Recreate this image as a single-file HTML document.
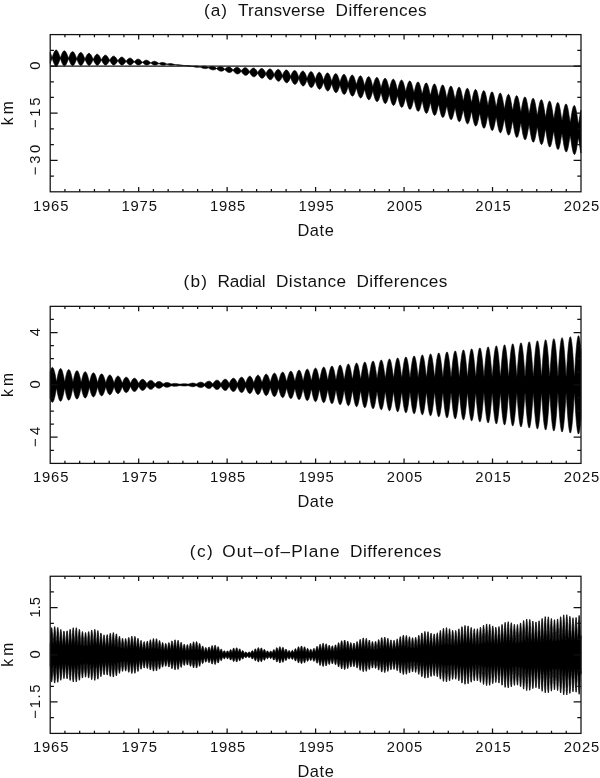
<!DOCTYPE html>
<html><head><meta charset="utf-8"><title>Differences</title>
<style>html,body{margin:0;padding:0;background:#fff}svg{display:block}text{font-family:"Liberation Sans",sans-serif;fill:#111}</style></head><body>
<svg width="600" height="778" viewBox="0 0 600 778">
<rect width="600" height="778" fill="#fff"/>
<g><path d="M50.2 52.32 L50.45 52.96 L50.7 53.65 L50.95 54.37 L51.2 55.12 L51.45 55.88 L51.7 56.66 L51.95 57.43 L52.2 57.5 L52.45 56.77 L52.7 56.02 L52.95 55.28 L53.2 54.57 L53.45 53.89 L53.7 53.25 L53.95 52.65 L54.2 52.11 L54.45 51.62 L54.7 51.19 L54.95 50.82 L55.2 50.52 L55.45 50.29 L55.7 50.13 L55.95 50.05 L56.2 50.03 L56.45 50.09 L56.7 50.23 L56.95 50.43 L57.2 50.7 L57.45 51.04 L57.7 51.44 L57.95 51.9 L58.2 52.41 L58.45 52.98 L58.7 53.59 L58.95 54.24 L59.2 54.92 L59.45 55.62 L59.7 56.35 L59.95 57.08 L60.2 57.79 L60.45 57.73 L60.7 57.04 L60.95 56.33 L61.2 55.64 L61.45 54.98 L61.7 54.35 L61.95 53.75 L62.2 53.2 L62.45 52.7 L62.7 52.25 L62.95 51.85 L63.2 51.52 L63.45 51.25 L63.7 51.04 L63.95 50.9 L64.2 50.83 L64.45 50.83 L64.7 50.89 L64.95 51.02 L65.2 51.22 L65.45 51.49 L65.7 51.81 L65.95 52.2 L66.2 52.63 L66.45 53.12 L66.7 53.66 L66.95 54.23 L67.2 54.84 L67.45 55.48 L67.7 56.15 L67.95 56.83 L68.2 57.51 L68.45 58.16 L68.7 57.99 L68.95 57.34 L69.2 56.68 L69.45 56.04 L69.7 55.43 L69.95 54.84 L70.2 54.29 L70.45 53.79 L70.7 53.32 L70.95 52.91 L71.2 52.55 L71.45 52.25 L71.7 52 L71.95 51.82 L72.2 51.7 L72.45 51.64 L72.7 51.65 L72.95 51.72 L73.2 51.85 L73.45 52.04 L73.7 52.3 L73.95 52.61 L74.2 52.97 L74.45 53.39 L74.7 53.85 L74.95 54.35 L75.2 54.9 L75.45 55.47 L75.7 56.07 L75.95 56.69 L76.2 57.32 L76.45 57.96 L76.7 58.55 L76.95 58.28 L77.2 57.68 L77.45 57.07 L77.7 56.48 L77.95 55.92 L78.2 55.38 L78.45 54.87 L78.7 54.41 L78.95 53.98 L79.2 53.61 L79.45 53.28 L79.7 53.01 L79.95 52.79 L80.2 52.63 L80.45 52.53 L80.7 52.48 L80.95 52.5 L81.2 52.57 L81.45 52.7 L81.7 52.89 L81.95 53.13 L82.2 53.43 L82.45 53.78 L82.7 54.17 L82.95 54.6 L83.2 55.07 L83.45 55.58 L83.7 56.11 L83.95 56.67 L84.2 57.25 L84.45 57.84 L84.7 58.43 L84.95 58.95 L85.2 58.61 L85.45 58.05 L85.7 57.5 L85.95 56.96 L86.2 56.44 L86.45 55.95 L86.7 55.49 L86.95 55.07 L87.2 54.68 L87.45 54.34 L87.7 54.05 L87.95 53.8 L88.2 53.61 L88.45 53.47 L88.7 53.38 L88.95 53.35 L89.2 53.37 L89.45 53.45 L89.7 53.58 L89.95 53.76 L90.2 53.99 L90.45 54.27 L90.7 54.6 L90.95 54.97 L91.2 55.37 L91.45 55.81 L91.7 56.28 L91.95 56.78 L92.2 57.3 L92.45 57.83 L92.7 58.38 L92.95 58.92 L93.2 59.35 L93.45 58.98 L93.7 58.47 L93.95 57.96 L94.2 57.47 L94.45 57 L94.7 56.56 L94.95 56.14 L95.2 55.76 L95.45 55.41 L95.7 55.11 L95.95 54.85 L96.2 54.63 L96.45 54.46 L96.7 54.34 L96.95 54.27 L97.2 54.25 L97.45 54.28 L97.7 54.36 L97.95 54.49 L98.2 54.66 L98.45 54.88 L98.7 55.14 L98.95 55.45 L99.2 55.79 L99.45 56.16 L99.7 56.57 L99.95 57.01 L100.2 57.46 L100.45 57.94 L100.7 58.43 L100.95 58.93 L101.2 59.43 L101.45 59.77 L101.7 59.39 L101.95 58.92 L102.2 58.47 L102.45 58.02 L102.7 57.6 L102.95 57.2 L103.2 56.83 L103.45 56.49 L103.7 56.18 L103.95 55.91 L104.2 55.68 L104.45 55.49 L104.7 55.35 L104.95 55.25 L105.2 55.19 L105.45 55.18 L105.7 55.21 L105.95 55.29 L106.2 55.42 L106.45 55.58 L106.7 55.79 L106.95 56.03 L107.2 56.32 L107.45 56.63 L107.7 56.98 L107.95 57.35 L108.2 57.75 L108.45 58.17 L108.7 58.6 L108.95 59.05 L109.2 59.5 L109.45 59.95 L109.7 60.2 L109.95 59.83 L110.2 59.41 L110.45 59.01 L110.7 58.61 L110.95 58.23 L111.2 57.88 L111.45 57.55 L111.7 57.25 L111.95 56.98 L112.2 56.75 L112.45 56.55 L112.7 56.39 L112.95 56.27 L113.2 56.18 L113.45 56.14 L113.7 56.14 L113.95 56.18 L114.2 56.26 L114.45 56.37 L114.7 56.53 L114.95 56.72 L115.2 56.95 L115.45 57.21 L115.7 57.5 L115.95 57.81 L116.2 58.15 L116.45 58.51 L116.7 58.89 L116.95 59.28 L117.2 59.68 L117.45 60.09 L117.7 60.49 L117.95 60.65 L118.2 60.31 L118.45 59.94 L118.7 59.58 L118.95 59.24 L119.2 58.91 L119.45 58.6 L119.7 58.31 L119.95 58.05 L120.2 57.82 L120.45 57.62 L120.7 57.45 L120.95 57.31 L121.2 57.21 L121.45 57.15 L121.7 57.12 L121.95 57.12 L122.2 57.17 L122.45 57.24 L122.7 57.36 L122.95 57.5 L123.2 57.68 L123.45 57.89 L123.7 58.12 L123.95 58.38 L124.2 58.67 L124.45 58.97 L124.7 59.29 L124.95 59.63 L125.2 59.98 L125.45 60.34 L125.7 60.7 L125.95 61.05 L126.2 61.13 L126.45 60.83 L126.7 60.51 L126.95 60.2 L127.2 59.9 L127.45 59.62 L127.7 59.35 L127.95 59.11 L128.2 58.89 L128.45 58.69 L128.7 58.52 L128.95 58.38 L129.2 58.27 L129.45 58.19 L129.7 58.14 L129.95 58.13 L130.2 58.14 L130.45 58.18 L130.7 58.26 L130.95 58.36 L131.2 58.5 L131.45 58.66 L131.7 58.85 L131.95 59.06 L132.2 59.29 L132.45 59.54 L132.7 59.81 L132.95 60.1 L133.2 60.39 L133.45 60.7 L133.7 61.01 L133.95 61.32 L134.2 61.62 L134.45 61.65 L134.7 61.39 L134.95 61.12 L135.2 60.85 L135.45 60.6 L135.7 60.37 L135.95 60.14 L136.2 59.94 L136.45 59.76 L136.7 59.6 L136.95 59.46 L137.2 59.35 L137.45 59.26 L137.7 59.2 L137.95 59.17 L138.2 59.16 L138.45 59.18 L138.7 59.23 L138.95 59.3 L139.2 59.4 L139.45 59.52 L139.7 59.66 L139.95 59.83 L140.2 60.02 L140.45 60.22 L140.7 60.44 L140.95 60.67 L141.2 60.92 L141.45 61.17 L141.7 61.43 L141.95 61.7 L142.2 61.97 L142.45 62.22 L142.7 62.2 L142.95 61.98 L143.2 61.76 L143.45 61.55 L143.7 61.34 L143.95 61.15 L144.2 60.97 L144.45 60.81 L144.7 60.67 L144.95 60.54 L145.2 60.44 L145.45 60.35 L145.7 60.29 L145.95 60.25 L146.2 60.23 L146.45 60.23 L146.7 60.26 L146.95 60.3 L147.2 60.37 L147.45 60.46 L147.7 60.57 L147.95 60.69 L148.2 60.84 L148.45 61 L148.7 61.17 L148.95 61.36 L149.2 61.55 L149.45 61.76 L149.7 61.97 L149.95 62.19 L150.2 62.41 L150.45 62.63 L150.7 62.83 L150.95 62.79 L151.2 62.61 L151.45 62.44 L151.7 62.27 L151.95 62.12 L152.2 61.97 L152.45 61.84 L152.7 61.71 L152.95 61.61 L153.2 61.52 L153.45 61.44 L153.7 61.38 L153.95 61.34 L154.2 61.32 L154.45 61.31 L154.7 61.33 L154.95 61.35 L155.2 61.4 L155.45 61.46 L155.7 61.54 L155.95 61.64 L156.2 61.74 L156.45 61.87 L156.7 62 L156.95 62.14 L157.2 62.29 L157.45 62.45 L157.7 62.62 L157.95 62.79 L158.2 62.96 L158.45 63.14 L158.7 63.31 L158.95 63.46 L159.2 63.41 L159.45 63.28 L159.7 63.16 L159.95 63.04 L160.2 62.93 L160.45 62.83 L160.7 62.74 L160.95 62.66 L161.2 62.58 L161.45 62.53 L161.7 62.48 L161.95 62.45 L162.2 62.43 L162.45 62.42 L162.7 62.43 L162.95 62.45 L163.2 62.48 L163.45 62.53 L163.7 62.58 L163.95 62.65 L164.2 62.73 L164.45 62.82 L164.7 62.92 L164.95 63.02 L165.2 63.13 L165.45 63.25 L165.7 63.37 L165.95 63.5 L166.2 63.63 L166.45 63.75 L166.7 63.88 L166.95 64.01 L167.2 64.12 L167.45 64.07 L167.7 63.99 L167.95 63.92 L168.2 63.85 L168.45 63.78 L168.7 63.72 L168.95 63.67 L169.2 63.63 L169.45 63.6 L169.7 63.57 L169.95 63.55 L170.2 63.55 L170.45 63.55 L170.7 63.56 L170.95 63.58 L171.2 63.6 L171.45 63.64 L171.7 63.68 L171.95 63.73 L172.2 63.79 L172.45 63.85 L172.7 63.92 L172.95 63.99 L173.2 64.07 L173.45 64.15 L173.7 64.23 L173.95 64.31 L174.2 64.4 L174.45 64.48 L174.7 64.56 L174.95 64.65 L175.2 64.73 L175.45 64.79 L175.7 64.77 L175.95 64.74 L176.2 64.71 L176.45 64.69 L176.7 64.67 L176.95 64.66 L177.2 64.65 L177.45 64.64 L177.7 64.64 L177.95 64.65 L178.2 64.66 L178.45 64.68 L178.7 64.7 L178.95 64.72 L179.2 64.75 L179.45 64.79 L179.7 64.82 L179.95 64.86 L180.2 64.9 L180.45 64.95 L180.7 64.99 L180.95 65.04 L181.2 65.09 L181.45 65.13 L181.7 65.18 L181.95 65.23 L182.2 65.27 L182.45 65.31 L182.7 65.35 L182.95 65.39 L183.2 65.43 L183.45 65.46 L183.7 65.49 L183.95 65.51 L184.2 65.52 L184.45 65.54 L184.7 65.57 L184.95 65.59 L185.2 65.62 L185.45 65.63 L185.7 65.64 L185.95 65.64 L186.2 65.65 L186.45 65.65 L186.7 65.66 L186.95 65.66 L187.2 65.66 L187.45 65.67 L187.7 65.67 L187.95 65.68 L188.2 65.69 L188.45 65.7 L188.7 65.71 L188.95 65.73 L189.2 65.74 L189.45 65.77 L189.7 65.79 L189.95 65.82 L190.2 65.86 L190.45 65.9 L190.7 65.94 L190.95 65.99 L191.2 66.04 L191.45 66.09 L191.7 66.15 L191.95 66.19 L192.2 66.17 L192.45 66.15 L192.7 66.13 L192.95 66.1 L193.2 66.07 L193.45 66.04 L193.7 66.02 L193.95 65.99 L194.2 65.96 L194.45 65.94 L194.7 65.92 L194.95 65.9 L195.2 65.89 L195.45 65.88 L195.7 65.88 L195.95 65.88 L196.2 65.89 L196.45 65.9 L196.7 65.92 L196.95 65.95 L197.2 65.99 L197.45 66.03 L197.7 66.09 L197.95 66.15 L198.2 66.21 L198.45 66.29 L198.7 66.37 L198.95 66.45 L199.2 66.55 L199.45 66.65 L199.7 66.75 L199.95 66.85 L200.2 66.9 L200.45 66.84 L200.7 66.71 L200.95 66.64 L201.2 66.57 L201.45 66.5 L201.7 66.43 L201.95 66.37 L202.2 66.32 L202.45 66.27 L202.7 66.23 L202.95 66.19 L203.2 66.16 L203.45 66.13 L203.7 66.12 L203.95 66.11 L204.2 66.11 L204.45 66.13 L204.7 66.15 L204.95 66.18 L205.2 66.22 L205.45 66.27 L205.7 66.33 L205.95 66.4 L206.2 66.48 L206.45 66.58 L206.7 66.68 L206.95 66.79 L207.2 66.92 L207.45 67.06 L207.7 67.21 L207.95 67.37 L208.2 67.55 L208.45 67.6 L208.7 67.46 L208.95 67.32 L209.2 67.2 L209.45 67.08 L209.7 66.97 L209.95 66.87 L210.2 66.78 L210.45 66.69 L210.7 66.62 L210.95 66.55 L211.2 66.49 L211.45 66.45 L211.7 66.41 L211.95 66.39 L212.2 66.38 L212.45 66.38 L212.7 66.39 L212.95 66.42 L213.2 66.46 L213.45 66.52 L213.7 66.59 L213.95 66.67 L214.2 66.77 L214.45 66.88 L214.7 67.01 L214.95 67.15 L215.2 67.31 L215.45 67.48 L215.7 67.66 L215.95 67.86 L216.2 68.08 L216.45 68.32 L216.7 68.33 L216.95 68.13 L217.2 67.95 L217.45 67.78 L217.7 67.62 L217.95 67.47 L218.2 67.33 L218.45 67.21 L218.7 67.09 L218.95 66.99 L219.2 66.9 L219.45 66.82 L219.7 66.76 L219.95 66.71 L220.2 66.68 L220.45 66.67 L220.7 66.67 L220.95 66.69 L221.2 66.72 L221.45 66.78 L221.7 66.85 L221.95 66.94 L222.2 67.05 L222.45 67.17 L222.7 67.32 L222.95 67.48 L223.2 67.66 L223.45 67.86 L223.7 68.07 L223.95 68.3 L224.2 68.55 L224.45 68.83 L224.7 69.14 L224.95 69.08 L225.2 68.83 L225.45 68.59 L225.7 68.38 L225.95 68.17 L226.2 67.99 L226.45 67.81 L226.7 67.65 L226.95 67.51 L227.2 67.38 L227.45 67.27 L227.7 67.17 L227.95 67.1 L228.2 67.04 L228.45 67 L228.7 66.98 L228.95 66.99 L229.2 67.01 L229.45 67.06 L229.7 67.13 L229.95 67.22 L230.2 67.33 L230.45 67.46 L230.7 67.61 L230.95 67.79 L231.2 67.99 L231.45 68.2 L231.7 68.44 L231.95 68.7 L232.2 68.98 L232.45 69.28 L232.7 69.62 L232.95 69.99 L233.2 69.85 L233.45 69.54 L233.7 69.25 L233.95 68.99 L234.2 68.75 L234.45 68.52 L234.7 68.31 L234.95 68.12 L235.2 67.95 L235.45 67.79 L235.7 67.66 L235.95 67.55 L236.2 67.46 L236.45 67.39 L236.7 67.35 L236.95 67.33 L237.2 67.33 L237.45 67.37 L237.7 67.42 L237.95 67.5 L238.2 67.61 L238.45 67.74 L238.7 67.9 L238.95 68.09 L239.2 68.29 L239.45 68.53 L239.7 68.78 L239.95 69.06 L240.2 69.37 L240.45 69.7 L240.7 70.06 L240.95 70.45 L241.2 70.88 L241.45 70.62 L241.7 70.26 L241.95 69.93 L242.2 69.63 L242.45 69.34 L242.7 69.08 L242.95 68.83 L243.2 68.61 L243.45 68.41 L243.7 68.23 L243.95 68.08 L244.2 67.95 L244.45 67.85 L244.7 67.77 L244.95 67.72 L245.2 67.7 L245.45 67.71 L245.7 67.75 L245.95 67.82 L246.2 67.91 L246.45 68.04 L246.7 68.19 L246.95 68.38 L247.2 68.59 L247.45 68.83 L247.7 69.1 L247.95 69.4 L248.2 69.72 L248.45 70.07 L248.7 70.45 L248.95 70.87 L249.2 71.32 L249.45 71.79 L249.7 71.42 L249.95 71.01 L250.2 70.63 L250.45 70.28 L250.7 69.96 L250.95 69.65 L251.2 69.38 L251.45 69.12 L251.7 68.89 L251.95 68.69 L252.2 68.52 L252.45 68.38 L252.7 68.26 L252.95 68.18 L253.2 68.12 L253.45 68.1 L253.7 68.12 L253.95 68.16 L254.2 68.24 L254.45 68.35 L254.7 68.5 L254.95 68.68 L255.2 68.89 L255.45 69.13 L255.7 69.41 L255.95 69.71 L256.2 70.05 L256.45 70.42 L256.7 70.82 L256.95 71.25 L257.2 71.71 L257.45 72.23 L257.7 72.71 L257.95 72.23 L258.2 71.77 L258.45 71.35 L258.7 70.95 L258.95 70.59 L259.2 70.25 L259.45 69.94 L259.7 69.66 L259.95 69.4 L260.2 69.18 L260.45 68.99 L260.7 68.83 L260.95 68.7 L261.2 68.61 L261.45 68.55 L261.7 68.53 L261.95 68.55 L262.2 68.6 L262.45 68.7 L262.7 68.82 L262.95 68.99 L263.2 69.19 L263.45 69.43 L263.7 69.71 L263.95 70.02 L264.2 70.36 L264.45 70.74 L264.7 71.15 L264.95 71.6 L265.2 72.08 L265.45 72.6 L265.7 73.17 L265.95 73.59 L266.2 73.05 L266.45 72.54 L266.7 72.08 L266.95 71.64 L267.2 71.24 L267.45 70.87 L267.7 70.52 L267.95 70.21 L268.2 69.93 L268.45 69.68 L268.7 69.47 L268.95 69.3 L269.2 69.16 L269.45 69.07 L269.7 69.01 L269.95 68.99 L270.2 69.01 L270.45 69.08 L270.7 69.18 L270.95 69.33 L271.2 69.51 L271.45 69.74 L271.7 70.01 L271.95 70.31 L272.2 70.66 L272.45 71.04 L272.7 71.46 L272.95 71.92 L273.2 72.41 L273.45 72.94 L273.7 73.52 L273.95 74.14 L274.2 74.46 L274.45 73.88 L274.7 73.33 L274.95 72.82 L275.2 72.35 L275.45 71.91 L275.7 71.5 L275.95 71.13 L276.2 70.79 L276.45 70.48 L276.7 70.22 L276.95 69.99 L277.2 69.8 L277.45 69.65 L277.7 69.55 L277.95 69.49 L278.2 69.48 L278.45 69.5 L278.7 69.58 L278.95 69.7 L279.2 69.86 L279.45 70.07 L279.7 70.32 L279.95 70.62 L280.2 70.96 L280.45 71.34 L280.7 71.76 L280.95 72.22 L281.2 72.72 L281.45 73.26 L281.7 73.84 L281.95 74.47 L282.2 75.14 L282.45 75.34 L282.7 74.73 L282.95 74.14 L283.2 73.59 L283.45 73.07 L283.7 72.6 L283.95 72.15 L284.2 71.75 L284.45 71.38 L284.7 71.05 L284.95 70.77 L285.2 70.52 L285.45 70.32 L285.7 70.17 L285.95 70.06 L286.2 70 L286.45 69.99 L286.7 70.03 L286.95 70.11 L287.2 70.24 L287.45 70.43 L287.7 70.66 L287.95 70.94 L288.2 71.26 L288.45 71.63 L288.7 72.05 L288.95 72.51 L289.2 73.01 L289.45 73.55 L289.7 74.14 L289.95 74.77 L290.2 75.45 L290.45 76.15 L290.7 76.23 L290.95 75.58 L291.2 74.95 L291.45 74.36 L291.7 73.81 L291.95 73.3 L292.2 72.83 L292.45 72.39 L292.7 72 L292.95 71.65 L293.2 71.34 L293.45 71.09 L293.7 70.87 L293.95 70.71 L294.2 70.6 L294.45 70.54 L294.7 70.53 L294.95 70.58 L295.2 70.67 L295.45 70.82 L295.7 71.02 L295.95 71.28 L296.2 71.58 L296.45 71.94 L296.7 72.34 L296.95 72.79 L297.2 73.29 L297.45 73.84 L297.7 74.43 L297.95 75.06 L298.2 75.74 L298.45 76.46 L298.7 77.19 L298.95 77.13 L299.2 76.45 L299.45 75.79 L299.7 75.16 L299.95 74.57 L300.2 74.03 L300.45 73.52 L300.7 73.06 L300.95 72.64 L301.2 72.27 L301.45 71.94 L301.7 71.67 L301.95 71.45 L302.2 71.28 L302.45 71.17 L302.7 71.11 L302.95 71.1 L303.2 71.15 L303.45 71.26 L303.7 71.43 L303.95 71.65 L304.2 71.93 L304.45 72.26 L304.7 72.65 L304.95 73.08 L305.2 73.57 L305.45 74.11 L305.7 74.7 L305.95 75.33 L306.2 76.01 L306.45 76.74 L306.7 77.5 L306.95 78.23 L307.2 78.04 L307.45 77.33 L307.7 76.63 L307.95 75.97 L308.2 75.35 L308.45 74.77 L308.7 74.23 L308.95 73.74 L309.2 73.3 L309.45 72.91 L309.7 72.57 L309.95 72.28 L310.2 72.05 L310.45 71.87 L310.7 71.76 L310.95 71.7 L311.2 71.7 L311.45 71.76 L311.7 71.89 L311.95 72.07 L312.2 72.31 L312.45 72.61 L312.7 72.97 L312.95 73.39 L313.2 73.86 L313.45 74.38 L313.7 74.96 L313.95 75.59 L314.2 76.27 L314.45 76.99 L314.7 77.76 L314.95 78.55 L315.2 79.25 L315.45 78.95 L315.7 78.22 L315.95 77.49 L316.2 76.79 L316.45 76.14 L316.7 75.53 L316.95 74.96 L317.2 74.45 L317.45 73.98 L317.7 73.57 L317.95 73.21 L318.2 72.92 L318.45 72.67 L318.7 72.49 L318.95 72.38 L319.2 72.32 L319.45 72.33 L319.7 72.4 L319.95 72.54 L320.2 72.74 L320.45 73 L320.7 73.33 L320.95 73.72 L321.2 74.16 L321.45 74.67 L321.7 75.23 L321.95 75.84 L322.2 76.51 L322.45 77.23 L322.7 77.99 L322.95 78.8 L323.2 79.62 L323.45 80.26 L323.7 79.86 L323.95 79.11 L324.2 78.35 L324.45 77.62 L324.7 76.94 L324.95 76.3 L325.2 75.71 L325.45 75.17 L325.7 74.68 L325.95 74.25 L326.2 73.88 L326.45 73.57 L326.7 73.33 L326.95 73.14 L327.2 73.02 L327.45 72.97 L327.7 72.99 L327.95 73.07 L328.2 73.22 L328.45 73.44 L328.7 73.72 L328.95 74.08 L329.2 74.49 L329.45 74.97 L329.7 75.51 L329.95 76.1 L330.2 76.76 L330.45 77.46 L330.7 78.22 L330.95 79.03 L331.2 79.86 L331.45 80.69 L331.7 81.26 L331.95 80.78 L332.2 80.01 L332.45 79.23 L332.7 78.47 L332.95 77.76 L333.2 77.09 L333.45 76.48 L333.7 75.91 L333.95 75.41 L334.2 74.96 L334.45 74.58 L334.7 74.26 L334.95 74 L335.2 73.82 L335.45 73.7 L335.7 73.65 L335.95 73.67 L336.2 73.77 L336.45 73.94 L336.7 74.17 L336.95 74.48 L337.2 74.85 L337.45 75.3 L337.7 75.81 L337.95 76.38 L338.2 77.01 L338.45 77.7 L338.7 78.45 L338.95 79.24 L339.2 80.08 L339.45 80.95 L339.7 81.78 L339.95 82.25 L340.2 81.71 L340.45 80.92 L340.7 80.12 L340.95 79.33 L341.2 78.59 L341.45 77.9 L341.7 77.26 L341.95 76.68 L342.2 76.15 L342.45 75.69 L342.7 75.29 L342.95 74.96 L343.2 74.7 L343.45 74.52 L343.7 74.4 L343.95 74.36 L344.2 74.39 L344.45 74.5 L344.7 74.68 L344.95 74.94 L345.2 75.26 L345.45 75.67 L345.7 76.14 L345.95 76.68 L346.2 77.28 L346.45 77.95 L346.7 78.68 L346.95 79.47 L347.2 80.3 L347.45 81.18 L347.7 82.08 L347.95 82.91 L348.2 83.28 L348.45 82.69 L348.7 81.87 L348.95 81.04 L349.2 80.23 L349.45 79.46 L349.7 78.74 L349.95 78.07 L350.2 77.47 L350.45 76.93 L350.7 76.45 L350.95 76.04 L351.2 75.7 L351.45 75.43 L351.7 75.24 L351.95 75.13 L352.2 75.09 L352.45 75.14 L352.7 75.26 L352.95 75.45 L353.2 75.73 L353.45 76.08 L353.7 76.51 L353.95 77.01 L354.2 77.58 L354.45 78.23 L354.7 78.93 L354.95 79.7 L355.2 80.53 L355.45 81.4 L355.7 82.32 L355.95 83.24 L356.2 84.08 L356.45 84.34 L356.7 83.69 L356.95 82.85 L357.2 81.98 L357.45 81.14 L357.7 80.34 L357.95 79.6 L358.2 78.91 L358.45 78.28 L358.7 77.72 L358.95 77.23 L359.2 76.81 L359.45 76.46 L359.7 76.19 L359.95 76 L360.2 75.89 L360.45 75.86 L360.7 75.91 L360.95 76.04 L361.2 76.26 L361.45 76.56 L361.7 76.93 L361.95 77.39 L362.2 77.92 L362.45 78.53 L362.7 79.2 L362.95 79.94 L363.2 80.75 L363.45 81.62 L363.7 82.53 L363.95 83.48 L364.2 84.43 L364.45 85.26 L364.7 85.4 L364.95 84.71 L365.2 83.83 L365.45 82.94 L365.7 82.07 L365.95 81.25 L366.2 80.47 L366.45 79.76 L366.7 79.12 L366.95 78.54 L367.2 78.03 L367.45 77.6 L367.7 77.24 L367.95 76.97 L368.2 76.78 L368.45 76.67 L368.7 76.65 L368.95 76.71 L369.2 76.86 L369.45 77.1 L369.7 77.41 L369.95 77.82 L370.2 78.3 L370.45 78.86 L370.7 79.5 L370.95 80.21 L371.2 80.99 L371.45 81.84 L371.7 82.74 L371.95 83.69 L372.2 84.68 L372.45 85.65 L372.7 86.45 L372.95 86.48 L373.2 85.74 L373.45 84.84 L373.7 83.92 L373.95 83.02 L374.2 82.17 L374.45 81.37 L374.7 80.64 L374.95 79.97 L375.2 79.38 L375.45 78.86 L375.7 78.42 L375.95 78.06 L376.2 77.78 L376.45 77.59 L376.7 77.49 L376.95 77.47 L377.2 77.55 L377.45 77.71 L377.7 77.96 L377.95 78.3 L378.2 78.73 L378.45 79.24 L378.7 79.83 L378.95 80.5 L379.2 81.25 L379.45 82.07 L379.7 82.95 L379.95 83.9 L380.2 84.88 L380.45 85.9 L380.7 86.88 L380.95 87.66 L381.2 87.57 L381.45 86.79 L381.7 85.86 L381.95 84.91 L382.2 83.99 L382.45 83.11 L382.7 82.29 L382.95 81.54 L383.2 80.85 L383.45 80.24 L383.7 79.71 L383.95 79.26 L384.2 78.89 L384.45 78.61 L384.7 78.43 L384.95 78.33 L385.2 78.32 L385.45 78.41 L385.7 78.59 L385.95 78.86 L386.2 79.23 L386.45 79.68 L386.7 80.22 L386.95 80.84 L387.2 81.54 L387.45 82.33 L387.7 83.18 L387.95 84.1 L388.2 85.08 L388.45 86.11 L388.7 87.15 L388.95 88.14 L389.2 88.88 L389.45 88.67 L389.7 87.86 L389.95 86.9 L390.2 85.92 L390.45 84.97 L390.7 84.07 L390.95 83.23 L391.2 82.45 L391.45 81.75 L391.7 81.13 L391.95 80.58 L392.2 80.12 L392.45 79.76 L392.7 79.48 L392.95 79.29 L393.2 79.2 L393.45 79.2 L393.7 79.3 L393.95 79.5 L394.2 79.79 L394.45 80.18 L394.7 80.66 L394.95 81.22 L395.2 81.88 L395.45 82.62 L395.7 83.43 L395.95 84.32 L396.2 85.28 L396.45 86.3 L396.7 87.36 L396.95 88.42 L397.2 89.42 L397.45 90.1 L397.7 89.79 L397.95 88.94 L398.2 87.95 L398.45 86.95 L398.7 85.97 L398.95 85.05 L399.2 84.19 L399.45 83.39 L399.7 82.67 L399.95 82.04 L400.2 81.48 L400.45 81.02 L400.7 80.64 L400.95 80.37 L401.2 80.18 L401.45 80.1 L401.7 80.11 L401.95 80.23 L402.2 80.44 L402.45 80.75 L402.7 81.16 L402.95 81.67 L403.2 82.26 L403.45 82.95 L403.7 83.72 L403.95 84.57 L404.2 85.5 L404.45 86.49 L404.7 87.54 L404.95 88.63 L405.2 89.72 L405.45 90.71 L405.7 91.34 L405.95 90.92 L406.2 90.03 L406.45 89.02 L406.7 87.99 L406.95 87 L407.2 86.05 L407.45 85.17 L407.7 84.35 L407.95 83.62 L408.2 82.97 L408.45 82.41 L408.7 81.94 L408.95 81.56 L409.2 81.28 L409.45 81.1 L409.7 81.03 L409.95 81.05 L410.2 81.18 L410.45 81.41 L410.7 81.74 L410.95 82.18 L411.2 82.71 L411.45 83.33 L411.7 84.05 L411.95 84.86 L412.2 85.74 L412.45 86.71 L412.7 87.74 L412.95 88.82 L413.2 89.94 L413.45 91.04 L413.7 92.03 L413.95 92.57 L414.2 92.06 L414.45 91.14 L414.7 90.11 L414.95 89.06 L415.2 88.04 L415.45 87.07 L415.7 86.17 L415.95 85.34 L416.2 84.59 L416.45 83.93 L416.7 83.35 L416.95 82.88 L417.2 82.5 L417.45 82.22 L417.7 82.05 L417.95 81.98 L418.2 82.02 L418.45 82.16 L418.7 82.41 L418.95 82.77 L419.2 83.22 L419.45 83.78 L419.7 84.44 L419.95 85.19 L420.2 86.03 L420.45 86.95 L420.7 87.95 L420.95 89.01 L421.2 90.13 L421.45 91.27 L421.7 92.39 L421.95 93.36 L422.2 93.8 L422.45 93.22 L422.7 92.27 L422.95 91.21 L423.2 90.14 L423.45 89.1 L423.7 88.11 L423.95 87.19 L424.2 86.34 L424.45 85.58 L424.7 84.91 L424.95 84.33 L425.2 83.85 L425.45 83.47 L425.7 83.19 L425.95 83.03 L426.2 82.97 L426.45 83.02 L426.7 83.18 L426.95 83.45 L427.2 83.82 L427.45 84.3 L427.7 84.89 L427.95 85.57 L428.2 86.35 L428.45 87.23 L428.7 88.18 L428.95 89.21 L429.2 90.31 L429.45 91.46 L429.7 92.63 L429.95 93.76 L430.2 94.7 L430.45 95.04 L430.7 94.4 L430.95 93.41 L431.2 92.33 L431.45 91.24 L431.7 90.18 L431.95 89.17 L432.2 88.23 L432.45 87.37 L432.7 86.59 L432.95 85.91 L433.2 85.33 L433.45 84.84 L433.7 84.46 L433.95 84.19 L434.2 84.03 L434.45 83.98 L434.7 84.05 L434.95 84.22 L435.2 84.51 L435.45 84.91 L435.7 85.41 L435.95 86.03 L436.2 86.74 L436.45 87.55 L436.7 88.46 L436.95 89.45 L437.2 90.52 L437.45 91.65 L437.7 92.82 L437.95 94.01 L438.2 95.14 L438.45 96.06 L438.7 96.28 L438.95 95.58 L439.2 94.58 L439.45 93.47 L439.7 92.36 L439.95 91.28 L440.2 90.25 L440.45 89.3 L440.7 88.42 L440.95 87.63 L441.2 86.94 L441.45 86.35 L441.7 85.86 L441.95 85.49 L442.2 85.22 L442.45 85.06 L442.7 85.03 L442.95 85.1 L443.2 85.3 L443.45 85.6 L443.7 86.03 L443.95 86.56 L444.2 87.2 L444.45 87.95 L444.7 88.8 L444.95 89.74 L445.2 90.76 L445.45 91.87 L445.7 93.04 L445.95 94.26 L446.2 95.48 L446.45 96.63 L446.7 97.53 L446.95 97.64 L447.2 96.88 L447.45 95.82 L447.7 94.68 L447.95 93.54 L448.2 92.43 L448.45 91.38 L448.7 90.4 L448.95 89.51 L449.2 88.71 L449.45 88.01 L449.7 87.41 L449.95 86.92 L450.2 86.54 L450.45 86.27 L450.7 86.13 L450.95 86.1 L451.2 86.19 L451.45 86.4 L451.7 86.73 L451.95 87.18 L452.2 87.74 L452.45 88.41 L452.7 89.19 L452.95 90.08 L453.2 91.06 L453.45 92.12 L453.7 93.27 L453.95 94.48 L454.2 95.73 L454.45 96.99 L454.7 98.15 L454.95 99.03 L455.2 99.02 L455.45 98.19 L455.7 97.09 L455.95 95.92 L456.2 94.74 L456.45 93.6 L456.7 92.53 L456.95 91.53 L457.2 90.62 L457.45 89.81 L457.7 89.09 L457.95 88.49 L458.2 87.99 L458.45 87.61 L458.7 87.36 L458.95 87.22 L459.2 87.2 L459.45 87.31 L459.7 87.54 L459.95 87.89 L460.2 88.36 L460.45 88.95 L460.7 89.66 L460.95 90.47 L461.2 91.39 L461.45 92.41 L461.7 93.52 L461.95 94.7 L462.2 95.96 L462.45 97.25 L462.7 98.53 L462.95 99.71 L463.2 100.55 L463.45 100.42 L463.7 99.52 L463.95 98.38 L464.2 97.17 L464.45 95.96 L464.7 94.8 L464.95 93.7 L465.2 92.68 L465.45 91.76 L465.7 90.93 L465.95 90.2 L466.2 89.59 L466.45 89.1 L466.7 88.72 L466.95 88.47 L467.2 88.34 L467.45 88.33 L467.7 88.46 L467.95 88.71 L468.2 89.08 L468.45 89.58 L468.7 90.2 L468.95 90.94 L469.2 91.78 L469.45 92.74 L469.7 93.8 L469.95 94.95 L470.2 96.17 L470.45 97.47 L470.7 98.79 L470.95 100.1 L471.2 101.29 L471.45 102.1 L471.7 101.83 L471.95 100.88 L472.2 99.69 L472.45 98.44 L472.7 97.21 L472.95 96.02 L473.2 94.9 L473.45 93.86 L473.7 92.91 L473.95 92.07 L474.2 91.34 L474.45 90.72 L474.7 90.23 L474.95 89.85 L475.2 89.6 L475.45 89.48 L475.7 89.49 L475.95 89.63 L476.2 89.9 L476.45 90.3 L476.7 90.83 L476.95 91.48 L477.2 92.25 L477.45 93.13 L477.7 94.13 L477.95 95.22 L478.2 96.41 L478.45 97.68 L478.7 99.01 L478.95 100.37 L479.2 101.71 L479.45 102.9 L479.7 103.65 L479.95 103.26 L480.2 102.25 L480.45 101.02 L480.7 99.74 L480.95 98.47 L481.2 97.26 L481.45 96.11 L481.7 95.06 L481.95 94.1 L482.2 93.24 L482.45 92.5 L482.7 91.88 L482.95 91.38 L483.2 91.01 L483.45 90.77 L483.7 90.66 L483.95 90.68 L484.2 90.84 L484.45 91.13 L484.7 91.56 L484.95 92.11 L485.2 92.79 L485.45 93.59 L485.7 94.51 L485.95 95.54 L486.2 96.68 L486.45 97.91 L486.7 99.22 L486.95 100.59 L487.2 101.99 L487.45 103.35 L487.7 104.54 L487.95 105.23 L488.2 104.71 L488.45 103.64 L488.7 102.37 L488.95 101.05 L489.2 99.76 L489.45 98.52 L489.7 97.35 L489.95 96.28 L490.2 95.3 L490.45 94.44 L490.7 93.69 L490.95 93.06 L491.2 92.57 L491.45 92.2 L491.7 91.96 L491.95 91.87 L492.2 91.9 L492.45 92.08 L492.7 92.39 L492.95 92.84 L493.2 93.42 L493.45 94.13 L493.7 94.97 L493.95 95.93 L494.2 97 L494.45 98.17 L494.7 99.44 L494.95 100.79 L495.2 102.2 L495.45 103.64 L495.7 105.02 L495.95 106.21 L496.2 106.8 L496.45 106.18 L496.7 105.04 L496.95 103.73 L497.2 102.39 L497.45 101.06 L497.7 99.8 L497.95 98.61 L498.2 97.52 L498.45 96.53 L498.7 95.66 L498.95 94.9 L499.2 94.27 L499.45 93.78 L499.7 93.41 L499.95 93.19 L500.2 93.1 L500.45 93.16 L500.7 93.35 L500.95 93.69 L501.2 94.16 L501.45 94.77 L501.7 95.51 L501.95 96.38 L502.2 97.38 L502.45 98.49 L502.7 99.7 L502.95 101.01 L503.2 102.4 L503.45 103.85 L503.7 105.32 L503.95 106.72 L504.2 107.9 L504.45 108.38 L504.7 107.66 L504.95 106.47 L505.2 105.12 L505.45 103.74 L505.7 102.39 L505.95 101.1 L506.2 99.9 L506.45 98.79 L506.7 97.79 L506.95 96.9 L507.2 96.14 L507.45 95.51 L507.7 95.01 L507.95 94.66 L508.2 94.44 L508.45 94.36 L508.7 94.44 L508.95 94.65 L509.2 95.01 L509.45 95.51 L509.7 96.15 L509.95 96.92 L510.2 97.83 L510.45 98.86 L510.7 100.01 L510.95 101.26 L511.2 102.62 L511.45 104.05 L511.7 105.53 L511.95 107.03 L512.2 108.45 L512.45 109.61 L512.7 109.97 L512.95 109.16 L513.2 107.92 L513.45 106.53 L513.7 105.12 L513.95 103.74 L514.2 102.43 L514.45 101.2 L514.7 100.08 L514.95 99.06 L515.2 98.17 L515.45 97.4 L515.7 96.77 L515.95 96.28 L516.2 95.93 L516.45 95.72 L516.7 95.66 L516.95 95.75 L517.2 95.98 L517.45 96.36 L517.7 96.89 L517.95 97.56 L518.2 98.37 L518.45 99.31 L518.7 100.38 L518.95 101.57 L519.2 102.86 L519.45 104.26 L519.7 105.73 L519.95 107.25 L520.2 108.78 L520.45 110.21 L520.7 111.35 L520.95 111.57 L521.2 110.67 L521.45 109.38 L521.7 107.96 L521.95 106.52 L522.2 105.11 L522.45 103.78 L522.7 102.53 L522.95 101.39 L523.2 100.37 L523.45 99.46 L523.7 98.69 L523.95 98.06 L524.2 97.57 L524.45 97.22 L524.7 97.03 L524.95 96.98 L525.2 97.09 L525.45 97.34 L525.7 97.75 L525.95 98.31 L526.2 99.01 L526.45 99.85 L526.7 100.82 L526.95 101.93 L527.2 103.16 L527.45 104.5 L527.7 105.93 L527.95 107.44 L528.2 109 L528.45 110.56 L528.7 112 L528.95 113.1 L529.2 113.18 L529.45 112.21 L529.7 110.87 L529.95 109.41 L530.2 107.93 L530.45 106.5 L530.7 105.15 L530.95 103.88 L531.2 102.73 L531.45 101.69 L531.7 100.78 L531.95 100.01 L532.2 99.38 L532.45 98.89 L532.7 98.55 L532.95 98.37 L533.2 98.33 L533.45 98.46 L533.7 98.74 L533.95 99.17 L534.2 99.75 L534.45 100.48 L534.7 101.36 L534.95 102.37 L535.2 103.52 L535.45 104.78 L535.7 106.16 L535.95 107.64 L536.2 109.19 L536.45 110.79 L536.7 112.37 L536.95 113.82 L537.2 114.88 L537.45 114.81 L537.7 113.76 L537.95 112.37 L538.2 110.87 L538.45 109.37 L538.7 107.92 L538.95 106.54 L539.2 105.26 L539.45 104.09 L539.7 103.04 L539.95 102.13 L540.2 101.35 L540.45 100.72 L540.7 100.23 L540.95 99.91 L541.2 99.73 L541.45 99.72 L541.7 99.86 L541.95 100.16 L542.2 100.62 L542.45 101.23 L542.7 102 L542.95 102.91 L543.2 103.96 L543.45 105.14 L543.7 106.45 L543.95 107.87 L544.2 109.38 L544.45 110.98 L544.7 112.61 L544.95 114.22 L545.2 115.67 L545.45 116.68 L545.7 116.46 L545.95 115.33 L546.2 113.9 L546.45 112.36 L546.7 110.83 L546.95 109.35 L547.2 107.95 L547.45 106.66 L547.7 105.47 L547.95 104.42 L548.2 103.5 L548.45 102.72 L548.7 102.09 L548.95 101.61 L549.2 101.29 L549.45 101.13 L549.7 101.13 L549.95 101.29 L550.2 101.62 L550.45 102.1 L550.7 102.74 L550.95 103.54 L551.2 104.48 L551.45 105.57 L551.7 106.79 L551.95 108.14 L552.2 109.6 L552.45 111.16 L552.7 112.79 L552.95 114.46 L553.2 116.09 L553.45 117.54 L553.7 118.49 L553.95 118.11 L554.2 116.92 L554.45 115.44 L554.7 113.87 L554.95 112.31 L555.2 110.81 L555.45 109.39 L555.7 108.08 L555.95 106.88 L556.2 105.82 L556.45 104.89 L556.7 104.11 L556.95 103.48 L557.2 103.01 L557.45 102.7 L557.7 102.55 L557.95 102.57 L558.2 102.75 L558.45 103.1 L558.7 103.62 L558.95 104.29 L559.2 105.12 L559.45 106.1 L559.7 107.22 L559.95 108.49 L560.2 109.87 L560.45 111.38 L560.7 112.98 L560.95 114.65 L561.2 116.35 L561.45 118 L561.7 119.44 L561.95 120.32 L562.2 119.79 L562.45 118.53 L562.7 117 L562.95 115.4 L563.2 113.82 L563.45 112.29 L563.7 110.85 L563.95 109.52 L564.2 108.32 L564.45 107.24 L564.7 106.31 L564.95 105.53 L565.2 104.9 L565.45 104.44 L565.7 104.14 L565.95 104.01 L566.2 104.04 L566.45 104.25 L566.7 104.62 L566.95 105.16 L567.2 105.87 L567.45 106.73 L567.7 107.74 L567.95 108.91 L568.2 110.21 L568.45 111.64 L568.7 113.18 L568.95 114.83 L569.2 116.53 L569.45 118.27 L569.7 119.94 L569.95 121.37 L570.2 122.15 L570.45 121.48 L570.7 120.15 L570.95 118.59 L571.2 116.95 L571.45 115.34 L571.7 113.79 L571.95 112.34 L572.2 110.99 L572.45 109.77 L572.7 108.69 L572.95 107.76 L573.2 106.98 L573.45 106.35 L573.7 105.9 L573.95 105.61 L574.2 105.49 L574.45 105.55 L574.7 105.77 L574.95 106.17 L575.2 106.74 L575.45 107.48 L575.7 108.37 L575.95 109.43 L576.2 110.63 L576.45 111.97 L576.7 113.44 L576.95 115.03 L577.2 116.71 L577.45 118.46 L577.7 120.22 L577.95 121.9 L578.2 123.32 L578.45 123.97 L578.7 123.18 L578.95 121.8 L579.2 120.19 L579.45 118.53 L579.7 116.89 L579.95 115.32 L580.2 113.84 L580.45 112.48 L580.7 111.25 L580.95 110.17 L580.95 153.06 L580.7 151.85 L580.45 150.5 L580.2 149.02 L579.95 147.42 L579.7 145.72 L579.45 143.96 L579.2 142.17 L578.95 140.44 L578.7 138.93 L578.45 138.02 L578.2 138.55 L577.95 139.84 L577.7 141.4 L577.45 143.04 L577.2 144.67 L576.95 146.22 L576.7 147.69 L576.45 149.03 L576.2 150.25 L575.95 151.33 L575.7 152.26 L575.45 153.04 L575.2 153.65 L574.95 154.09 L574.7 154.37 L574.45 154.47 L574.2 154.41 L573.95 154.17 L573.7 153.76 L573.45 153.18 L573.2 152.43 L572.95 151.53 L572.7 150.47 L572.45 149.27 L572.2 147.93 L571.95 146.46 L571.7 144.88 L571.45 143.21 L571.2 141.47 L570.95 139.72 L570.7 138.03 L570.45 136.58 L570.2 135.79 L569.95 136.45 L569.7 137.76 L569.45 139.31 L569.2 140.92 L568.95 142.51 L568.7 144.02 L568.45 145.45 L568.2 146.76 L567.95 147.94 L567.7 148.98 L567.45 149.87 L567.2 150.62 L566.95 151.2 L566.7 151.62 L566.45 151.87 L566.2 151.95 L565.95 151.87 L565.7 151.61 L565.45 151.19 L565.2 150.61 L564.95 149.86 L564.7 148.96 L564.45 147.91 L564.2 146.71 L563.95 145.38 L563.7 143.93 L563.45 142.38 L563.2 140.73 L562.95 139.02 L562.7 137.3 L562.45 135.66 L562.2 134.28 L561.95 133.63 L561.7 134.38 L561.45 135.71 L561.2 137.24 L560.95 138.82 L560.7 140.37 L560.45 141.85 L560.2 143.23 L559.95 144.5 L559.7 145.64 L559.45 146.65 L559.2 147.51 L558.95 148.22 L558.7 148.77 L558.45 149.16 L558.2 149.39 L557.95 149.46 L557.7 149.36 L557.45 149.09 L557.2 148.66 L556.95 148.07 L556.7 147.32 L556.45 146.42 L556.2 145.38 L555.95 144.19 L555.7 142.88 L555.45 141.44 L555.2 139.91 L554.95 138.28 L554.7 136.61 L554.45 134.92 L554.2 133.32 L553.95 132.01 L553.7 131.51 L553.45 132.34 L553.2 133.68 L552.95 135.19 L552.7 136.74 L552.45 138.25 L552.2 139.69 L551.95 141.03 L551.7 142.26 L551.45 143.37 L551.2 144.34 L550.95 145.17 L550.7 145.84 L550.45 146.37 L550.2 146.73 L549.95 146.94 L549.7 146.99 L549.45 146.87 L549.2 146.59 L548.95 146.15 L548.7 145.56 L548.45 144.81 L548.2 143.91 L547.95 142.88 L547.7 141.7 L547.45 140.4 L547.2 138.99 L546.95 137.47 L546.7 135.87 L546.45 134.23 L546.2 132.58 L545.95 131.03 L545.7 129.78 L545.45 129.44 L545.2 130.34 L544.95 131.67 L544.7 133.16 L544.45 134.68 L544.2 136.16 L543.95 137.56 L543.7 138.86 L543.45 140.05 L543.2 141.12 L542.95 142.05 L542.7 142.85 L542.45 143.49 L542.2 143.99 L541.95 144.33 L541.7 144.52 L541.45 144.54 L541.2 144.41 L540.95 144.12 L540.7 143.68 L540.45 143.08 L540.2 142.33 L539.95 141.44 L539.7 140.41 L539.45 139.24 L539.2 137.96 L538.95 136.56 L538.7 135.07 L538.45 133.5 L538.2 131.88 L537.95 130.27 L537.7 128.77 L537.45 127.6 L537.2 127.41 L536.95 128.36 L536.7 129.69 L536.45 131.16 L536.2 132.64 L535.95 134.08 L535.7 135.44 L535.45 136.71 L535.2 137.86 L534.95 138.89 L534.7 139.79 L534.45 140.55 L534.2 141.16 L533.95 141.63 L533.7 141.95 L533.45 142.12 L533.2 142.13 L532.95 141.98 L532.7 141.68 L532.45 141.23 L532.2 140.63 L531.95 139.88 L531.7 138.99 L531.45 137.97 L531.2 136.82 L530.95 135.55 L530.7 134.17 L530.45 132.7 L530.2 131.16 L529.95 129.57 L529.7 128 L529.45 126.54 L529.2 125.45 L528.95 125.42 L528.7 126.41 L528.45 127.74 L528.2 129.18 L527.95 130.63 L527.7 132.03 L527.45 133.35 L527.2 134.57 L526.95 135.69 L526.7 136.68 L526.45 137.54 L526.2 138.27 L525.95 138.86 L525.7 139.3 L525.45 139.6 L525.2 139.74 L524.95 139.73 L524.7 139.58 L524.45 139.27 L524.2 138.81 L523.95 138.21 L523.7 137.46 L523.45 136.58 L523.2 135.56 L522.95 134.43 L522.7 133.17 L522.45 131.82 L522.2 130.37 L521.95 128.85 L521.7 127.3 L521.45 125.76 L521.2 124.36 L520.95 123.35 L520.7 123.46 L520.45 124.48 L520.2 125.81 L519.95 127.22 L519.7 128.63 L519.45 130 L519.2 131.28 L518.95 132.46 L518.7 133.54 L518.45 134.5 L518.2 135.33 L517.95 136.02 L517.7 136.58 L517.45 137 L517.2 137.27 L516.95 137.39 L516.7 137.37 L516.45 137.2 L516.2 136.88 L515.95 136.42 L515.7 135.81 L515.45 135.07 L515.2 134.19 L514.95 133.19 L514.7 132.07 L514.45 130.83 L514.2 129.49 L513.95 128.07 L513.7 126.58 L513.45 125.06 L513.2 123.56 L512.95 122.21 L512.7 121.29 L512.45 121.54 L512.2 122.59 L511.95 123.9 L511.7 125.29 L511.45 126.66 L511.2 127.98 L510.95 129.23 L510.7 130.37 L510.45 131.41 L510.2 132.33 L509.95 133.13 L509.7 133.79 L509.45 134.32 L509.2 134.72 L508.95 134.96 L508.7 135.07 L508.45 135.03 L508.2 134.85 L507.95 134.52 L507.7 134.06 L507.45 133.45 L507.2 132.71 L506.95 131.84 L506.7 130.85 L506.45 129.74 L506.2 128.52 L505.95 127.21 L505.7 125.81 L505.45 124.35 L505.2 122.86 L504.95 121.4 L504.7 120.11 L504.45 119.28 L504.2 119.65 L503.95 120.72 L503.7 122.01 L503.45 123.37 L503.2 124.71 L502.95 125.99 L502.7 127.2 L502.45 128.3 L502.2 129.31 L501.95 130.19 L501.7 130.95 L501.45 131.59 L501.2 132.09 L500.95 132.46 L500.7 132.69 L500.45 132.77 L500.2 132.72 L499.95 132.53 L499.7 132.19 L499.45 131.72 L499.2 131.12 L498.95 130.38 L498.7 129.52 L498.45 128.54 L498.2 127.44 L497.95 126.24 L497.7 124.95 L497.45 123.58 L497.2 122.15 L496.95 120.69 L496.7 119.28 L496.45 118.04 L496.2 117.3 L495.95 117.8 L495.7 118.87 L495.45 120.15 L495.2 121.48 L494.95 122.78 L494.7 124.03 L494.45 125.19 L494.2 126.26 L493.95 127.22 L493.7 128.07 L493.45 128.8 L493.2 129.41 L492.95 129.88 L492.7 130.23 L492.45 130.43 L492.2 130.5 L491.95 130.44 L491.7 130.23 L491.45 129.89 L491.2 129.42 L490.95 128.81 L490.7 128.08 L490.45 127.23 L490.2 126.26 L489.95 125.18 L489.7 124 L489.45 122.73 L489.2 121.38 L488.95 119.98 L488.7 118.56 L488.45 117.19 L488.2 116.01 L487.95 115.39 L487.7 115.97 L487.45 117.06 L487.2 118.31 L486.95 119.61 L486.7 120.87 L486.45 122.08 L486.2 123.2 L485.95 124.23 L485.7 125.16 L485.45 125.98 L485.2 126.67 L484.95 127.25 L484.7 127.7 L484.45 128.02 L484.2 128.2 L483.95 128.26 L483.7 128.18 L483.45 127.96 L483.2 127.62 L482.95 127.14 L482.7 126.54 L482.45 125.82 L482.2 124.97 L481.95 124.01 L481.7 122.95 L481.45 121.79 L481.2 120.54 L480.95 119.23 L480.7 117.86 L480.45 116.47 L480.2 115.14 L479.95 114.02 L479.7 113.52 L479.45 114.17 L479.2 115.26 L478.95 116.5 L478.7 117.76 L478.45 118.98 L478.2 120.15 L477.95 121.24 L477.7 122.23 L477.45 123.12 L477.2 123.9 L476.95 124.57 L476.7 125.12 L476.45 125.54 L476.2 125.83 L475.95 126 L475.7 126.04 L475.45 125.95 L475.2 125.73 L474.95 125.37 L474.7 124.9 L474.45 124.3 L474.2 123.58 L473.95 122.74 L473.7 121.8 L473.45 120.75 L473.2 119.62 L472.95 118.39 L472.7 117.1 L472.45 115.76 L472.2 114.41 L471.95 113.13 L471.7 112.07 L471.45 111.7 L471.2 112.41 L470.95 113.49 L470.7 114.7 L470.45 115.93 L470.2 117.12 L469.95 118.24 L469.7 119.29 L469.45 120.25 L469.2 121.1 L468.95 121.85 L468.7 122.49 L468.45 123 L468.2 123.4 L467.95 123.68 L467.7 123.83 L467.45 123.85 L467.2 123.74 L466.95 123.51 L466.7 123.16 L466.45 122.68 L466.2 122.08 L465.95 121.37 L465.7 120.55 L465.45 119.62 L465.2 118.59 L464.95 117.47 L464.7 116.28 L464.45 115.01 L464.2 113.71 L463.95 112.39 L463.7 111.15 L463.45 110.16 L463.2 109.92 L462.95 110.67 L462.7 111.75 L462.45 112.93 L462.2 114.12 L461.95 115.27 L461.7 116.36 L461.45 117.37 L461.2 118.29 L460.95 119.11 L460.7 119.82 L460.45 120.43 L460.2 120.92 L459.95 121.29 L459.7 121.54 L459.45 121.67 L459.2 121.68 L458.95 121.57 L458.7 121.33 L458.45 120.97 L458.2 120.49 L457.95 119.9 L457.7 119.2 L457.45 118.39 L457.2 117.47 L456.95 116.46 L456.7 115.37 L456.45 114.19 L456.2 112.96 L455.95 111.68 L455.7 110.41 L455.45 109.21 L455.2 108.28 L454.95 108.18 L454.7 108.96 L454.45 110.03 L454.2 111.18 L453.95 112.33 L453.7 113.45 L453.45 114.49 L453.2 115.46 L452.95 116.35 L452.7 117.13 L452.45 117.81 L452.2 118.39 L451.95 118.85 L451.7 119.2 L451.45 119.44 L451.2 119.55 L450.95 119.54 L450.7 119.42 L450.45 119.17 L450.2 118.81 L449.95 118.34 L449.7 117.75 L449.45 117.05 L449.2 116.25 L448.95 115.36 L448.7 114.37 L448.45 113.29 L448.2 112.15 L447.95 110.94 L447.7 109.7 L447.45 108.46 L447.2 107.31 L446.95 106.45 L446.7 106.47 L446.45 107.27 L446.2 108.33 L445.95 109.45 L445.7 110.57 L445.45 111.64 L445.2 112.65 L444.95 113.58 L444.7 114.43 L444.45 115.18 L444.2 115.83 L443.95 116.38 L443.7 116.81 L443.45 117.14 L443.2 117.35 L442.95 117.45 L442.7 117.43 L442.45 117.3 L442.2 117.05 L441.95 116.68 L441.7 116.21 L441.45 115.63 L441.2 114.94 L440.95 114.15 L440.7 113.27 L440.45 112.3 L440.2 111.25 L439.95 110.13 L439.7 108.96 L439.45 107.75 L439.2 106.55 L438.95 105.44 L438.7 104.65 L438.45 104.78 L438.2 105.6 L437.95 106.64 L437.7 107.73 L437.45 108.81 L437.2 109.85 L436.95 110.82 L436.7 111.72 L436.45 112.53 L436.2 113.25 L435.95 113.87 L435.7 114.38 L435.45 114.8 L435.2 115.1 L434.95 115.3 L434.7 115.38 L434.45 115.35 L434.2 115.2 L433.95 114.95 L433.7 114.58 L433.45 114.11 L433.2 113.53 L432.95 112.85 L432.7 112.08 L432.45 111.21 L432.2 110.26 L431.95 109.22 L431.7 108.12 L431.45 106.97 L431.2 105.78 L430.95 104.6 L430.7 103.53 L430.45 102.8 L430.2 103.04 L429.95 103.89 L429.7 104.92 L429.45 106 L429.2 107.05 L428.95 108.06 L428.7 109 L428.45 109.86 L428.2 110.64 L427.95 111.33 L427.7 111.92 L427.45 112.41 L427.2 112.8 L426.95 113.09 L426.7 113.26 L426.45 113.33 L426.2 113.29 L425.95 113.14 L425.7 112.88 L425.45 112.51 L425.2 112.04 L424.95 111.47 L424.7 110.8 L424.45 110.03 L424.2 109.18 L423.95 108.24 L423.7 107.23 L423.45 106.15 L423.2 105.02 L422.95 103.85 L422.7 102.7 L422.45 101.66 L422.2 100.99 L421.95 101.34 L421.7 102.22 L421.45 103.24 L421.2 104.29 L420.95 105.32 L420.7 106.29 L420.45 107.2 L420.2 108.03 L419.95 108.78 L419.7 109.44 L419.45 110 L419.2 110.47 L418.95 110.83 L418.7 111.1 L418.45 111.26 L418.2 111.31 L417.95 111.26 L417.7 111.1 L417.45 110.83 L417.2 110.47 L416.95 110 L416.7 109.43 L416.45 108.77 L416.2 108.02 L415.95 107.18 L415.7 106.26 L415.45 105.27 L415.2 104.21 L414.95 103.1 L414.7 101.96 L414.45 100.83 L414.2 99.82 L413.95 99.23 L413.7 99.68 L413.45 100.57 L413.2 101.59 L412.95 102.62 L412.7 103.61 L412.45 104.55 L412.2 105.43 L411.95 106.22 L411.7 106.94 L411.45 107.57 L411.2 108.1 L410.95 108.55 L410.7 108.89 L410.45 109.13 L410.2 109.28 L409.95 109.32 L409.7 109.25 L409.45 109.09 L409.2 108.82 L408.95 108.45 L408.7 107.99 L408.45 107.43 L408.2 106.78 L407.95 106.04 L407.7 105.22 L407.45 104.31 L407.2 103.34 L406.95 102.31 L406.7 101.22 L406.45 100.11 L406.2 99.01 L405.95 98.03 L405.7 97.53 L405.45 98.06 L405.2 98.97 L404.95 99.97 L404.7 100.97 L404.45 101.93 L404.2 102.84 L403.95 103.68 L403.7 104.44 L403.45 105.13 L403.2 105.72 L402.95 106.23 L402.7 106.65 L402.45 106.97 L402.2 107.2 L401.95 107.32 L401.7 107.35 L401.45 107.28 L401.2 107.1 L400.95 106.84 L400.7 106.47 L400.45 106.01 L400.2 105.46 L399.95 104.82 L399.7 104.09 L399.45 103.29 L399.2 102.4 L398.95 101.46 L398.7 100.44 L398.45 99.39 L398.2 98.3 L397.95 97.22 L397.7 96.28 L397.45 95.88 L397.2 96.48 L396.95 97.39 L396.7 98.37 L396.45 99.34 L396.2 100.27 L395.95 101.15 L395.7 101.95 L395.45 102.68 L395.2 103.33 L394.95 103.9 L394.7 104.38 L394.45 104.78 L394.2 105.08 L393.95 105.28 L393.7 105.39 L393.45 105.41 L393.2 105.33 L392.95 105.15 L392.7 104.88 L392.45 104.51 L392.2 104.06 L391.95 103.52 L391.7 102.89 L391.45 102.18 L391.2 101.39 L390.95 100.53 L390.7 99.6 L390.45 98.62 L390.2 97.59 L389.95 96.52 L389.7 95.48 L389.45 94.58 L389.2 94.29 L388.95 94.94 L388.7 95.85 L388.45 96.81 L388.2 97.75 L387.95 98.64 L387.7 99.48 L387.45 100.25 L387.2 100.95 L386.95 101.57 L386.7 102.11 L386.45 102.56 L386.2 102.93 L385.95 103.21 L385.7 103.39 L385.45 103.49 L385.2 103.49 L384.95 103.4 L384.7 103.22 L384.45 102.95 L384.2 102.59 L383.95 102.14 L383.7 101.61 L383.45 100.99 L383.2 100.3 L382.95 99.53 L382.7 98.69 L382.45 97.79 L382.2 96.83 L381.95 95.82 L381.7 94.79 L381.45 93.77 L381.2 92.91 L380.95 92.74 L380.7 93.43 L380.45 94.33 L380.2 95.27 L379.95 96.17 L379.7 97.03 L379.45 97.83 L379.2 98.57 L378.95 99.23 L378.7 99.82 L378.45 100.33 L378.2 100.76 L377.95 101.1 L377.7 101.36 L377.45 101.53 L377.2 101.61 L376.95 101.61 L376.7 101.51 L376.45 101.33 L376.2 101.05 L375.95 100.7 L375.7 100.25 L375.45 99.73 L375.2 99.13 L374.95 98.45 L374.7 97.7 L374.45 96.89 L374.2 96.01 L373.95 95.08 L373.7 94.1 L373.45 93.1 L373.2 92.11 L372.95 91.29 L372.7 91.24 L372.45 91.96 L372.2 92.85 L371.95 93.75 L371.7 94.63 L371.45 95.45 L371.2 96.21 L370.95 96.91 L370.7 97.54 L370.45 98.1 L370.2 98.58 L369.95 98.98 L369.7 99.31 L369.45 99.54 L369.2 99.7 L368.95 99.76 L368.7 99.75 L368.45 99.64 L368.2 99.46 L367.95 99.19 L367.7 98.83 L367.45 98.4 L367.2 97.89 L366.95 97.3 L366.7 96.64 L366.45 95.91 L366.2 95.12 L365.95 94.27 L365.7 93.37 L365.45 92.42 L365.2 91.44 L364.95 90.49 L364.7 89.71 L364.45 89.78 L364.2 90.53 L363.95 91.4 L363.7 92.27 L363.45 93.1 L363.2 93.89 L362.95 94.62 L362.7 95.28 L362.45 95.88 L362.2 96.4 L361.95 96.86 L361.7 97.23 L361.45 97.53 L361.2 97.75 L360.95 97.89 L360.7 97.94 L360.45 97.91 L360.2 97.81 L359.95 97.62 L359.7 97.35 L359.45 97 L359.2 96.57 L358.95 96.07 L358.7 95.5 L358.45 94.86 L358.2 94.16 L357.95 93.39 L357.7 92.57 L357.45 91.69 L357.2 90.77 L356.95 89.83 L356.7 88.91 L356.45 88.18 L356.2 88.36 L355.95 89.12 L355.7 89.97 L355.45 90.81 L355.2 91.6 L354.95 92.35 L354.7 93.04 L354.45 93.67 L354.2 94.24 L353.95 94.73 L353.7 95.15 L353.45 95.51 L353.2 95.78 L352.95 95.98 L352.7 96.1 L352.45 96.14 L352.2 96.11 L351.95 96 L351.7 95.81 L351.45 95.54 L351.2 95.2 L350.95 94.78 L350.7 94.29 L350.45 93.74 L350.2 93.12 L349.95 92.44 L349.7 91.7 L349.45 90.9 L349.2 90.05 L348.95 89.17 L348.7 88.26 L348.45 87.36 L348.2 86.69 L347.95 86.99 L347.7 87.75 L347.45 88.57 L347.2 89.37 L346.95 90.13 L346.7 90.84 L346.45 91.49 L346.2 92.09 L345.95 92.62 L345.7 93.08 L345.45 93.48 L345.2 93.8 L344.95 94.06 L344.7 94.24 L344.45 94.34 L344.2 94.37 L343.95 94.33 L343.7 94.21 L343.45 94.02 L343.2 93.76 L342.95 93.42 L342.7 93.02 L342.45 92.55 L342.2 92.01 L341.95 91.41 L341.7 90.75 L341.45 90.04 L341.2 89.27 L340.95 88.45 L340.7 87.6 L340.45 86.72 L340.2 85.85 L339.95 85.24 L339.7 85.63 L339.45 86.39 L339.2 87.18 L338.95 87.95 L338.7 88.67 L338.45 89.34 L338.2 89.96 L337.95 90.52 L337.7 91.02 L337.45 91.45 L337.2 91.82 L336.95 92.12 L336.7 92.35 L336.45 92.52 L336.2 92.61 L335.95 92.63 L335.7 92.58 L335.45 92.46 L335.2 92.27 L334.95 92.01 L334.7 91.68 L334.45 91.29 L334.2 90.83 L333.95 90.31 L333.7 89.73 L333.45 89.09 L333.2 88.41 L332.95 87.67 L332.7 86.88 L332.45 86.05 L332.2 85.2 L331.95 84.35 L331.7 83.8 L331.45 84.29 L331.2 85.05 L330.95 85.82 L330.7 86.55 L330.45 87.23 L330.2 87.87 L329.95 88.45 L329.7 88.97 L329.45 89.44 L329.2 89.84 L328.95 90.19 L328.7 90.47 L328.45 90.68 L328.2 90.82 L327.95 90.9 L327.7 90.91 L327.45 90.86 L327.2 90.73 L326.95 90.54 L326.7 90.29 L326.45 89.97 L326.2 89.59 L325.95 89.14 L325.7 88.64 L325.45 88.09 L325.2 87.48 L324.95 86.81 L324.7 86.1 L324.45 85.35 L324.2 84.55 L323.95 83.72 L323.7 82.9 L323.45 82.43 L323.2 83 L322.95 83.74 L322.7 84.48 L322.45 85.17 L322.2 85.82 L321.95 86.42 L321.7 86.96 L321.45 87.45 L321.2 87.89 L320.95 88.26 L320.7 88.58 L320.45 88.83 L320.2 89.03 L319.95 89.16 L319.7 89.22 L319.45 89.22 L319.2 89.16 L318.95 89.04 L318.7 88.85 L318.45 88.6 L318.2 88.29 L317.95 87.92 L317.7 87.49 L317.45 87.01 L317.2 86.48 L316.95 85.89 L316.7 85.26 L316.45 84.58 L316.2 83.86 L315.95 83.09 L315.7 82.29 L315.45 81.49 L315.2 81.12 L314.95 81.74 L314.7 82.47 L314.45 83.17 L314.2 83.82 L313.95 84.43 L313.7 84.99 L313.45 85.5 L313.2 85.95 L312.95 86.36 L312.7 86.7 L312.45 86.99 L312.2 87.23 L311.95 87.4 L311.7 87.51 L311.45 87.57 L311.2 87.56 L310.95 87.5 L310.7 87.37 L310.45 87.18 L310.2 86.94 L309.95 86.64 L309.7 86.28 L309.45 85.88 L309.2 85.42 L308.95 84.91 L308.7 84.35 L308.45 83.74 L308.2 83.1 L307.95 82.41 L307.7 81.68 L307.45 80.91 L307.2 80.13 L306.95 79.87 L306.7 80.53 L306.45 81.23 L306.2 81.89 L305.95 82.5 L305.7 83.07 L305.45 83.59 L305.2 84.06 L304.95 84.48 L304.7 84.85 L304.45 85.17 L304.2 85.43 L303.95 85.64 L303.7 85.8 L303.45 85.9 L303.2 85.94 L302.95 85.93 L302.7 85.86 L302.45 85.73 L302.2 85.55 L301.95 85.31 L301.7 85.02 L301.45 84.68 L301.2 84.29 L300.95 83.86 L300.7 83.37 L300.45 82.84 L300.2 82.27 L299.95 81.66 L299.7 81 L299.45 80.31 L299.2 79.58 L298.95 78.84 L298.7 78.71 L298.45 79.37 L298.2 80.03 L297.95 80.64 L297.7 81.21 L297.45 81.73 L297.2 82.21 L296.95 82.65 L296.7 83.03 L296.45 83.37 L296.2 83.66 L295.95 83.9 L295.7 84.09 L295.45 84.22 L295.2 84.31 L294.95 84.34 L294.7 84.32 L294.45 84.24 L294.2 84.12 L293.95 83.94 L293.7 83.72 L293.45 83.44 L293.2 83.11 L292.95 82.74 L292.7 82.33 L292.45 81.87 L292.2 81.37 L291.95 80.83 L291.7 80.26 L291.45 79.64 L291.2 78.99 L290.95 78.3 L290.7 77.59 L290.45 77.6 L290.2 78.24 L289.95 78.85 L289.7 79.41 L289.45 79.94 L289.2 80.42 L288.95 80.86 L288.7 81.25 L288.45 81.6 L288.2 81.91 L287.95 82.17 L287.7 82.39 L287.45 82.55 L287.2 82.67 L286.95 82.74 L286.7 82.77 L286.45 82.74 L286.2 82.66 L285.95 82.54 L285.7 82.37 L285.45 82.15 L285.2 81.89 L284.95 81.58 L284.7 81.23 L284.45 80.84 L284.2 80.41 L283.95 79.94 L283.7 79.44 L283.45 78.9 L283.2 78.32 L282.95 77.71 L282.7 77.05 L282.45 76.38 L282.2 76.52 L281.95 77.13 L281.7 77.69 L281.45 78.21 L281.2 78.69 L280.95 79.13 L280.7 79.52 L280.45 79.88 L280.2 80.2 L279.95 80.48 L279.7 80.71 L279.45 80.9 L279.2 81.05 L278.95 81.15 L278.7 81.21 L278.45 81.22 L278.2 81.18 L277.95 81.11 L277.7 80.99 L277.45 80.82 L277.2 80.61 L276.95 80.36 L276.7 80.08 L276.45 79.75 L276.2 79.38 L275.95 78.98 L275.7 78.55 L275.45 78.08 L275.2 77.57 L274.95 77.04 L274.7 76.47 L274.45 75.86 L274.2 75.22 L273.95 75.48 L273.7 76.04 L273.45 76.55 L273.2 77.03 L272.95 77.46 L272.7 77.85 L272.45 78.21 L272.2 78.53 L271.95 78.82 L271.7 79.06 L271.45 79.27 L271.2 79.44 L270.95 79.56 L270.7 79.65 L270.45 79.69 L270.2 79.7 L269.95 79.66 L269.7 79.58 L269.45 79.46 L269.2 79.31 L268.95 79.11 L268.7 78.88 L268.45 78.6 L268.2 78.3 L267.95 77.96 L267.7 77.59 L267.45 77.19 L267.2 76.75 L266.95 76.29 L266.7 75.8 L266.45 75.27 L266.2 74.7 L265.95 74.1 L265.7 74.46 L265.45 74.98 L265.2 75.44 L264.95 75.86 L264.7 76.25 L264.45 76.6 L264.2 76.92 L263.95 77.21 L263.7 77.46 L263.45 77.67 L263.2 77.85 L262.95 78 L262.7 78.1 L262.45 78.17 L262.2 78.21 L261.95 78.2 L261.7 78.16 L261.45 78.08 L261.2 77.97 L260.95 77.82 L260.7 77.64 L260.45 77.42 L260.2 77.17 L259.95 76.89 L259.7 76.57 L259.45 76.23 L259.2 75.86 L258.95 75.47 L258.7 75.04 L258.45 74.59 L258.2 74.11 L257.95 73.59 L257.7 73.06 L257.45 73.48 L257.2 73.94 L256.95 74.35 L256.7 74.72 L256.45 75.06 L256.2 75.37 L255.95 75.65 L255.7 75.9 L255.45 76.12 L255.2 76.31 L254.95 76.46 L254.7 76.58 L254.45 76.67 L254.2 76.73 L253.95 76.75 L253.7 76.74 L253.45 76.69 L253.2 76.62 L252.95 76.51 L252.7 76.37 L252.45 76.19 L252.2 75.99 L251.95 75.76 L251.7 75.51 L251.45 75.22 L251.2 74.91 L250.95 74.58 L250.7 74.22 L250.45 73.84 L250.2 73.43 L249.95 73 L249.7 72.53 L249.45 72.1 L249.2 72.52 L248.95 72.92 L248.7 73.28 L248.45 73.6 L248.2 73.9 L247.95 74.16 L247.7 74.4 L247.45 74.62 L247.2 74.8 L246.95 74.96 L246.7 75.09 L246.45 75.19 L246.2 75.26 L245.95 75.3 L245.7 75.32 L245.45 75.3 L245.2 75.25 L244.95 75.18 L244.7 75.07 L244.45 74.94 L244.2 74.78 L243.95 74.6 L243.7 74.39 L243.45 74.16 L243.2 73.9 L242.95 73.63 L242.7 73.33 L242.45 73.01 L242.2 72.67 L241.95 72.31 L241.7 71.93 L241.45 71.51 L241.2 71.2 L240.95 71.58 L240.7 71.92 L240.45 72.22 L240.2 72.5 L239.95 72.75 L239.7 72.97 L239.45 73.18 L239.2 73.36 L238.95 73.51 L238.7 73.64 L238.45 73.74 L238.2 73.82 L237.95 73.88 L237.7 73.91 L237.45 73.91 L237.2 73.89 L236.95 73.84 L236.7 73.77 L236.45 73.67 L236.2 73.55 L235.95 73.41 L235.7 73.24 L235.45 73.05 L235.2 72.85 L234.95 72.62 L234.7 72.38 L234.45 72.12 L234.2 71.84 L233.95 71.54 L233.7 71.23 L233.45 70.89 L233.2 70.53 L232.95 70.33 L232.7 70.65 L232.45 70.93 L232.2 71.18 L231.95 71.41 L231.7 71.62 L231.45 71.81 L231.2 71.97 L230.95 72.11 L230.7 72.24 L230.45 72.34 L230.2 72.42 L229.95 72.48 L229.7 72.52 L229.45 72.53 L229.2 72.53 L228.95 72.5 L228.7 72.45 L228.45 72.38 L228.2 72.3 L227.95 72.19 L227.7 72.06 L227.45 71.91 L227.2 71.75 L226.95 71.57 L226.7 71.37 L226.45 71.16 L226.2 70.94 L225.95 70.7 L225.7 70.45 L225.45 70.18 L225.2 69.89 L224.95 69.59 L224.7 69.48 L224.45 69.74 L224.2 69.96 L223.95 70.17 L223.7 70.35 L223.45 70.51 L223.2 70.66 L222.95 70.78 L222.7 70.9 L222.45 70.99 L222.2 71.06 L221.95 71.12 L221.7 71.16 L221.45 71.18 L221.2 71.19 L220.95 71.18 L220.7 71.15 L220.45 71.1 L220.2 71.03 L219.95 70.95 L219.7 70.86 L219.45 70.74 L219.2 70.62 L218.95 70.48 L218.7 70.33 L218.45 70.16 L218.2 69.98 L217.95 69.8 L217.7 69.6 L217.45 69.39 L217.2 69.17 L216.95 68.94 L216.7 68.69 L216.45 68.65 L216.2 68.84 L215.95 69.01 L215.7 69.16 L215.45 69.3 L215.2 69.42 L214.95 69.53 L214.7 69.62 L214.45 69.7 L214.2 69.76 L213.95 69.81 L213.7 69.85 L213.45 69.87 L213.2 69.88 L212.95 69.87 L212.7 69.85 L212.45 69.82 L212.2 69.77 L211.95 69.71 L211.7 69.64 L211.45 69.56 L211.2 69.46 L210.95 69.36 L210.7 69.24 L210.45 69.12 L210.2 68.98 L209.95 68.84 L209.7 68.69 L209.45 68.53 L209.2 68.37 L208.95 68.2 L208.7 68.02 L208.45 67.83 L208.2 67.83 L207.95 67.96 L207.7 68.08 L207.45 68.18 L207.2 68.27 L206.95 68.35 L206.7 68.42 L206.45 68.47 L206.2 68.52 L205.95 68.56 L205.7 68.58 L205.45 68.6 L205.2 68.6 L204.95 68.59 L204.7 68.58 L204.45 68.55 L204.2 68.52 L203.95 68.47 L203.7 68.42 L203.45 68.36 L203.2 68.29 L202.95 68.21 L202.7 68.13 L202.45 68.04 L202.2 67.94 L201.95 67.84 L201.7 67.73 L201.45 67.62 L201.2 67.51 L200.95 67.39 L200.7 67.27 L200.45 67.09 L200.2 66.99 L199.95 66.99 L199.7 67.05 L199.45 67.11 L199.2 67.16 L198.95 67.21 L198.7 67.25 L198.45 67.29 L198.2 67.32 L197.95 67.34 L197.7 67.35 L197.45 67.36 L197.2 67.36 L196.95 67.35 L196.7 67.33 L196.45 67.31 L196.2 67.28 L195.95 67.24 L195.7 67.2 L195.45 67.15 L195.2 67.1 L194.95 67.04 L194.7 66.98 L194.45 66.91 L194.2 66.85 L193.95 66.78 L193.7 66.7 L193.45 66.63 L193.2 66.56 L192.95 66.49 L192.7 66.42 L192.45 66.35 L192.2 66.28 L191.95 66.22 L191.7 66.22 L191.45 66.23 L191.2 66.24 L190.95 66.25 L190.7 66.25 L190.45 66.25 L190.2 66.25 L189.95 66.24 L189.7 66.22 L189.45 66.21 L189.2 66.19 L188.95 66.16 L188.7 66.13 L188.45 66.1 L188.2 66.07 L187.95 66.03 L187.7 66 L187.45 65.96 L187.2 65.92 L186.95 65.88 L186.7 65.84 L186.45 65.8 L186.2 65.76 L185.95 65.72 L185.7 65.69 L185.45 65.66 L185.2 65.62 L184.95 65.6 L184.7 65.59 L184.45 65.57 L184.2 65.55 L183.95 65.52 L183.7 65.5 L183.45 65.48 L183.2 65.47 L182.95 65.47 L182.7 65.46 L182.45 65.46 L182.2 65.46 L181.95 65.47 L181.7 65.47 L181.45 65.47 L181.2 65.48 L180.95 65.49 L180.7 65.49 L180.45 65.49 L180.2 65.5 L179.95 65.5 L179.7 65.49 L179.45 65.49 L179.2 65.48 L178.95 65.47 L178.7 65.45 L178.45 65.43 L178.2 65.41 L177.95 65.38 L177.7 65.34 L177.45 65.3 L177.2 65.26 L176.95 65.21 L176.7 65.15 L176.45 65.09 L176.2 65.03 L175.95 64.96 L175.7 64.89 L175.45 64.83 L175.2 64.85 L174.95 64.89 L174.7 64.93 L174.45 64.98 L174.2 65.02 L173.95 65.06 L173.7 65.11 L173.45 65.15 L173.2 65.19 L172.95 65.22 L172.7 65.26 L172.45 65.28 L172.2 65.31 L171.95 65.32 L171.7 65.33 L171.45 65.34 L171.2 65.33 L170.95 65.32 L170.7 65.3 L170.45 65.27 L170.2 65.23 L169.95 65.18 L169.7 65.13 L169.45 65.06 L169.2 64.99 L168.95 64.91 L168.7 64.82 L168.45 64.72 L168.2 64.62 L167.95 64.51 L167.7 64.39 L167.45 64.27 L167.2 64.19 L166.95 64.26 L166.7 64.34 L166.45 64.43 L166.2 64.53 L165.95 64.61 L165.7 64.7 L165.45 64.78 L165.2 64.86 L164.95 64.94 L164.7 65 L164.45 65.06 L164.2 65.11 L163.95 65.15 L163.7 65.18 L163.45 65.2 L163.2 65.21 L162.95 65.2 L162.7 65.18 L162.45 65.15 L162.2 65.11 L161.95 65.05 L161.7 64.98 L161.45 64.9 L161.2 64.8 L160.95 64.69 L160.7 64.57 L160.45 64.44 L160.2 64.31 L159.95 64.16 L159.7 64 L159.45 63.84 L159.2 63.68 L158.95 63.59 L158.7 63.7 L158.45 63.84 L158.2 63.98 L157.95 64.11 L157.7 64.25 L157.45 64.37 L157.2 64.5 L156.95 64.61 L156.7 64.72 L156.45 64.81 L156.2 64.9 L155.95 64.97 L155.7 65.03 L155.45 65.07 L155.2 65.1 L154.95 65.11 L154.7 65.1 L154.45 65.07 L154.2 65.03 L153.95 64.97 L153.7 64.9 L153.45 64.8 L153.2 64.69 L152.95 64.56 L152.7 64.42 L152.45 64.26 L152.2 64.09 L151.95 63.91 L151.7 63.72 L151.45 63.52 L151.2 63.31 L150.95 63.1 L150.7 63.02 L150.45 63.18 L150.2 63.37 L149.95 63.55 L149.7 63.74 L149.45 63.91 L149.2 64.08 L148.95 64.25 L148.7 64.4 L148.45 64.54 L148.2 64.66 L147.95 64.77 L147.7 64.86 L147.45 64.93 L147.2 64.99 L146.95 65.02 L146.7 65.03 L146.45 65.02 L146.2 64.99 L145.95 64.94 L145.7 64.86 L145.45 64.76 L145.2 64.64 L144.95 64.5 L144.7 64.35 L144.45 64.17 L144.2 63.97 L143.95 63.76 L143.7 63.53 L143.45 63.3 L143.2 63.05 L142.95 62.79 L142.7 62.54 L142.45 62.49 L142.2 62.7 L141.95 62.94 L141.7 63.17 L141.45 63.4 L141.2 63.62 L140.95 63.83 L140.7 64.03 L140.45 64.22 L140.2 64.39 L139.95 64.54 L139.7 64.67 L139.45 64.78 L139.2 64.87 L138.95 64.94 L138.7 64.97 L138.45 64.99 L138.2 64.97 L137.95 64.93 L137.7 64.87 L137.45 64.77 L137.2 64.66 L136.95 64.51 L136.7 64.34 L136.45 64.15 L136.2 63.93 L135.95 63.7 L135.7 63.45 L135.45 63.18 L135.2 62.89 L134.95 62.6 L134.7 62.3 L134.45 62 L134.2 61.99 L133.95 62.26 L133.7 62.54 L133.45 62.82 L133.2 63.1 L132.95 63.36 L132.7 63.61 L132.45 63.85 L132.2 64.07 L131.95 64.27 L131.7 64.45 L131.45 64.61 L131.2 64.74 L130.95 64.84 L130.7 64.91 L130.45 64.96 L130.2 64.97 L129.95 64.95 L129.7 64.9 L129.45 64.82 L129.2 64.71 L128.95 64.57 L128.7 64.4 L128.45 64.2 L128.2 63.97 L127.95 63.72 L127.7 63.45 L127.45 63.15 L127.2 62.84 L126.95 62.51 L126.7 62.17 L126.45 61.82 L126.2 61.48 L125.95 61.54 L125.7 61.86 L125.45 62.19 L125.2 62.51 L124.95 62.83 L124.7 63.14 L124.45 63.43 L124.2 63.71 L123.95 63.96 L123.7 64.19 L123.45 64.4 L123.2 64.57 L122.95 64.72 L122.7 64.84 L122.45 64.92 L122.2 64.97 L121.95 64.98 L121.7 64.96 L121.45 64.9 L121.2 64.8 L120.95 64.67 L120.7 64.51 L120.45 64.31 L120.2 64.08 L119.95 63.82 L119.7 63.53 L119.45 63.21 L119.2 62.87 L118.95 62.52 L118.7 62.14 L118.45 61.75 L118.2 61.36 L117.95 60.99 L117.7 61.12 L117.45 61.49 L117.2 61.87 L116.95 62.24 L116.7 62.6 L116.45 62.95 L116.2 63.29 L115.95 63.6 L115.7 63.89 L115.45 64.15 L115.2 64.38 L114.95 64.57 L114.7 64.74 L114.45 64.87 L114.2 64.96 L113.95 65.01 L113.7 65.02 L113.45 64.99 L113.2 64.92 L112.95 64.81 L112.7 64.66 L112.45 64.47 L112.2 64.24 L111.95 63.98 L111.7 63.68 L111.45 63.36 L111.2 63 L110.95 62.62 L110.7 62.21 L110.45 61.79 L110.2 61.36 L109.95 60.91 L109.7 60.52 L109.45 60.74 L109.2 61.16 L108.95 61.59 L108.7 62.01 L108.45 62.41 L108.2 62.81 L107.95 63.18 L107.7 63.52 L107.45 63.84 L107.2 64.13 L106.95 64.39 L106.7 64.61 L106.45 64.79 L106.2 64.93 L105.95 65.02 L105.7 65.08 L105.45 65.08 L105.2 65.05 L104.95 64.96 L104.7 64.84 L104.45 64.66 L104.2 64.45 L103.95 64.2 L103.7 63.9 L103.45 63.57 L103.2 63.2 L102.95 62.8 L102.7 62.38 L102.45 61.93 L102.2 61.46 L101.95 60.98 L101.7 60.49 L101.45 60.08 L101.2 60.4 L100.95 60.87 L100.7 61.34 L100.45 61.81 L100.2 62.26 L99.95 62.69 L99.7 63.1 L99.45 63.49 L99.2 63.84 L98.95 64.15 L98.7 64.43 L98.45 64.67 L98.2 64.87 L97.95 65.02 L97.7 65.12 L97.45 65.17 L97.2 65.18 L96.95 65.13 L96.7 65.03 L96.45 64.89 L96.2 64.7 L95.95 64.46 L95.7 64.17 L95.45 63.84 L95.2 63.47 L94.95 63.07 L94.7 62.63 L94.45 62.16 L94.2 61.67 L93.95 61.15 L93.7 60.62 L93.45 60.08 L93.2 59.69 L92.95 60.1 L92.7 60.62 L92.45 61.14 L92.2 61.65 L91.95 62.14 L91.7 62.62 L91.45 63.07 L91.2 63.48 L90.95 63.86 L90.7 64.21 L90.45 64.51 L90.2 64.77 L89.95 64.98 L89.7 65.13 L89.45 65.24 L89.2 65.3 L88.95 65.29 L88.7 65.24 L88.45 65.13 L88.2 64.97 L87.95 64.75 L87.7 64.48 L87.45 64.17 L87.2 63.81 L86.95 63.4 L86.7 62.96 L86.45 62.47 L86.2 61.96 L85.95 61.42 L85.7 60.86 L85.45 60.28 L85.2 59.7 L84.95 59.34 L84.7 59.83 L84.45 60.4 L84.2 60.97 L83.95 61.53 L83.7 62.07 L83.45 62.58 L83.2 63.06 L82.95 63.51 L82.7 63.93 L82.45 64.3 L82.2 64.62 L81.95 64.89 L81.7 65.12 L81.45 65.28 L81.2 65.39 L80.95 65.45 L80.7 65.44 L80.45 65.38 L80.2 65.25 L79.95 65.07 L79.7 64.83 L79.45 64.54 L79.2 64.19 L78.95 63.79 L78.7 63.35 L78.45 62.86 L78.2 62.34 L77.95 61.78 L77.7 61.19 L77.45 60.58 L77.2 59.95 L76.95 59.33 L76.7 59.04 L76.45 59.61 L76.2 60.23 L75.95 60.84 L75.7 61.44 L75.45 62.02 L75.2 62.58 L74.95 63.1 L74.7 63.58 L74.45 64.02 L74.2 64.42 L73.95 64.76 L73.7 65.05 L73.45 65.29 L73.2 65.46 L72.95 65.58 L72.7 65.63 L72.45 65.61 L72.2 65.54 L71.95 65.4 L71.7 65.19 L71.45 64.93 L71.2 64.61 L70.95 64.23 L70.7 63.8 L70.45 63.31 L70.2 62.79 L69.95 62.22 L69.7 61.61 L69.45 60.98 L69.2 60.32 L68.95 59.65 L68.7 58.98 L68.45 58.79 L68.2 59.42 L67.95 60.09 L67.7 60.75 L67.45 61.39 L67.2 62.02 L66.95 62.61 L66.7 63.17 L66.45 63.68 L66.2 64.15 L65.95 64.57 L65.7 64.94 L65.45 65.24 L65.2 65.49 L64.95 65.67 L64.7 65.79 L64.45 65.83 L64.2 65.81 L63.95 65.72 L63.7 65.57 L63.45 65.34 L63.2 65.05 L62.95 64.7 L62.7 64.29 L62.45 63.82 L62.2 63.3 L61.95 62.73 L61.7 62.12 L61.45 61.47 L61.2 60.79 L60.95 60.08 L60.7 59.36 L60.45 58.65 L60.2 58.58 L59.95 59.27 L59.7 59.99 L59.45 60.69 L59.2 61.38 L58.95 62.05 L58.7 62.68 L58.45 63.27 L58.2 63.82 L57.95 64.32 L57.7 64.76 L57.45 65.14 L57.2 65.47 L56.95 65.72 L56.7 65.91 L56.45 66.02 L56.2 66.07 L55.95 66.04 L55.7 65.94 L55.45 65.76 L55.2 65.52 L54.95 65.2 L54.7 64.82 L54.45 64.37 L54.2 63.87 L53.95 63.31 L53.7 62.7 L53.45 62.04 L53.2 61.34 L52.95 60.62 L52.7 59.86 L52.45 59.09 L52.2 58.35 L51.95 58.41 L51.7 59.16 L51.45 59.92 L51.2 60.68 L50.95 61.41 L50.7 62.11 L50.45 62.78 L50.2 63.41Z" fill="#000" stroke="#000" stroke-width="0.7" stroke-linejoin="round"/>
<line x1="50.2" x2="581" y1="66.04" y2="66.04" stroke="#111" stroke-width="1.25"/>
<rect x="50.2" y="34.6" width="530.8" height="157.2" fill="none" stroke="#111" stroke-width="1.25"/>
<path d="M64.94 34.6v2.7 M64.94 191.8v-2.7 M79.69 34.6v2.7 M79.69 191.8v-2.7 M94.43 34.6v2.7 M94.43 191.8v-2.7 M109.18 34.6v2.7 M109.18 191.8v-2.7 M123.92 34.6v2.7 M123.92 191.8v-2.7 M138.67 34.6v4.8 M138.67 191.8v-4.8 M153.41 34.6v2.7 M153.41 191.8v-2.7 M168.16 34.6v2.7 M168.16 191.8v-2.7 M182.9 34.6v2.7 M182.9 191.8v-2.7 M197.64 34.6v2.7 M197.64 191.8v-2.7 M212.39 34.6v2.7 M212.39 191.8v-2.7 M227.13 34.6v4.8 M227.13 191.8v-4.8 M241.88 34.6v2.7 M241.88 191.8v-2.7 M256.62 34.6v2.7 M256.62 191.8v-2.7 M271.37 34.6v2.7 M271.37 191.8v-2.7 M286.11 34.6v2.7 M286.11 191.8v-2.7 M300.86 34.6v2.7 M300.86 191.8v-2.7 M315.6 34.6v4.8 M315.6 191.8v-4.8 M330.34 34.6v2.7 M330.34 191.8v-2.7 M345.09 34.6v2.7 M345.09 191.8v-2.7 M359.83 34.6v2.7 M359.83 191.8v-2.7 M374.58 34.6v2.7 M374.58 191.8v-2.7 M389.32 34.6v2.7 M389.32 191.8v-2.7 M404.07 34.6v4.8 M404.07 191.8v-4.8 M418.81 34.6v2.7 M418.81 191.8v-2.7 M433.56 34.6v2.7 M433.56 191.8v-2.7 M448.3 34.6v2.7 M448.3 191.8v-2.7 M463.04 34.6v2.7 M463.04 191.8v-2.7 M477.79 34.6v2.7 M477.79 191.8v-2.7 M492.53 34.6v4.8 M492.53 191.8v-4.8 M507.28 34.6v2.7 M507.28 191.8v-2.7 M522.02 34.6v2.7 M522.02 191.8v-2.7 M536.77 34.6v2.7 M536.77 191.8v-2.7 M551.51 34.6v2.7 M551.51 191.8v-2.7 M566.26 34.6v2.7 M566.26 191.8v-2.7 M50.2 176.08h3.7 M581 176.08h-3.7 M50.2 160.36h7.4 M581 160.36h-7.4 M50.2 144.64h3.7 M581 144.64h-3.7 M50.2 128.92h3.7 M581 128.92h-3.7 M50.2 113.2h7.4 M581 113.2h-7.4 M50.2 97.48h3.7 M581 97.48h-3.7 M50.2 81.76h3.7 M581 81.76h-3.7 M50.2 66.04h7.4 M581 66.04h-7.4 M50.2 50.32h3.7 M581 50.32h-3.7" stroke="#111" stroke-width="1.25" fill="none"/>
<text x="50.7" y="210.8" font-size="14.8" text-anchor="middle" textLength="35.4" lengthAdjust="spacing">1965</text>
<text x="139.17" y="210.8" font-size="14.8" text-anchor="middle" textLength="35.4" lengthAdjust="spacing">1975</text>
<text x="227.63" y="210.8" font-size="14.8" text-anchor="middle" textLength="35.4" lengthAdjust="spacing">1985</text>
<text x="316.1" y="210.8" font-size="14.8" text-anchor="middle" textLength="35.4" lengthAdjust="spacing">1995</text>
<text x="404.57" y="210.8" font-size="14.8" text-anchor="middle" textLength="35.4" lengthAdjust="spacing">2005</text>
<text x="493.03" y="210.8" font-size="14.8" text-anchor="middle" textLength="35.4" lengthAdjust="spacing">2015</text>
<text x="581.5" y="210.8" font-size="14.8" text-anchor="middle" textLength="35.4" lengthAdjust="spacing">2025</text>
<text x="315.6" y="235.5" font-size="16.4" text-anchor="middle" textLength="36.4" lengthAdjust="spacing">Date</text>
<text transform="translate(39.9 65.64) rotate(-90)" font-size="14.8" text-anchor="middle">0</text>
<text transform="translate(39.9 112.8) rotate(-90)" font-size="14.8" text-anchor="middle" textLength="30.6" lengthAdjust="spacing">−15</text>
<text transform="translate(39.9 159.96) rotate(-90)" font-size="14.8" text-anchor="middle" textLength="30.6" lengthAdjust="spacing">−30</text>
<text transform="translate(12.9 113.2) rotate(-90)" font-size="15.6" text-anchor="middle" textLength="24" lengthAdjust="spacing">km</text></g>
<g><path d="M50.2 371.69 L50.45 370.75 L50.7 369.93 L50.95 369.22 L51.2 368.62 L51.45 368.15 L51.7 367.79 L51.95 367.55 L52.2 367.43 L52.45 367.42 L52.7 367.54 L52.95 367.77 L53.2 368.12 L53.45 368.58 L53.7 369.16 L53.95 369.84 L54.2 370.64 L54.45 371.53 L54.7 372.53 L54.95 373.62 L55.2 374.81 L55.45 376.08 L55.7 377.45 L55.95 378.88 L56.2 380.35 L56.45 381.58 L56.7 381.02 L56.95 379.62 L57.2 378.2 L57.45 376.84 L57.7 375.58 L57.95 374.41 L58.2 373.34 L58.45 372.38 L58.7 371.51 L58.95 370.76 L59.2 370.11 L59.45 369.57 L59.7 369.13 L59.95 368.81 L60.2 368.6 L60.45 368.5 L60.7 368.52 L60.95 368.64 L61.2 368.87 L61.45 369.22 L61.7 369.66 L61.95 370.22 L62.2 370.87 L62.45 371.62 L62.7 372.48 L62.95 373.42 L63.2 374.45 L63.45 375.57 L63.7 376.78 L63.95 378.06 L64.2 379.41 L64.45 380.77 L64.7 381.84 L64.95 381.09 L65.2 379.78 L65.45 378.46 L65.7 377.2 L65.95 376.03 L66.2 374.96 L66.45 373.97 L66.7 373.08 L66.95 372.29 L67.2 371.6 L67.45 371.01 L67.7 370.52 L67.95 370.13 L68.2 369.84 L68.45 369.66 L68.7 369.58 L68.95 369.61 L69.2 369.74 L69.45 369.97 L69.7 370.3 L69.95 370.74 L70.2 371.26 L70.45 371.89 L70.7 372.6 L70.95 373.41 L71.2 374.3 L71.45 375.27 L71.7 376.32 L71.95 377.45 L72.2 378.66 L72.45 379.92 L72.7 381.17 L72.95 382.05 L73.2 381.19 L73.45 379.96 L73.7 378.74 L73.95 377.58 L74.2 376.51 L74.45 375.52 L74.7 374.62 L74.95 373.81 L75.2 373.08 L75.45 372.45 L75.7 371.92 L75.95 371.47 L76.2 371.13 L76.45 370.88 L76.7 370.72 L76.95 370.67 L77.2 370.7 L77.45 370.84 L77.7 371.07 L77.95 371.39 L78.2 371.8 L78.45 372.3 L78.7 372.89 L78.95 373.57 L79.2 374.32 L79.45 375.16 L79.7 376.07 L79.95 377.05 L80.2 378.11 L80.45 379.23 L80.7 380.4 L80.95 381.54 L81.2 382.19 L81.45 381.3 L81.7 380.16 L81.95 379.04 L82.2 377.98 L82.45 377 L82.7 376.1 L82.95 375.28 L83.2 374.54 L83.45 373.89 L83.7 373.32 L83.95 372.84 L84.2 372.44 L84.45 372.14 L84.7 371.92 L84.95 371.79 L85.2 371.75 L85.45 371.8 L85.7 371.94 L85.95 372.16 L86.2 372.47 L86.45 372.86 L86.7 373.34 L86.95 373.89 L87.2 374.52 L87.45 375.23 L87.7 376 L87.95 376.85 L88.2 377.77 L88.45 378.75 L88.7 379.78 L88.95 380.85 L89.2 381.89 L89.45 382.31 L89.7 381.43 L89.95 380.39 L90.2 379.37 L90.45 378.41 L90.7 377.52 L90.95 376.7 L91.2 375.96 L91.45 375.3 L91.7 374.71 L91.95 374.2 L92.2 373.77 L92.45 373.42 L92.7 373.15 L92.95 372.97 L93.2 372.86 L93.45 372.84 L93.7 372.89 L93.95 373.03 L94.2 373.25 L94.45 373.54 L94.7 373.91 L94.95 374.36 L95.2 374.87 L95.45 375.46 L95.7 376.12 L95.95 376.84 L96.2 377.62 L96.45 378.46 L96.7 379.36 L96.95 380.31 L97.2 381.29 L97.45 382.21 L97.7 382.42 L97.95 381.58 L98.2 380.64 L98.45 379.72 L98.7 378.85 L98.95 378.06 L99.2 377.32 L99.45 376.66 L99.7 376.07 L99.95 375.54 L100.2 375.09 L100.45 374.71 L100.7 374.41 L100.95 374.17 L101.2 374.02 L101.45 373.93 L101.7 373.92 L101.95 373.99 L102.2 374.12 L102.45 374.33 L102.7 374.61 L102.95 374.96 L103.2 375.37 L103.45 375.85 L103.7 376.39 L103.95 376.99 L104.2 377.65 L104.45 378.37 L104.7 379.13 L104.95 379.95 L105.2 380.82 L105.45 381.7 L105.7 382.51 L105.95 382.54 L106.2 381.76 L106.45 380.91 L106.7 380.09 L106.95 379.32 L107.2 378.61 L107.45 377.96 L107.7 377.37 L107.95 376.85 L108.2 376.39 L108.45 375.99 L108.7 375.66 L108.95 375.4 L109.2 375.2 L109.45 375.07 L109.7 375.01 L109.95 375.01 L110.2 375.08 L110.45 375.21 L110.7 375.41 L110.95 375.67 L111.2 375.99 L111.45 376.37 L111.7 376.81 L111.95 377.3 L112.2 377.85 L112.45 378.45 L112.7 379.09 L112.95 379.79 L113.2 380.53 L113.45 381.3 L113.7 382.08 L113.95 382.77 L114.2 382.66 L114.45 381.95 L114.7 381.2 L114.95 380.48 L115.2 379.81 L115.45 379.18 L115.7 378.62 L115.95 378.1 L116.2 377.65 L116.45 377.25 L116.7 376.91 L116.95 376.62 L117.2 376.4 L117.45 376.24 L117.7 376.13 L117.95 376.09 L118.2 376.1 L118.45 376.17 L118.7 376.3 L118.95 376.48 L119.2 376.72 L119.45 377.02 L119.7 377.36 L119.95 377.76 L120.2 378.2 L120.45 378.69 L120.7 379.22 L120.95 379.8 L121.2 380.42 L121.45 381.07 L121.7 381.75 L121.95 382.43 L122.2 382.99 L122.45 382.78 L122.7 382.16 L122.95 381.51 L123.2 380.89 L123.45 380.31 L123.7 379.77 L123.95 379.28 L124.2 378.84 L124.45 378.45 L124.7 378.12 L124.95 377.83 L125.2 377.59 L125.45 377.41 L125.7 377.27 L125.95 377.19 L126.2 377.16 L126.45 377.18 L126.7 377.26 L126.95 377.38 L127.2 377.55 L127.45 377.77 L127.7 378.03 L127.95 378.34 L128.2 378.69 L128.45 379.08 L128.7 379.51 L128.95 379.98 L129.2 380.49 L129.45 381.02 L129.7 381.59 L129.95 382.17 L130.2 382.75 L130.45 383.19 L130.7 382.93 L130.95 382.39 L131.2 381.84 L131.45 381.32 L131.7 380.83 L131.95 380.38 L132.2 379.97 L132.45 379.6 L132.7 379.28 L132.95 379 L133.2 378.76 L133.45 378.57 L133.7 378.42 L133.95 378.32 L134.2 378.26 L134.45 378.24 L134.7 378.27 L134.95 378.34 L135.2 378.45 L135.45 378.61 L135.7 378.8 L135.95 379.04 L136.2 379.31 L136.45 379.61 L136.7 379.95 L136.95 380.32 L137.2 380.72 L137.45 381.15 L137.7 381.61 L137.95 382.08 L138.2 382.57 L138.45 383.04 L138.7 383.36 L138.95 383.09 L139.2 382.65 L139.45 382.2 L139.7 381.77 L139.95 381.37 L140.2 381 L140.45 380.67 L140.7 380.37 L140.95 380.11 L141.2 379.89 L141.45 379.7 L141.7 379.55 L141.95 379.44 L142.2 379.36 L142.45 379.32 L142.7 379.32 L142.95 379.35 L143.2 379.42 L143.45 379.52 L143.7 379.66 L143.95 379.83 L144.2 380.03 L144.45 380.26 L144.7 380.51 L144.95 380.8 L145.2 381.11 L145.45 381.44 L145.7 381.8 L145.95 382.17 L146.2 382.55 L146.45 382.94 L146.7 383.3 L146.95 383.51 L147.2 383.27 L147.45 382.92 L147.7 382.57 L147.95 382.24 L148.2 381.92 L148.45 381.64 L148.7 381.38 L148.95 381.15 L149.2 380.95 L149.45 380.78 L149.7 380.64 L149.95 380.53 L150.2 380.45 L150.45 380.4 L150.7 380.38 L150.95 380.39 L151.2 380.43 L151.45 380.49 L151.7 380.58 L151.95 380.7 L152.2 380.84 L152.45 381 L152.7 381.19 L152.95 381.4 L153.2 381.63 L153.45 381.88 L153.7 382.14 L153.95 382.41 L154.2 382.7 L154.45 383 L154.7 383.29 L154.95 383.54 L155.2 383.65 L155.45 383.47 L155.7 383.22 L155.95 382.96 L156.2 382.72 L156.45 382.49 L156.7 382.29 L156.95 382.1 L157.2 381.94 L157.45 381.8 L157.7 381.68 L157.95 381.59 L158.2 381.52 L158.45 381.47 L158.7 381.44 L158.95 381.44 L159.2 381.45 L159.45 381.49 L159.7 381.55 L159.95 381.62 L160.2 381.72 L160.45 381.83 L160.7 381.96 L160.95 382.1 L161.2 382.26 L161.45 382.43 L161.7 382.61 L161.95 382.8 L162.2 383 L162.45 383.2 L162.7 383.41 L162.95 383.6 L163.2 383.76 L163.45 383.8 L163.7 383.68 L163.95 383.52 L164.2 383.36 L164.45 383.21 L164.7 383.07 L164.95 382.94 L165.2 382.82 L165.45 382.72 L165.7 382.64 L165.95 382.57 L166.2 382.52 L166.45 382.49 L166.7 382.46 L166.95 382.46 L167.2 382.47 L167.45 382.49 L167.7 382.52 L167.95 382.57 L168.2 382.63 L168.45 382.7 L168.7 382.78 L168.95 382.87 L169.2 382.97 L169.45 383.08 L169.7 383.19 L169.95 383.3 L170.2 383.42 L170.45 383.54 L170.7 383.66 L170.95 383.77 L171.2 383.87 L171.45 383.95 L171.7 383.96 L171.95 383.9 L172.2 383.83 L172.45 383.75 L172.7 383.68 L172.95 383.61 L173.2 383.55 L173.45 383.5 L173.7 383.46 L173.95 383.43 L174.2 383.4 L174.45 383.39 L174.7 383.38 L174.95 383.38 L175.2 383.38 L175.45 383.4 L175.7 383.42 L175.95 383.45 L176.2 383.48 L176.45 383.51 L176.7 383.56 L176.95 383.6 L177.2 383.65 L177.45 383.7 L177.7 383.75 L177.95 383.8 L178.2 383.86 L178.45 383.91 L178.7 383.96 L178.95 384.01 L179.2 384.05 L179.45 384.09 L179.7 384.11 L179.95 384.12 L180.2 384.1 L180.45 384.07 L180.7 384.05 L180.95 384.02 L181.2 383.99 L181.45 383.96 L181.7 383.93 L181.95 383.9 L182.2 383.87 L182.45 383.84 L182.7 383.82 L182.95 383.8 L183.2 383.78 L183.45 383.76 L183.7 383.75 L183.95 383.74 L184.2 383.73 L184.45 383.73 L184.7 383.73 L184.95 383.74 L185.2 383.75 L185.45 383.76 L185.7 383.78 L185.95 383.8 L186.2 383.83 L186.45 383.86 L186.7 383.9 L186.95 383.94 L187.2 383.98 L187.45 384.03 L187.7 384.07 L187.95 384.09 L188.2 384.08 L188.45 384.03 L188.7 383.97 L188.95 383.9 L189.2 383.82 L189.45 383.75 L189.7 383.67 L189.95 383.59 L190.2 383.51 L190.45 383.44 L190.7 383.37 L190.95 383.31 L191.2 383.25 L191.45 383.2 L191.7 383.15 L191.95 383.12 L192.2 383.09 L192.45 383.07 L192.7 383.06 L192.95 383.06 L193.2 383.07 L193.45 383.09 L193.7 383.13 L193.95 383.17 L194.2 383.23 L194.45 383.3 L194.7 383.37 L194.95 383.46 L195.2 383.56 L195.45 383.67 L195.7 383.79 L195.95 383.89 L196.2 383.97 L196.45 383.92 L196.7 383.8 L196.95 383.66 L197.2 383.51 L197.45 383.36 L197.7 383.21 L197.95 383.07 L198.2 382.93 L198.45 382.8 L198.7 382.68 L198.95 382.57 L199.2 382.47 L199.45 382.38 L199.7 382.31 L199.95 382.25 L200.2 382.2 L200.45 382.17 L200.7 382.15 L200.95 382.15 L201.2 382.17 L201.45 382.21 L201.7 382.26 L201.95 382.33 L202.2 382.42 L202.45 382.53 L202.7 382.65 L202.95 382.8 L203.2 382.96 L203.45 383.13 L203.7 383.32 L203.95 383.52 L204.2 383.72 L204.45 383.85 L204.7 383.73 L204.95 383.52 L205.2 383.29 L205.45 383.06 L205.7 382.83 L205.95 382.61 L206.2 382.4 L206.45 382.2 L206.7 382.01 L206.95 381.85 L207.2 381.69 L207.45 381.56 L207.7 381.45 L207.95 381.35 L208.2 381.28 L208.45 381.22 L208.7 381.19 L208.95 381.19 L209.2 381.2 L209.45 381.24 L209.7 381.31 L209.95 381.4 L210.2 381.51 L210.45 381.65 L210.7 381.81 L210.95 382 L211.2 382.21 L211.45 382.44 L211.7 382.7 L211.95 382.98 L212.2 383.27 L212.45 383.55 L212.7 383.72 L212.95 383.52 L213.2 383.21 L213.45 382.88 L213.7 382.56 L213.95 382.26 L214.2 381.96 L214.45 381.69 L214.7 381.43 L214.95 381.19 L215.2 380.98 L215.45 380.79 L215.7 380.62 L215.95 380.48 L216.2 380.37 L216.45 380.29 L216.7 380.23 L216.95 380.2 L217.2 380.21 L217.45 380.24 L217.7 380.3 L217.95 380.4 L218.2 380.52 L218.45 380.68 L218.7 380.87 L218.95 381.09 L219.2 381.34 L219.45 381.63 L219.7 381.94 L219.95 382.28 L220.2 382.64 L220.45 383.03 L220.7 383.4 L220.95 383.58 L221.2 383.27 L221.45 382.86 L221.7 382.45 L221.95 382.04 L222.2 381.66 L222.45 381.29 L222.7 380.95 L222.95 380.64 L223.2 380.35 L223.45 380.1 L223.7 379.87 L223.95 379.67 L224.2 379.51 L224.45 379.38 L224.7 379.29 L224.95 379.23 L225.2 379.2 L225.45 379.22 L225.7 379.27 L225.95 379.36 L226.2 379.49 L226.45 379.66 L226.7 379.86 L226.95 380.1 L227.2 380.38 L227.45 380.7 L227.7 381.06 L227.95 381.45 L228.2 381.87 L228.45 382.33 L228.7 382.81 L228.95 383.27 L229.2 383.43 L229.45 383 L229.7 382.49 L229.95 381.99 L230.2 381.5 L230.45 381.04 L230.7 380.61 L230.95 380.2 L231.2 379.83 L231.45 379.5 L231.7 379.2 L231.95 378.93 L232.2 378.71 L232.45 378.52 L232.7 378.38 L232.95 378.28 L233.2 378.22 L233.45 378.2 L233.7 378.23 L233.95 378.3 L234.2 378.42 L234.45 378.59 L234.7 378.79 L234.95 379.05 L235.2 379.35 L235.45 379.69 L235.7 380.07 L235.95 380.5 L236.2 380.97 L236.45 381.48 L236.7 382.03 L236.95 382.6 L237.2 383.13 L237.45 383.21 L237.7 382.68 L237.95 382.08 L238.2 381.49 L238.45 380.92 L238.7 380.39 L238.95 379.89 L239.2 379.43 L239.45 379 L239.7 378.62 L239.95 378.28 L240.2 377.99 L240.45 377.73 L240.7 377.53 L240.95 377.37 L241.2 377.27 L241.45 377.21 L241.7 377.2 L241.95 377.24 L242.2 377.34 L242.45 377.49 L242.7 377.68 L242.95 377.93 L243.2 378.23 L243.45 378.58 L243.7 378.98 L243.95 379.43 L244.2 379.92 L244.45 380.46 L244.7 381.05 L244.95 381.67 L245.2 382.3 L245.45 382.87 L245.7 382.84 L245.95 382.24 L246.2 381.58 L246.45 380.92 L246.7 380.29 L246.95 379.69 L247.2 379.13 L247.45 378.62 L247.7 378.15 L247.95 377.73 L248.2 377.35 L248.45 377.02 L248.7 376.75 L248.95 376.53 L249.2 376.36 L249.45 376.25 L249.7 376.2 L249.95 376.2 L250.2 376.26 L250.45 376.38 L250.7 376.55 L250.95 376.79 L251.2 377.08 L251.45 377.43 L251.7 377.83 L251.95 378.29 L252.2 378.8 L252.45 379.36 L252.7 379.97 L252.95 380.63 L253.2 381.32 L253.45 382.02 L253.7 382.61 L253.95 382.46 L254.2 381.79 L254.45 381.05 L254.7 380.33 L254.95 379.63 L255.2 378.98 L255.45 378.36 L255.7 377.8 L255.95 377.28 L256.2 376.82 L256.45 376.41 L256.7 376.06 L256.95 375.76 L257.2 375.52 L257.45 375.35 L257.7 375.24 L257.95 375.19 L258.2 375.2 L258.45 375.28 L258.7 375.42 L258.95 375.63 L259.2 375.9 L259.45 376.23 L259.7 376.63 L259.95 377.09 L260.2 377.6 L260.45 378.18 L260.7 378.81 L260.95 379.5 L261.2 380.23 L261.45 380.99 L261.7 381.75 L261.95 382.34 L262.2 382.06 L262.45 381.32 L262.7 380.52 L262.95 379.72 L263.2 378.96 L263.45 378.25 L263.7 377.58 L263.95 376.96 L264.2 376.4 L264.45 375.9 L264.7 375.46 L264.95 375.08 L265.2 374.76 L265.45 374.51 L265.7 374.33 L265.95 374.22 L266.2 374.18 L266.45 374.2 L266.7 374.3 L266.95 374.47 L267.2 374.71 L267.45 375.02 L267.7 375.4 L267.95 375.84 L268.2 376.36 L268.45 376.94 L268.7 377.58 L268.95 378.28 L269.2 379.04 L269.45 379.84 L269.7 380.67 L269.95 381.48 L270.2 382.06 L270.45 381.64 L270.7 380.83 L270.95 379.96 L271.2 379.1 L271.45 378.28 L271.7 377.5 L271.95 376.78 L272.2 376.12 L272.45 375.51 L272.7 374.97 L272.95 374.5 L273.2 374.1 L273.45 373.76 L273.7 373.5 L273.95 373.31 L274.2 373.2 L274.45 373.17 L274.7 373.21 L274.95 373.33 L275.2 373.52 L275.45 373.8 L275.7 374.15 L275.95 374.57 L276.2 375.07 L276.45 375.64 L276.7 376.28 L276.95 376.99 L277.2 377.76 L277.45 378.59 L277.7 379.47 L277.95 380.37 L278.2 381.23 L278.45 381.77 L278.7 381.21 L278.95 380.32 L279.2 379.38 L279.45 378.46 L279.7 377.58 L279.95 376.74 L280.2 375.97 L280.45 375.26 L280.7 374.61 L280.95 374.04 L281.2 373.53 L281.45 373.11 L281.7 372.75 L281.95 372.48 L282.2 372.29 L282.45 372.18 L282.7 372.16 L282.95 372.21 L283.2 372.36 L283.45 372.58 L283.7 372.89 L283.95 373.28 L284.2 373.75 L284.45 374.31 L284.7 374.93 L284.95 375.64 L285.2 376.41 L285.45 377.26 L285.7 378.16 L285.95 379.11 L286.2 380.08 L286.45 380.98 L286.7 381.44 L286.95 380.76 L287.2 379.8 L287.45 378.79 L287.7 377.8 L287.95 376.86 L288.2 375.97 L288.45 375.14 L288.7 374.39 L288.95 373.7 L289.2 373.09 L289.45 372.56 L289.7 372.11 L289.95 371.74 L290.2 371.46 L290.45 371.27 L290.7 371.16 L290.95 371.15 L291.2 371.23 L291.45 371.39 L291.7 371.65 L291.95 371.99 L292.2 372.43 L292.45 372.95 L292.7 373.56 L292.95 374.24 L293.2 375.01 L293.45 375.86 L293.7 376.77 L293.95 377.75 L294.2 378.78 L294.45 379.82 L294.7 380.75 L294.95 381.09 L295.2 380.3 L295.45 379.27 L295.7 378.19 L295.95 377.13 L296.2 376.13 L296.45 375.18 L296.7 374.31 L296.95 373.5 L297.2 372.78 L297.45 372.14 L297.7 371.58 L297.95 371.11 L298.2 370.73 L298.45 370.44 L298.7 370.25 L298.95 370.15 L299.2 370.15 L299.45 370.24 L299.7 370.43 L299.95 370.72 L300.2 371.11 L300.45 371.58 L300.7 372.16 L300.95 372.82 L301.2 373.57 L301.45 374.4 L301.7 375.32 L301.95 376.31 L302.2 377.37 L302.45 378.47 L302.7 379.57 L302.95 380.53 L303.2 380.72 L303.45 379.83 L303.7 378.72 L303.95 377.57 L304.2 376.45 L304.45 375.39 L304.7 374.39 L304.95 373.46 L305.2 372.61 L305.45 371.85 L305.7 371.17 L305.95 370.59 L306.2 370.1 L306.45 369.71 L306.7 369.41 L306.95 369.22 L307.2 369.13 L307.45 369.14 L307.7 369.26 L307.95 369.48 L308.2 369.8 L308.45 370.23 L308.7 370.75 L308.95 371.37 L309.2 372.09 L309.45 372.91 L309.7 373.81 L309.95 374.8 L310.2 375.86 L310.45 376.99 L310.7 378.17 L310.95 379.33 L311.2 380.32 L311.45 380.34 L311.7 379.34 L311.95 378.15 L312.2 376.93 L312.45 375.75 L312.7 374.63 L312.95 373.57 L313.2 372.6 L313.45 371.71 L313.7 370.91 L313.95 370.2 L314.2 369.59 L314.45 369.09 L314.7 368.68 L314.95 368.39 L315.2 368.2 L315.45 368.12 L315.7 368.14 L315.95 368.28 L316.2 368.53 L316.45 368.89 L316.7 369.35 L316.95 369.93 L317.2 370.6 L317.45 371.38 L317.7 372.26 L317.95 373.23 L318.2 374.29 L318.45 375.43 L318.7 376.64 L318.95 377.89 L319.2 379.11 L319.45 380.1 L319.7 379.93 L319.95 378.84 L320.2 377.57 L320.45 376.28 L320.7 375.04 L320.95 373.85 L321.2 372.75 L321.45 371.72 L321.7 370.79 L321.95 369.96 L322.2 369.22 L322.45 368.59 L322.7 368.07 L322.95 367.66 L323.2 367.36 L323.45 367.17 L323.7 367.1 L323.95 367.15 L324.2 367.31 L324.45 367.59 L324.7 367.98 L324.95 368.49 L325.2 369.12 L325.45 369.85 L325.7 370.69 L325.95 371.63 L326.2 372.67 L326.45 373.8 L326.7 375.02 L326.95 376.3 L327.2 377.62 L327.45 378.9 L327.7 379.88 L327.95 379.5 L328.2 378.31 L328.45 376.97 L328.7 375.61 L328.95 374.31 L329.2 373.07 L329.45 371.91 L329.7 370.84 L329.95 369.87 L330.2 369 L330.45 368.24 L330.7 367.59 L330.95 367.05 L331.2 366.63 L331.45 366.33 L331.7 366.15 L331.95 366.09 L332.2 366.15 L332.45 366.34 L332.7 366.65 L332.95 367.09 L333.2 367.64 L333.45 368.31 L333.7 369.1 L333.95 370 L334.2 371.01 L334.45 372.12 L334.7 373.33 L334.95 374.62 L335.2 375.98 L335.45 377.38 L335.7 378.7 L335.95 379.65 L336.2 379.05 L336.45 377.77 L336.7 376.35 L336.95 374.93 L337.2 373.56 L337.45 372.26 L337.7 371.06 L337.95 369.94 L338.2 368.93 L338.45 368.03 L338.7 367.24 L338.95 366.57 L339.2 366.02 L339.45 365.6 L339.7 365.3 L339.95 365.12 L340.2 365.08 L340.45 365.17 L340.7 365.38 L340.95 365.73 L341.2 366.2 L341.45 366.8 L341.7 367.52 L341.95 368.37 L342.2 369.33 L342.45 370.41 L342.7 371.59 L342.95 372.87 L343.2 374.25 L343.45 375.68 L343.7 377.14 L343.95 378.51 L344.2 379.4 L344.45 378.59 L344.7 377.21 L344.95 375.72 L345.2 374.23 L345.45 372.8 L345.7 371.45 L345.95 370.19 L346.2 369.04 L346.45 367.99 L346.7 367.06 L346.95 366.24 L347.2 365.55 L347.45 364.99 L347.7 364.56 L347.95 364.26 L348.2 364.1 L348.45 364.07 L348.7 364.18 L348.95 364.42 L349.2 364.81 L349.45 365.32 L349.7 365.97 L349.95 366.75 L350.2 367.65 L350.45 368.68 L350.7 369.82 L350.95 371.08 L351.2 372.44 L351.45 373.89 L351.7 375.41 L351.95 376.94 L352.2 378.34 L352.45 379.11 L352.7 378.12 L352.95 376.65 L353.2 375.08 L353.45 373.52 L353.7 372.03 L353.95 370.62 L354.2 369.32 L354.45 368.12 L354.7 367.04 L354.95 366.07 L355.2 365.24 L355.45 364.53 L355.7 363.96 L355.95 363.53 L356.2 363.23 L356.45 363.08 L356.7 363.07 L356.95 363.2 L357.2 363.47 L357.45 363.89 L357.7 364.45 L357.95 365.15 L358.2 365.98 L358.45 366.94 L358.7 368.04 L358.95 369.25 L359.2 370.59 L359.45 372.02 L359.7 373.55 L359.95 375.15 L360.2 376.75 L360.45 378.18 L360.7 378.76 L360.95 377.62 L361.2 376.06 L361.45 374.41 L361.7 372.79 L361.95 371.24 L362.2 369.78 L362.45 368.43 L362.7 367.19 L362.95 366.07 L363.2 365.08 L363.45 364.22 L363.7 363.5 L363.95 362.92 L364.2 362.49 L364.45 362.2 L364.7 362.06 L364.95 362.06 L365.2 362.22 L365.45 362.53 L365.7 362.99 L365.95 363.59 L366.2 364.34 L366.45 365.23 L366.7 366.25 L366.95 367.41 L367.2 368.7 L367.45 370.11 L367.7 371.63 L367.95 373.24 L368.2 374.91 L368.45 376.57 L368.7 378.02 L368.95 378.39 L369.2 377.11 L369.45 375.46 L369.7 373.74 L369.95 372.05 L370.2 370.44 L370.45 368.93 L370.7 367.53 L370.95 366.25 L371.2 365.1 L371.45 364.08 L371.7 363.2 L371.95 362.47 L372.2 361.88 L372.45 361.45 L372.7 361.16 L372.95 361.04 L373.2 361.07 L373.45 361.25 L373.7 361.59 L373.95 362.09 L374.2 362.74 L374.45 363.54 L374.7 364.48 L374.95 365.57 L375.2 366.8 L375.45 368.16 L375.7 369.65 L375.95 371.25 L376.2 372.94 L376.45 374.68 L376.7 376.41 L376.95 377.86 L377.2 377.99 L377.45 376.57 L377.7 374.83 L377.95 373.04 L378.2 371.29 L378.45 369.63 L378.7 368.06 L378.95 366.62 L379.2 365.3 L379.45 364.12 L379.7 363.08 L379.95 362.18 L380.2 361.43 L380.45 360.84 L380.7 360.41 L380.95 360.13 L381.2 360.02 L381.45 360.07 L381.7 360.28 L381.95 360.66 L382.2 361.2 L382.45 361.9 L382.7 362.75 L382.95 363.76 L383.2 364.91 L383.45 366.21 L383.7 367.64 L383.95 369.21 L384.2 370.88 L384.45 372.65 L384.7 374.48 L384.95 376.26 L385.2 377.7 L385.45 377.56 L385.7 376.02 L385.95 374.19 L386.2 372.33 L386.45 370.52 L386.7 368.8 L386.95 367.18 L387.2 365.7 L387.45 364.34 L387.7 363.13 L387.95 362.06 L388.2 361.15 L388.45 360.39 L388.7 359.8 L388.95 359.36 L389.2 359.1 L389.45 359.01 L389.7 359.08 L389.95 359.32 L390.2 359.74 L390.45 360.32 L390.7 361.06 L390.95 361.97 L391.2 363.04 L391.45 364.26 L391.7 365.63 L391.95 367.14 L392.2 368.78 L392.45 370.54 L392.7 372.39 L392.95 374.29 L393.2 376.12 L393.45 377.54 L393.7 377.1 L393.95 375.44 L394.2 373.53 L394.45 371.6 L394.7 369.73 L394.95 367.95 L395.2 366.29 L395.45 364.76 L395.7 363.37 L395.95 362.13 L396.2 361.04 L396.45 360.11 L396.7 359.35 L396.95 358.75 L397.2 358.32 L397.45 358.07 L397.7 357.99 L397.95 358.09 L398.2 358.37 L398.45 358.82 L398.7 359.45 L398.95 360.25 L399.2 361.22 L399.45 362.35 L399.7 363.64 L399.95 365.09 L400.2 366.68 L400.45 368.41 L400.7 370.27 L400.95 372.22 L401.2 374.21 L401.45 376.12 L401.7 377.52 L401.95 376.78 L402.2 374.97 L402.45 372.96 L402.7 370.94 L402.95 368.99 L403.2 367.15 L403.45 365.43 L403.7 363.85 L403.95 362.42 L404.2 361.14 L404.45 360.03 L404.7 359.08 L404.95 358.3 L405.2 357.7 L405.45 357.28 L405.7 357.04 L405.95 356.98 L406.2 357.11 L406.45 357.42 L406.7 357.92 L406.95 358.59 L407.2 359.45 L407.45 360.48 L407.7 361.68 L407.95 363.05 L408.2 364.58 L408.45 366.26 L408.7 368.09 L408.95 370.04 L409.2 372.09 L409.45 374.19 L409.7 376.18 L409.95 377.53 L410.2 376.45 L410.45 374.5 L410.7 372.37 L410.95 370.26 L411.2 368.23 L411.45 366.33 L411.7 364.55 L411.95 362.93 L412.2 361.45 L412.45 360.14 L412.7 359 L412.95 358.04 L413.2 357.25 L413.45 356.65 L413.7 356.24 L413.95 356.01 L414.2 355.98 L414.45 356.14 L414.7 356.48 L414.95 357.02 L415.2 357.75 L415.45 358.66 L415.7 359.76 L415.95 361.03 L416.2 362.48 L416.45 364.09 L416.7 365.86 L416.95 367.78 L417.2 369.84 L417.45 372 L417.7 374.19 L417.95 376.25 L418.2 377.48 L418.45 376.09 L418.7 373.99 L418.95 371.75 L419.2 369.56 L419.45 367.46 L419.7 365.49 L419.95 363.66 L420.2 361.99 L420.45 360.48 L420.7 359.14 L420.95 357.97 L421.2 356.99 L421.45 356.2 L421.7 355.6 L421.95 355.2 L422.2 354.99 L422.45 354.98 L422.7 355.16 L422.95 355.55 L423.2 356.13 L423.45 356.91 L423.7 357.89 L423.95 359.05 L424.2 360.39 L424.45 361.92 L424.7 363.62 L424.95 365.48 L425.2 367.5 L425.45 369.66 L425.7 371.92 L425.95 374.22 L426.2 376.35 L426.45 377.34 L426.7 375.7 L426.95 373.45 L427.2 371.12 L427.45 368.84 L427.7 366.67 L427.95 364.63 L428.2 362.75 L428.45 361.03 L428.7 359.49 L428.95 358.12 L429.2 356.94 L429.45 355.94 L429.7 355.15 L429.95 354.55 L430.2 354.15 L430.45 353.96 L430.7 353.98 L430.95 354.2 L431.2 354.63 L431.45 355.26 L431.7 356.09 L431.95 357.12 L432.2 358.35 L432.45 359.77 L432.7 361.38 L432.95 363.16 L433.2 365.12 L433.45 367.24 L433.7 369.5 L433.95 371.87 L434.2 374.27 L434.45 376.45 L434.7 377.14 L434.95 375.27 L435.2 372.89 L435.45 370.45 L435.7 368.09 L435.95 365.85 L436.2 363.76 L436.45 361.83 L436.7 360.07 L436.95 358.49 L437.2 357.09 L437.45 355.89 L437.7 354.89 L437.95 354.09 L438.2 353.5 L438.45 353.11 L438.7 352.94 L438.95 352.98 L439.2 353.24 L439.45 353.71 L439.7 354.39 L439.95 355.28 L440.2 356.37 L440.45 357.67 L440.7 359.17 L440.95 360.86 L441.2 362.73 L441.45 364.78 L441.7 367 L441.95 369.36 L442.2 371.84 L442.45 374.34 L442.7 376.56 L442.95 376.89 L443.2 374.81 L443.45 372.3 L443.7 369.77 L443.95 367.33 L444.2 365.02 L444.45 362.87 L444.7 360.89 L444.95 359.09 L445.2 357.48 L445.45 356.06 L445.7 354.84 L445.95 353.83 L446.2 353.03 L446.45 352.44 L446.7 352.07 L446.95 351.92 L447.2 351.99 L447.45 352.29 L447.7 352.8 L447.95 353.53 L448.2 354.48 L448.45 355.64 L448.7 357.01 L448.95 358.58 L449.2 360.35 L449.45 362.31 L449.7 364.46 L449.95 366.78 L450.2 369.25 L450.45 371.83 L450.7 374.43 L450.95 376.67 L451.2 376.6 L451.45 374.31 L451.7 371.68 L451.95 369.06 L452.2 366.54 L452.45 364.17 L452.7 361.97 L452.95 359.94 L453.2 358.11 L453.45 356.46 L453.7 355.02 L453.95 353.79 L454.2 352.77 L454.45 351.97 L454.7 351.39 L454.95 351.03 L455.2 350.91 L455.45 351.01 L455.7 351.34 L455.95 351.9 L456.2 352.68 L456.45 353.69 L456.7 354.91 L456.95 356.35 L457.2 358.01 L457.45 359.86 L457.7 361.92 L457.95 364.16 L458.2 366.58 L458.45 369.16 L458.7 371.85 L458.95 374.54 L459.2 376.79 L459.45 376.26 L459.7 373.78 L459.95 371.04 L460.2 368.33 L460.45 365.74 L460.7 363.31 L460.95 361.05 L461.2 358.98 L461.45 357.11 L461.7 355.43 L461.95 353.97 L462.2 352.72 L462.45 351.7 L462.7 350.9 L462.95 350.33 L463.2 350 L463.45 349.89 L463.7 350.03 L463.95 350.4 L464.2 351 L464.45 351.84 L464.7 352.91 L464.95 354.2 L465.2 355.72 L465.45 357.45 L465.7 359.39 L465.95 361.54 L466.2 363.88 L466.45 366.4 L466.7 369.09 L466.95 371.9 L467.2 374.68 L467.45 376.89 L467.7 375.88 L467.95 373.22 L468.2 370.37 L468.45 367.58 L468.7 364.92 L468.95 362.43 L469.2 360.12 L469.45 358.01 L469.7 356.1 L469.95 354.4 L470.2 352.91 L470.45 351.66 L470.7 350.63 L470.95 349.83 L471.2 349.28 L471.45 348.96 L471.7 348.89 L471.95 349.05 L472.2 349.47 L472.45 350.12 L472.7 351.01 L472.95 352.14 L473.2 353.5 L473.45 355.1 L473.7 356.91 L473.95 358.94 L474.2 361.18 L474.45 363.62 L474.7 366.25 L474.95 369.05 L475.2 371.96 L475.45 374.83 L475.7 376.96 L475.95 375.46 L476.2 372.64 L476.45 369.68 L476.7 366.8 L476.95 364.08 L477.2 361.53 L477.45 359.17 L477.7 357.02 L477.95 355.08 L478.2 353.35 L478.45 351.85 L478.7 350.59 L478.95 349.55 L479.2 348.77 L479.45 348.22 L479.7 347.93 L479.95 347.88 L480.2 348.09 L480.45 348.54 L480.7 349.24 L480.95 350.19 L481.2 351.39 L481.45 352.82 L481.7 354.49 L481.95 356.39 L482.2 358.51 L482.45 360.84 L482.7 363.38 L482.95 366.12 L483.2 369.03 L483.45 372.05 L483.7 375 L483.95 376.98 L484.2 375 L484.45 372.03 L484.7 368.97 L484.95 366.01 L485.2 363.22 L485.45 360.62 L485.7 358.21 L485.95 356.02 L486.2 354.05 L486.45 352.3 L486.7 350.78 L486.95 349.51 L487.2 348.48 L487.45 347.7 L487.7 347.17 L487.95 346.9 L488.2 346.88 L488.45 347.12 L488.7 347.62 L488.95 348.38 L489.2 349.39 L489.45 350.65 L489.7 352.16 L489.95 353.91 L490.2 355.89 L490.45 358.1 L490.7 360.54 L490.95 363.19 L491.2 366.04 L491.45 369.07 L491.7 372.22 L491.95 375.26 L492.2 376.92 L492.45 374.57 L492.7 371.43 L492.95 368.27 L493.2 365.23 L493.45 362.37 L493.7 359.71 L493.95 357.25 L494.2 355.02 L494.45 353.01 L494.7 351.24 L494.95 349.71 L495.2 348.43 L495.45 347.4 L495.7 346.63 L495.95 346.12 L496.2 345.87 L496.45 345.89 L496.7 346.17 L496.95 346.72 L497.2 347.53 L497.45 348.6 L497.7 349.93 L497.95 351.51 L498.2 353.34 L498.45 355.41 L498.7 357.72 L498.95 360.26 L499.2 363.02 L499.45 365.99 L499.7 369.15 L499.95 372.42 L500.2 375.55 L500.45 376.77 L500.7 374.09 L500.95 370.81 L501.2 367.54 L501.45 364.42 L501.7 361.5 L501.95 358.78 L502.2 356.28 L502.45 354.01 L502.7 351.97 L502.95 350.18 L503.2 348.64 L503.45 347.35 L503.7 346.32 L503.95 345.56 L504.2 345.07 L504.45 344.85 L504.7 344.9 L504.95 345.22 L505.2 345.82 L505.45 346.68 L505.7 347.82 L505.95 349.22 L506.2 350.88 L506.45 352.79 L506.7 354.95 L506.95 357.36 L507.2 360 L507.45 362.88 L507.7 365.96 L507.95 369.25 L508.2 372.64 L508.45 375.84 L508.7 376.54 L508.95 373.58 L509.2 370.15 L509.45 366.79 L509.7 363.6 L509.95 360.61 L510.2 357.83 L510.45 355.29 L510.7 352.98 L510.95 350.92 L511.2 349.11 L511.45 347.55 L511.7 346.26 L511.95 345.24 L512.2 344.49 L512.45 344.02 L512.7 343.82 L512.95 343.91 L513.2 344.28 L513.45 344.93 L513.7 345.85 L513.95 347.05 L514.2 348.52 L514.45 350.26 L514.7 352.26 L514.95 354.52 L515.2 357.02 L515.45 359.77 L515.7 362.75 L515.95 365.96 L516.2 369.37 L516.45 372.89 L516.7 376.14 L516.95 376.25 L517.2 373.02 L517.45 369.47 L517.7 366.01 L517.95 362.75 L518.2 359.7 L518.45 356.87 L518.7 354.29 L518.95 351.94 L519.2 349.86 L519.45 348.03 L519.7 346.46 L519.95 345.17 L520.2 344.15 L520.45 343.42 L520.7 342.97 L520.95 342.81 L521.2 342.93 L521.45 343.34 L521.7 344.04 L521.95 345.03 L522.2 346.3 L522.45 347.84 L522.7 349.66 L522.95 351.75 L523.2 354.09 L523.45 356.7 L523.7 359.56 L523.95 362.65 L524.2 365.99 L524.45 369.52 L524.7 373.17 L524.95 376.45 L525.2 375.89 L525.45 372.43 L525.7 368.76 L525.95 365.22 L526.2 361.88 L526.45 358.77 L526.7 355.9 L526.95 353.27 L527.2 350.9 L527.45 348.78 L527.7 346.94 L527.95 345.37 L528.2 344.08 L528.45 343.07 L528.7 342.35 L528.95 341.93 L529.2 341.79 L529.45 341.96 L529.7 342.42 L529.95 343.17 L530.2 344.22 L530.45 345.55 L530.7 347.17 L530.95 349.07 L531.2 351.25 L531.45 353.69 L531.7 356.4 L531.95 359.36 L532.2 362.58 L532.45 366.04 L532.7 369.7 L532.95 373.48 L533.2 376.74 L533.45 375.47 L533.7 371.8 L533.95 368.02 L534.2 364.39 L534.45 360.99 L534.7 357.82 L534.95 354.91 L535.2 352.24 L535.45 349.84 L535.7 347.7 L535.95 345.85 L536.2 344.27 L536.45 342.98 L536.7 341.98 L536.95 341.28 L537.2 340.88 L537.45 340.79 L537.7 340.99 L537.95 341.5 L538.2 342.31 L538.45 343.42 L538.7 344.82 L538.95 346.52 L539.2 348.5 L539.45 350.77 L539.7 353.31 L539.95 356.12 L540.2 359.2 L540.45 362.53 L540.7 366.11 L540.95 369.91 L541.2 373.81 L541.45 377.01 L541.7 375 L541.95 371.14 L542.2 367.25 L542.45 363.55 L542.7 360.08 L542.95 356.86 L543.2 353.9 L543.45 351.2 L543.7 348.77 L543.95 346.62 L544.2 344.74 L544.45 343.16 L544.7 341.88 L544.95 340.9 L545.2 340.22 L545.45 339.84 L545.7 339.78 L545.95 340.03 L546.2 340.59 L546.45 341.46 L546.7 342.63 L546.95 344.11 L547.2 345.88 L547.45 347.95 L547.7 350.31 L547.95 352.95 L548.2 355.86 L548.45 359.05 L548.7 362.5 L548.95 366.21 L549.2 370.15 L549.45 374.17 L549.7 377.2 L549.95 374.47 L550.2 370.45 L550.45 366.46 L550.7 362.69 L550.95 359.16 L551.2 355.89 L551.45 352.88 L551.7 350.15 L551.95 347.69 L552.2 345.52 L552.45 343.64 L552.7 342.06 L552.95 340.78 L553.2 339.81 L553.45 339.15 L553.7 338.81 L553.95 338.78 L554.2 339.08 L554.45 339.69 L554.7 340.62 L554.95 341.86 L555.2 343.41 L555.45 345.26 L555.7 347.42 L555.95 349.87 L556.2 352.6 L556.45 355.63 L556.7 358.93 L556.95 362.5 L557.2 366.34 L557.45 370.42 L557.7 374.55 L557.95 377.18 L558.2 373.9 L558.45 369.72 L558.7 365.65 L558.95 361.8 L559.2 358.21 L559.45 354.9 L559.7 351.85 L559.95 349.08 L560.2 346.6 L560.45 344.42 L560.7 342.53 L560.95 340.95 L561.2 339.67 L561.45 338.72 L561.7 338.09 L561.95 337.78 L562.2 337.79 L562.45 338.13 L562.7 338.8 L562.95 339.79 L563.2 341.09 L563.45 342.72 L563.7 344.65 L563.95 346.9 L564.2 349.44 L564.45 352.28 L564.7 355.41 L564.95 358.83 L565.2 362.53 L565.45 366.5 L565.7 370.71 L565.95 374.95 L566.2 376.98 L566.45 373.28 L566.7 368.97 L566.95 364.81 L567.2 360.9 L567.45 357.25 L567.7 353.89 L567.95 350.8 L568.2 348.01 L568.45 345.51 L568.7 343.3 L568.95 341.41 L569.2 339.83 L569.45 338.57 L569.7 337.63 L569.95 337.03 L570.2 336.75 L570.45 336.81 L570.7 337.19 L570.95 337.91 L571.2 338.97 L571.45 340.34 L571.7 342.04 L571.95 344.06 L572.2 346.4 L572.45 349.04 L572.7 351.98 L572.95 355.22 L573.2 358.75 L573.45 362.58 L573.7 366.69 L573.95 371.04 L574.2 375.37 L574.45 376.66 L574.7 372.62 L574.95 368.19 L575.2 363.95 L575.45 359.97 L575.7 356.28 L575.95 352.87 L576.2 349.75 L576.45 346.92 L576.7 344.4 L576.95 342.19 L577.2 340.29 L577.45 338.71 L577.7 337.46 L577.95 336.55 L578.2 335.97 L578.45 335.73 L578.7 335.82 L578.95 336.26 L579.2 337.04 L579.45 338.16 L579.7 339.61 L579.95 341.39 L580.2 343.49 L580.45 345.91 L580.7 348.65 L580.95 351.7 L580.95 418.05 L580.7 421.1 L580.45 423.84 L580.2 426.26 L579.95 428.36 L579.7 430.14 L579.45 431.59 L579.2 432.71 L578.95 433.49 L578.7 433.93 L578.45 434.02 L578.2 433.78 L577.95 433.2 L577.7 432.29 L577.45 431.04 L577.2 429.46 L576.95 427.56 L576.7 425.35 L576.45 422.83 L576.2 420 L575.95 416.88 L575.7 413.47 L575.45 409.78 L575.2 405.8 L574.95 401.56 L574.7 397.13 L574.45 393.09 L574.2 394.38 L573.95 398.71 L573.7 403.06 L573.45 407.17 L573.2 411 L572.95 414.53 L572.7 417.77 L572.45 420.71 L572.2 423.35 L571.95 425.69 L571.7 427.71 L571.45 429.41 L571.2 430.78 L570.95 431.84 L570.7 432.56 L570.45 432.94 L570.2 433 L569.95 432.72 L569.7 432.12 L569.45 431.18 L569.2 429.92 L568.95 428.34 L568.7 426.45 L568.45 424.24 L568.2 421.74 L567.95 418.95 L567.7 415.86 L567.45 412.5 L567.2 408.85 L566.95 404.94 L566.7 400.78 L566.45 396.47 L566.2 392.77 L565.95 394.8 L565.7 399.04 L565.45 403.25 L565.2 407.22 L564.95 410.92 L564.7 414.34 L564.45 417.47 L564.2 420.31 L563.95 422.85 L563.7 425.1 L563.45 427.03 L563.2 428.66 L562.95 429.96 L562.7 430.95 L562.45 431.62 L562.2 431.96 L561.95 431.97 L561.7 431.66 L561.45 431.03 L561.2 430.08 L560.95 428.8 L560.7 427.22 L560.45 425.33 L560.2 423.15 L559.95 420.67 L559.7 417.9 L559.45 414.85 L559.2 411.54 L558.95 407.95 L558.7 404.1 L558.45 400.03 L558.2 395.85 L557.95 392.57 L557.7 395.2 L557.45 399.33 L557.2 403.41 L556.95 407.25 L556.7 410.82 L556.45 414.12 L556.2 417.15 L555.95 419.88 L555.7 422.33 L555.45 424.49 L555.2 426.34 L554.95 427.89 L554.7 429.13 L554.45 430.06 L554.2 430.67 L553.95 430.97 L553.7 430.94 L553.45 430.6 L553.2 429.94 L552.95 428.97 L552.7 427.69 L552.45 426.11 L552.2 424.23 L551.95 422.06 L551.7 419.6 L551.45 416.87 L551.2 413.86 L550.95 410.59 L550.7 407.06 L550.45 403.29 L550.2 399.3 L549.95 395.28 L549.7 392.55 L549.45 395.58 L549.2 399.6 L548.95 403.54 L548.7 407.25 L548.45 410.7 L548.2 413.89 L547.95 416.8 L547.7 419.44 L547.45 421.8 L547.2 423.87 L546.95 425.64 L546.7 427.12 L546.45 428.29 L546.2 429.16 L545.95 429.72 L545.7 429.97 L545.45 429.91 L545.2 429.53 L544.95 428.85 L544.7 427.87 L544.45 426.59 L544.2 425.01 L543.95 423.13 L543.7 420.98 L543.45 418.55 L543.2 415.85 L542.95 412.89 L542.7 409.67 L542.45 406.2 L542.2 402.5 L541.95 398.61 L541.7 394.75 L541.45 392.74 L541.2 395.94 L540.95 399.84 L540.7 403.64 L540.45 407.22 L540.2 410.55 L539.95 413.63 L539.7 416.44 L539.45 418.98 L539.2 421.25 L538.95 423.23 L538.7 424.93 L538.45 426.33 L538.2 427.44 L537.95 428.25 L537.7 428.76 L537.45 428.96 L537.2 428.87 L536.95 428.47 L536.7 427.77 L536.45 426.77 L536.2 425.48 L535.95 423.9 L535.7 422.05 L535.45 419.91 L535.2 417.51 L534.95 414.84 L534.7 411.93 L534.45 408.76 L534.2 405.36 L533.95 401.73 L533.7 397.95 L533.45 394.28 L533.2 393.01 L532.95 396.27 L532.7 400.05 L532.45 403.71 L532.2 407.17 L531.95 410.39 L531.7 413.35 L531.45 416.06 L531.2 418.5 L530.95 420.68 L530.7 422.58 L530.45 424.2 L530.2 425.53 L529.95 426.58 L529.7 427.33 L529.45 427.79 L529.2 427.96 L528.95 427.82 L528.7 427.4 L528.45 426.68 L528.2 425.67 L527.95 424.38 L527.7 422.81 L527.45 420.97 L527.2 418.85 L526.95 416.48 L526.7 413.85 L526.45 410.98 L526.2 407.87 L525.95 404.53 L525.7 400.99 L525.45 397.32 L525.2 393.86 L524.95 393.3 L524.7 396.58 L524.45 400.23 L524.2 403.76 L523.95 407.1 L523.7 410.19 L523.45 413.05 L523.2 415.66 L522.95 418 L522.7 420.09 L522.45 421.91 L522.2 423.45 L521.95 424.72 L521.7 425.71 L521.45 426.41 L521.2 426.82 L520.95 426.94 L520.7 426.78 L520.45 426.33 L520.2 425.6 L519.95 424.58 L519.7 423.29 L519.45 421.72 L519.2 419.89 L518.95 417.81 L518.7 415.46 L518.45 412.88 L518.2 410.05 L517.95 407 L517.7 403.74 L517.45 400.28 L517.2 396.73 L516.95 393.5 L516.7 393.61 L516.45 396.86 L516.2 400.38 L515.95 403.79 L515.7 407 L515.45 409.98 L515.2 412.73 L514.95 415.23 L514.7 417.49 L514.45 419.49 L514.2 421.23 L513.95 422.7 L513.7 423.9 L513.45 424.82 L513.2 425.47 L512.95 425.84 L512.7 425.93 L512.45 425.73 L512.2 425.26 L511.95 424.51 L511.7 423.49 L511.45 422.2 L511.2 420.64 L510.95 418.83 L510.7 416.77 L510.45 414.46 L510.2 411.92 L509.95 409.14 L509.7 406.15 L509.45 402.96 L509.2 399.6 L508.95 396.17 L508.7 393.21 L508.45 393.91 L508.2 397.11 L507.95 400.5 L507.7 403.79 L507.45 406.87 L507.2 409.75 L506.95 412.39 L506.7 414.8 L506.45 416.96 L506.2 418.87 L505.95 420.53 L505.7 421.93 L505.45 423.07 L505.2 423.93 L504.95 424.53 L504.7 424.85 L504.45 424.9 L504.2 424.68 L503.95 424.19 L503.7 423.43 L503.45 422.4 L503.2 421.11 L502.95 419.57 L502.7 417.78 L502.45 415.74 L502.2 413.47 L501.95 410.97 L501.7 408.25 L501.45 405.33 L501.2 402.21 L500.95 398.94 L500.7 395.66 L500.45 392.98 L500.2 394.2 L499.95 397.33 L499.7 400.6 L499.45 403.76 L499.2 406.73 L498.95 409.49 L498.7 412.03 L498.45 414.34 L498.2 416.41 L497.95 418.24 L497.7 419.82 L497.45 421.15 L497.2 422.22 L496.95 423.03 L496.7 423.58 L496.45 423.86 L496.2 423.88 L495.95 423.63 L495.7 423.12 L495.45 422.35 L495.2 421.32 L494.95 420.04 L494.7 418.51 L494.45 416.74 L494.2 414.73 L493.95 412.5 L493.7 410.04 L493.45 407.38 L493.2 404.52 L492.95 401.48 L492.7 398.32 L492.45 395.18 L492.2 392.83 L491.95 394.49 L491.7 397.53 L491.45 400.68 L491.2 403.71 L490.95 406.56 L490.7 409.21 L490.45 411.65 L490.2 413.86 L489.95 415.84 L489.7 417.59 L489.45 419.1 L489.2 420.36 L488.95 421.37 L488.7 422.13 L488.45 422.63 L488.2 422.87 L487.95 422.85 L487.7 422.58 L487.45 422.05 L487.2 421.27 L486.95 420.24 L486.7 418.97 L486.45 417.45 L486.2 415.7 L485.95 413.73 L485.7 411.54 L485.45 409.13 L485.2 406.53 L484.95 403.74 L484.7 400.78 L484.45 397.72 L484.2 394.75 L483.95 392.77 L483.7 394.75 L483.45 397.7 L483.2 400.72 L482.95 403.63 L482.7 406.37 L482.45 408.91 L482.2 411.24 L481.95 413.36 L481.7 415.26 L481.45 416.93 L481.2 418.36 L480.95 419.56 L480.7 420.51 L480.45 421.21 L480.2 421.66 L479.95 421.87 L479.7 421.82 L479.45 421.53 L479.2 420.98 L478.95 420.2 L478.7 419.16 L478.45 417.9 L478.2 416.4 L477.95 414.67 L477.7 412.73 L477.45 410.58 L477.2 408.22 L476.95 405.67 L476.7 402.95 L476.45 400.07 L476.2 397.11 L475.95 394.29 L475.7 392.79 L475.45 394.92 L475.2 397.79 L474.95 400.7 L474.7 403.5 L474.45 406.13 L474.2 408.57 L473.95 410.81 L473.7 412.84 L473.45 414.65 L473.2 416.25 L472.95 417.61 L472.7 418.74 L472.45 419.63 L472.2 420.28 L471.95 420.7 L471.7 420.86 L471.45 420.79 L471.2 420.47 L470.95 419.92 L470.7 419.12 L470.45 418.09 L470.2 416.84 L469.95 415.35 L469.7 413.65 L469.45 411.74 L469.2 409.63 L468.95 407.32 L468.7 404.83 L468.45 402.17 L468.2 399.38 L467.95 396.53 L467.7 393.87 L467.45 392.86 L467.2 395.07 L466.95 397.85 L466.7 400.66 L466.45 403.35 L466.2 405.87 L465.95 408.21 L465.7 410.36 L465.45 412.3 L465.2 414.03 L464.95 415.55 L464.7 416.84 L464.45 417.91 L464.2 418.75 L463.95 419.35 L463.7 419.72 L463.45 419.86 L463.2 419.75 L462.95 419.42 L462.7 418.85 L462.45 418.05 L462.2 417.03 L461.95 415.78 L461.7 414.32 L461.45 412.64 L461.2 410.77 L460.95 408.7 L460.7 406.44 L460.45 404.01 L460.2 401.42 L459.95 398.71 L459.7 395.97 L459.45 393.49 L459.2 392.96 L458.95 395.21 L458.7 397.9 L458.45 400.59 L458.2 403.17 L457.95 405.59 L457.7 407.83 L457.45 409.89 L457.2 411.74 L456.95 413.4 L456.7 414.84 L456.45 416.06 L456.2 417.07 L455.95 417.85 L455.7 418.41 L455.45 418.74 L455.2 418.84 L454.95 418.72 L454.7 418.36 L454.45 417.78 L454.2 416.98 L453.95 415.96 L453.7 414.73 L453.45 413.29 L453.2 411.64 L452.95 409.81 L452.7 407.78 L452.45 405.58 L452.2 403.21 L451.95 400.69 L451.7 398.07 L451.45 395.44 L451.2 393.15 L450.95 393.08 L450.7 395.32 L450.45 397.92 L450.2 400.5 L449.95 402.97 L449.7 405.29 L449.45 407.44 L449.2 409.4 L448.95 411.17 L448.7 412.74 L448.45 414.11 L448.2 415.27 L447.95 416.22 L447.7 416.95 L447.45 417.46 L447.2 417.76 L446.95 417.83 L446.7 417.68 L446.45 417.31 L446.2 416.72 L445.95 415.92 L445.7 414.91 L445.45 413.69 L445.2 412.27 L444.95 410.66 L444.7 408.86 L444.45 406.88 L444.2 404.73 L443.95 402.42 L443.7 399.98 L443.45 397.45 L443.2 394.94 L442.95 392.86 L442.7 393.19 L442.45 395.41 L442.2 397.91 L441.95 400.39 L441.7 402.75 L441.45 404.97 L441.2 407.02 L440.95 408.89 L440.7 410.58 L440.45 412.08 L440.2 413.38 L439.95 414.47 L439.7 415.36 L439.45 416.04 L439.2 416.51 L438.95 416.77 L438.7 416.81 L438.45 416.64 L438.2 416.25 L437.95 415.66 L437.7 414.86 L437.45 413.86 L437.2 412.66 L436.95 411.26 L436.7 409.68 L436.45 407.92 L436.2 405.99 L435.95 403.9 L435.7 401.66 L435.45 399.3 L435.2 396.86 L434.95 394.48 L434.7 392.61 L434.45 393.3 L434.2 395.48 L433.95 397.88 L433.7 400.25 L433.45 402.51 L433.2 404.63 L432.95 406.59 L432.7 408.37 L432.45 409.98 L432.2 411.4 L431.95 412.63 L431.7 413.66 L431.45 414.49 L431.2 415.12 L430.95 415.55 L430.7 415.77 L430.45 415.79 L430.2 415.6 L429.95 415.2 L429.7 414.6 L429.45 413.81 L429.2 412.81 L428.95 411.63 L428.7 410.26 L428.45 408.72 L428.2 407 L427.95 405.12 L427.7 403.08 L427.45 400.91 L427.2 398.63 L426.95 396.3 L426.7 394.05 L426.45 392.41 L426.2 393.4 L425.95 395.53 L425.7 397.83 L425.45 400.09 L425.2 402.25 L424.95 404.27 L424.7 406.13 L424.45 407.83 L424.2 409.36 L423.95 410.7 L423.7 411.86 L423.45 412.84 L423.2 413.62 L422.95 414.2 L422.7 414.59 L422.45 414.77 L422.2 414.76 L421.95 414.55 L421.7 414.15 L421.45 413.55 L421.2 412.76 L420.95 411.78 L420.7 410.61 L420.45 409.27 L420.2 407.76 L419.95 406.09 L419.7 404.26 L419.45 402.29 L419.2 400.19 L418.95 398 L418.7 395.76 L418.45 393.66 L418.2 392.27 L417.95 393.5 L417.7 395.56 L417.45 397.75 L417.2 399.91 L416.95 401.97 L416.7 403.89 L416.45 405.66 L416.2 407.27 L415.95 408.72 L415.7 409.99 L415.45 411.09 L415.2 412 L414.95 412.73 L414.7 413.27 L414.45 413.61 L414.2 413.77 L413.95 413.74 L413.7 413.51 L413.45 413.1 L413.2 412.5 L412.95 411.71 L412.7 410.75 L412.45 409.61 L412.2 408.3 L411.95 406.82 L411.7 405.2 L411.45 403.42 L411.2 401.52 L410.95 399.49 L410.7 397.38 L410.45 395.25 L410.2 393.3 L409.95 392.22 L409.7 393.57 L409.45 395.56 L409.2 397.66 L408.95 399.71 L408.7 401.66 L408.45 403.49 L408.2 405.17 L407.95 406.7 L407.7 408.07 L407.45 409.27 L407.2 410.3 L406.95 411.16 L406.7 411.83 L406.45 412.33 L406.2 412.64 L405.95 412.77 L405.7 412.71 L405.45 412.47 L405.2 412.05 L404.95 411.45 L404.7 410.67 L404.45 409.72 L404.2 408.61 L403.95 407.33 L403.7 405.9 L403.45 404.32 L403.2 402.6 L402.95 400.76 L402.7 398.81 L402.45 396.79 L402.2 394.78 L401.95 392.97 L401.7 392.23 L401.45 393.63 L401.2 395.54 L400.95 397.53 L400.7 399.48 L400.45 401.34 L400.2 403.07 L399.95 404.66 L399.7 406.11 L399.45 407.4 L399.2 408.53 L398.95 409.5 L398.7 410.3 L398.45 410.93 L398.2 411.38 L397.95 411.66 L397.7 411.76 L397.45 411.68 L397.2 411.43 L396.95 411 L396.7 410.4 L396.45 409.64 L396.2 408.71 L395.95 407.62 L395.7 406.38 L395.45 404.99 L395.2 403.46 L394.95 401.8 L394.7 400.02 L394.45 398.15 L394.2 396.22 L393.95 394.31 L393.7 392.65 L393.45 392.21 L393.2 393.63 L392.95 395.46 L392.7 397.36 L392.45 399.21 L392.2 400.97 L391.95 402.61 L391.7 404.12 L391.45 405.49 L391.2 406.71 L390.95 407.78 L390.7 408.69 L390.45 409.43 L390.2 410.01 L389.95 410.43 L389.7 410.67 L389.45 410.74 L389.2 410.65 L388.95 410.39 L388.7 409.95 L388.45 409.36 L388.2 408.6 L387.95 407.69 L387.7 406.62 L387.45 405.41 L387.2 404.05 L386.95 402.57 L386.7 400.95 L386.45 399.23 L386.2 397.42 L385.95 395.56 L385.7 393.73 L385.45 392.19 L385.2 392.05 L384.95 393.49 L384.7 395.27 L384.45 397.1 L384.2 398.87 L383.95 400.54 L383.7 402.11 L383.45 403.54 L383.2 404.84 L382.95 405.99 L382.7 407 L382.45 407.85 L382.2 408.55 L381.95 409.09 L381.7 409.47 L381.45 409.68 L381.2 409.73 L380.95 409.62 L380.7 409.34 L380.45 408.91 L380.2 408.32 L379.95 407.57 L379.7 406.67 L379.45 405.63 L379.2 404.45 L378.95 403.13 L378.7 401.69 L378.45 400.12 L378.2 398.46 L377.95 396.71 L377.7 394.92 L377.45 393.18 L377.2 391.76 L376.95 391.89 L376.7 393.34 L376.45 395.07 L376.2 396.81 L375.95 398.5 L375.7 400.1 L375.45 401.59 L375.2 402.95 L374.95 404.18 L374.7 405.27 L374.45 406.21 L374.2 407.01 L373.95 407.66 L373.7 408.16 L373.45 408.5 L373.2 408.68 L372.95 408.71 L372.7 408.59 L372.45 408.3 L372.2 407.87 L371.95 407.28 L371.7 406.55 L371.45 405.67 L371.2 404.65 L370.95 403.5 L370.7 402.22 L370.45 400.82 L370.2 399.31 L369.95 397.7 L369.7 396.01 L369.45 394.29 L369.2 392.64 L368.95 391.36 L368.7 391.73 L368.45 393.18 L368.2 394.84 L367.95 396.51 L367.7 398.12 L367.45 399.64 L367.2 401.05 L366.95 402.34 L366.7 403.5 L366.45 404.52 L366.2 405.41 L365.95 406.16 L365.7 406.76 L365.45 407.22 L365.2 407.53 L364.95 407.69 L364.7 407.69 L364.45 407.55 L364.2 407.26 L363.95 406.83 L363.7 406.25 L363.45 405.53 L363.2 404.67 L362.95 403.68 L362.7 402.56 L362.45 401.32 L362.2 399.97 L361.95 398.51 L361.7 396.96 L361.45 395.34 L361.2 393.69 L360.95 392.13 L360.7 390.99 L360.45 391.57 L360.2 393 L359.95 394.6 L359.7 396.2 L359.45 397.73 L359.2 399.16 L358.95 400.5 L358.7 401.71 L358.45 402.81 L358.2 403.77 L357.95 404.6 L357.7 405.3 L357.45 405.86 L357.2 406.28 L356.95 406.55 L356.7 406.68 L356.45 406.67 L356.2 406.52 L355.95 406.22 L355.7 405.79 L355.45 405.22 L355.2 404.51 L354.95 403.68 L354.7 402.71 L354.45 401.63 L354.2 400.43 L353.95 399.13 L353.7 397.72 L353.45 396.23 L353.2 394.67 L352.95 393.1 L352.7 391.63 L352.45 390.64 L352.2 391.41 L351.95 392.81 L351.7 394.34 L351.45 395.86 L351.2 397.31 L350.95 398.67 L350.7 399.93 L350.45 401.07 L350.2 402.1 L349.95 403 L349.7 403.78 L349.45 404.43 L349.2 404.94 L348.95 405.33 L348.7 405.57 L348.45 405.68 L348.2 405.65 L347.95 405.49 L347.7 405.19 L347.45 404.76 L347.2 404.2 L346.95 403.51 L346.7 402.69 L346.45 401.76 L346.2 400.71 L345.95 399.56 L345.7 398.3 L345.45 396.95 L345.2 395.52 L344.95 394.03 L344.7 392.54 L344.45 391.16 L344.2 390.35 L343.95 391.24 L343.7 392.61 L343.45 394.07 L343.2 395.5 L342.95 396.88 L342.7 398.16 L342.45 399.34 L342.2 400.42 L341.95 401.38 L341.7 402.23 L341.45 402.95 L341.2 403.55 L340.95 404.02 L340.7 404.37 L340.45 404.58 L340.2 404.67 L339.95 404.63 L339.7 404.45 L339.45 404.15 L339.2 403.73 L338.95 403.18 L338.7 402.51 L338.45 401.72 L338.2 400.82 L337.95 399.81 L337.7 398.69 L337.45 397.49 L337.2 396.19 L336.95 394.82 L336.7 393.4 L336.45 391.98 L336.2 390.7 L335.95 390.1 L335.7 391.05 L335.45 392.37 L335.2 393.77 L334.95 395.13 L334.7 396.42 L334.45 397.63 L334.2 398.74 L333.95 399.75 L333.7 400.65 L333.45 401.44 L333.2 402.11 L332.95 402.66 L332.7 403.1 L332.45 403.41 L332.2 403.6 L331.95 403.66 L331.7 403.6 L331.45 403.42 L331.2 403.12 L330.95 402.7 L330.7 402.16 L330.45 401.51 L330.2 400.75 L329.95 399.88 L329.7 398.91 L329.45 397.84 L329.2 396.68 L328.95 395.44 L328.7 394.14 L328.45 392.78 L328.2 391.44 L327.95 390.25 L327.7 389.87 L327.45 390.85 L327.2 392.13 L326.95 393.45 L326.7 394.73 L326.45 395.95 L326.2 397.08 L325.95 398.12 L325.7 399.06 L325.45 399.9 L325.2 400.63 L324.95 401.26 L324.7 401.77 L324.45 402.16 L324.2 402.44 L323.95 402.6 L323.7 402.65 L323.45 402.58 L323.2 402.39 L322.95 402.09 L322.7 401.68 L322.45 401.16 L322.2 400.53 L321.95 399.79 L321.7 398.96 L321.45 398.03 L321.2 397 L320.95 395.9 L320.7 394.71 L320.45 393.47 L320.2 392.18 L319.95 390.91 L319.7 389.82 L319.45 389.65 L319.2 390.64 L318.95 391.86 L318.7 393.11 L318.45 394.32 L318.2 395.46 L317.95 396.52 L317.7 397.49 L317.45 398.37 L317.2 399.15 L316.95 399.82 L316.7 400.4 L316.45 400.86 L316.2 401.22 L315.95 401.47 L315.7 401.61 L315.45 401.63 L315.2 401.55 L314.95 401.36 L314.7 401.07 L314.45 400.66 L314.2 400.16 L313.95 399.55 L313.7 398.84 L313.45 398.04 L313.2 397.15 L312.95 396.18 L312.7 395.12 L312.45 394 L312.2 392.82 L311.95 391.6 L311.7 390.41 L311.45 389.41 L311.2 389.43 L310.95 390.42 L310.7 391.58 L310.45 392.76 L310.2 393.89 L309.95 394.95 L309.7 395.94 L309.45 396.84 L309.2 397.66 L308.95 398.38 L308.7 399 L308.45 399.52 L308.2 399.95 L307.95 400.27 L307.7 400.49 L307.45 400.61 L307.2 400.62 L306.95 400.53 L306.7 400.34 L306.45 400.04 L306.2 399.65 L305.95 399.16 L305.7 398.58 L305.45 397.9 L305.2 397.14 L304.95 396.29 L304.7 395.36 L304.45 394.36 L304.2 393.3 L303.95 392.18 L303.7 391.03 L303.45 389.92 L303.2 389.03 L302.95 389.22 L302.7 390.18 L302.45 391.28 L302.2 392.38 L301.95 393.44 L301.7 394.43 L301.45 395.35 L301.2 396.18 L300.95 396.93 L300.7 397.59 L300.45 398.17 L300.2 398.64 L299.95 399.03 L299.7 399.32 L299.45 399.51 L299.2 399.6 L298.95 399.6 L298.7 399.5 L298.45 399.31 L298.2 399.02 L297.95 398.64 L297.7 398.17 L297.45 397.61 L297.2 396.97 L296.95 396.25 L296.7 395.44 L296.45 394.57 L296.2 393.62 L295.95 392.62 L295.7 391.56 L295.45 390.48 L295.2 389.45 L294.95 388.66 L294.7 389 L294.45 389.93 L294.2 390.97 L293.95 392 L293.7 392.98 L293.45 393.89 L293.2 394.74 L292.95 395.51 L292.7 396.19 L292.45 396.8 L292.2 397.32 L291.95 397.76 L291.7 398.1 L291.45 398.36 L291.2 398.52 L290.95 398.6 L290.7 398.59 L290.45 398.48 L290.2 398.29 L289.95 398.01 L289.7 397.64 L289.45 397.19 L289.2 396.66 L288.95 396.05 L288.7 395.36 L288.45 394.61 L288.2 393.78 L287.95 392.89 L287.7 391.95 L287.45 390.96 L287.2 389.95 L286.95 388.99 L286.7 388.31 L286.45 388.77 L286.2 389.67 L285.95 390.64 L285.7 391.59 L285.45 392.49 L285.2 393.34 L284.95 394.11 L284.7 394.82 L284.45 395.44 L284.2 396 L283.95 396.47 L283.7 396.86 L283.45 397.17 L283.2 397.39 L282.95 397.54 L282.7 397.59 L282.45 397.57 L282.2 397.46 L281.95 397.27 L281.7 397 L281.45 396.64 L281.2 396.22 L280.95 395.71 L280.7 395.14 L280.45 394.49 L280.2 393.78 L279.95 393.01 L279.7 392.17 L279.45 391.29 L279.2 390.37 L278.95 389.43 L278.7 388.54 L278.45 387.98 L278.2 388.52 L277.95 389.38 L277.7 390.28 L277.45 391.16 L277.2 391.99 L276.95 392.76 L276.7 393.47 L276.45 394.11 L276.2 394.68 L275.95 395.18 L275.7 395.6 L275.45 395.95 L275.2 396.23 L274.95 396.42 L274.7 396.54 L274.45 396.58 L274.2 396.55 L273.95 396.44 L273.7 396.25 L273.45 395.99 L273.2 395.65 L272.95 395.25 L272.7 394.78 L272.45 394.24 L272.2 393.63 L271.95 392.97 L271.7 392.25 L271.45 391.47 L271.2 390.65 L270.95 389.79 L270.7 388.92 L270.45 388.11 L270.2 387.69 L269.95 388.27 L269.7 389.08 L269.45 389.91 L269.2 390.71 L268.95 391.47 L268.7 392.17 L268.45 392.81 L268.2 393.39 L267.95 393.91 L267.7 394.35 L267.45 394.73 L267.2 395.04 L266.95 395.28 L266.7 395.45 L266.45 395.55 L266.2 395.57 L265.95 395.53 L265.7 395.42 L265.45 395.24 L265.2 394.99 L264.95 394.67 L264.7 394.29 L264.45 393.85 L264.2 393.35 L263.95 392.79 L263.7 392.17 L263.45 391.5 L263.2 390.79 L262.95 390.03 L262.7 389.23 L262.45 388.43 L262.2 387.69 L261.95 387.41 L261.7 388 L261.45 388.76 L261.2 389.52 L260.95 390.25 L260.7 390.94 L260.45 391.57 L260.2 392.15 L259.95 392.66 L259.7 393.12 L259.45 393.52 L259.2 393.85 L258.95 394.12 L258.7 394.33 L258.45 394.47 L258.2 394.55 L257.95 394.56 L257.7 394.51 L257.45 394.4 L257.2 394.23 L256.95 393.99 L256.7 393.69 L256.45 393.34 L256.2 392.93 L255.95 392.47 L255.7 391.95 L255.45 391.39 L255.2 390.77 L254.95 390.12 L254.7 389.42 L254.45 388.7 L254.2 387.96 L253.95 387.29 L253.7 387.14 L253.45 387.73 L253.2 388.43 L252.95 389.12 L252.7 389.78 L252.45 390.39 L252.2 390.95 L251.95 391.46 L251.7 391.92 L251.45 392.32 L251.2 392.67 L250.95 392.96 L250.7 393.2 L250.45 393.37 L250.2 393.49 L249.95 393.55 L249.7 393.55 L249.45 393.5 L249.2 393.39 L248.95 393.22 L248.7 393 L248.45 392.73 L248.2 392.4 L247.95 392.02 L247.7 391.6 L247.45 391.13 L247.2 390.62 L246.95 390.06 L246.7 389.46 L246.45 388.83 L246.2 388.17 L245.95 387.51 L245.7 386.91 L245.45 386.88 L245.2 387.45 L244.95 388.08 L244.7 388.7 L244.45 389.29 L244.2 389.83 L243.95 390.32 L243.7 390.77 L243.45 391.17 L243.2 391.52 L242.95 391.82 L242.7 392.07 L242.45 392.26 L242.2 392.41 L241.95 392.51 L241.7 392.55 L241.45 392.54 L241.2 392.48 L240.95 392.38 L240.7 392.22 L240.45 392.02 L240.2 391.76 L239.95 391.47 L239.7 391.13 L239.45 390.75 L239.2 390.32 L238.95 389.86 L238.7 389.36 L238.45 388.83 L238.2 388.26 L237.95 387.67 L237.7 387.07 L237.45 386.54 L237.2 386.62 L236.95 387.15 L236.7 387.72 L236.45 388.27 L236.2 388.78 L235.95 389.25 L235.7 389.68 L235.45 390.06 L235.2 390.4 L234.95 390.7 L234.7 390.96 L234.45 391.16 L234.2 391.33 L233.95 391.45 L233.7 391.52 L233.45 391.55 L233.2 391.53 L232.95 391.47 L232.7 391.37 L232.45 391.23 L232.2 391.04 L231.95 390.82 L231.7 390.55 L231.45 390.25 L231.2 389.92 L230.95 389.55 L230.7 389.14 L230.45 388.71 L230.2 388.25 L229.95 387.76 L229.7 387.26 L229.45 386.75 L229.2 386.32 L228.95 386.48 L228.7 386.94 L228.45 387.42 L228.2 387.88 L227.95 388.3 L227.7 388.69 L227.45 389.05 L227.2 389.37 L226.95 389.65 L226.7 389.89 L226.45 390.09 L226.2 390.26 L225.95 390.39 L225.7 390.48 L225.45 390.53 L225.2 390.55 L224.95 390.52 L224.7 390.46 L224.45 390.37 L224.2 390.24 L223.95 390.08 L223.7 389.88 L223.45 389.65 L223.2 389.4 L222.95 389.11 L222.7 388.8 L222.45 388.46 L222.2 388.09 L221.95 387.71 L221.7 387.3 L221.45 386.89 L221.2 386.48 L220.95 386.17 L220.7 386.35 L220.45 386.72 L220.2 387.11 L219.95 387.47 L219.7 387.81 L219.45 388.12 L219.2 388.41 L218.95 388.66 L218.7 388.88 L218.45 389.07 L218.2 389.23 L217.95 389.35 L217.7 389.45 L217.45 389.51 L217.2 389.54 L216.95 389.55 L216.7 389.52 L216.45 389.46 L216.2 389.38 L215.95 389.27 L215.7 389.13 L215.45 388.96 L215.2 388.77 L214.95 388.56 L214.7 388.32 L214.45 388.06 L214.2 387.79 L213.95 387.49 L213.7 387.19 L213.45 386.87 L213.2 386.54 L212.95 386.23 L212.7 386.03 L212.45 386.2 L212.2 386.48 L211.95 386.77 L211.7 387.05 L211.45 387.31 L211.2 387.54 L210.95 387.75 L210.7 387.94 L210.45 388.1 L210.2 388.24 L209.95 388.35 L209.7 388.44 L209.45 388.51 L209.2 388.55 L208.95 388.56 L208.7 388.56 L208.45 388.53 L208.2 388.47 L207.95 388.4 L207.7 388.3 L207.45 388.19 L207.2 388.06 L206.95 387.9 L206.7 387.74 L206.45 387.55 L206.2 387.35 L205.95 387.14 L205.7 386.92 L205.45 386.69 L205.2 386.46 L204.95 386.23 L204.7 386.02 L204.45 385.9 L204.2 386.03 L203.95 386.23 L203.7 386.43 L203.45 386.62 L203.2 386.79 L202.95 386.95 L202.7 387.1 L202.45 387.22 L202.2 387.33 L201.95 387.42 L201.7 387.49 L201.45 387.54 L201.2 387.58 L200.95 387.6 L200.7 387.6 L200.45 387.58 L200.2 387.55 L199.95 387.5 L199.7 387.44 L199.45 387.37 L199.2 387.28 L198.95 387.18 L198.7 387.07 L198.45 386.95 L198.2 386.82 L197.95 386.68 L197.7 386.54 L197.45 386.39 L197.2 386.24 L196.95 386.09 L196.7 385.95 L196.45 385.83 L196.2 385.78 L195.95 385.86 L195.7 385.96 L195.45 386.08 L195.2 386.19 L194.95 386.29 L194.7 386.38 L194.45 386.45 L194.2 386.52 L193.95 386.58 L193.7 386.62 L193.45 386.66 L193.2 386.68 L192.95 386.69 L192.7 386.69 L192.45 386.68 L192.2 386.66 L191.95 386.63 L191.7 386.6 L191.45 386.55 L191.2 386.5 L190.95 386.44 L190.7 386.38 L190.45 386.31 L190.2 386.24 L189.95 386.16 L189.7 386.08 L189.45 386 L189.2 385.93 L188.95 385.85 L188.7 385.78 L188.45 385.72 L188.2 385.67 L187.95 385.66 L187.7 385.68 L187.45 385.72 L187.2 385.77 L186.95 385.81 L186.7 385.85 L186.45 385.89 L186.2 385.92 L185.95 385.95 L185.7 385.97 L185.45 385.99 L185.2 386 L184.95 386.01 L184.7 386.02 L184.45 386.02 L184.2 386.02 L183.95 386.01 L183.7 386 L183.45 385.99 L183.2 385.97 L182.95 385.95 L182.7 385.93 L182.45 385.91 L182.2 385.88 L181.95 385.85 L181.7 385.82 L181.45 385.79 L181.2 385.76 L180.95 385.73 L180.7 385.7 L180.45 385.68 L180.2 385.65 L179.95 385.63 L179.7 385.64 L179.45 385.66 L179.2 385.7 L178.95 385.74 L178.7 385.79 L178.45 385.84 L178.2 385.89 L177.95 385.95 L177.7 386 L177.45 386.05 L177.2 386.1 L176.95 386.15 L176.7 386.19 L176.45 386.24 L176.2 386.27 L175.95 386.3 L175.7 386.33 L175.45 386.35 L175.2 386.37 L174.95 386.37 L174.7 386.37 L174.45 386.36 L174.2 386.35 L173.95 386.32 L173.7 386.29 L173.45 386.25 L173.2 386.2 L172.95 386.14 L172.7 386.07 L172.45 386 L172.2 385.92 L171.95 385.85 L171.7 385.79 L171.45 385.8 L171.2 385.88 L170.95 385.98 L170.7 386.09 L170.45 386.21 L170.2 386.33 L169.95 386.45 L169.7 386.56 L169.45 386.67 L169.2 386.78 L168.95 386.88 L168.7 386.97 L168.45 387.05 L168.2 387.12 L167.95 387.18 L167.7 387.23 L167.45 387.26 L167.2 387.28 L166.95 387.29 L166.7 387.29 L166.45 387.26 L166.2 387.23 L165.95 387.18 L165.7 387.11 L165.45 387.03 L165.2 386.93 L164.95 386.81 L164.7 386.68 L164.45 386.54 L164.2 386.39 L163.95 386.23 L163.7 386.07 L163.45 385.95 L163.2 385.99 L162.95 386.15 L162.7 386.34 L162.45 386.55 L162.2 386.75 L161.95 386.95 L161.7 387.14 L161.45 387.32 L161.2 387.49 L160.95 387.65 L160.7 387.79 L160.45 387.92 L160.2 388.03 L159.95 388.13 L159.7 388.2 L159.45 388.26 L159.2 388.3 L158.95 388.31 L158.7 388.31 L158.45 388.28 L158.2 388.23 L157.95 388.16 L157.7 388.07 L157.45 387.95 L157.2 387.81 L156.95 387.65 L156.7 387.46 L156.45 387.26 L156.2 387.03 L155.95 386.79 L155.7 386.53 L155.45 386.28 L155.2 386.1 L154.95 386.21 L154.7 386.46 L154.45 386.75 L154.2 387.05 L153.95 387.34 L153.7 387.61 L153.45 387.87 L153.2 388.12 L152.95 388.35 L152.7 388.56 L152.45 388.75 L152.2 388.91 L151.95 389.05 L151.7 389.17 L151.45 389.26 L151.2 389.32 L150.95 389.36 L150.7 389.37 L150.45 389.35 L150.2 389.3 L149.95 389.22 L149.7 389.11 L149.45 388.97 L149.2 388.8 L148.95 388.6 L148.7 388.37 L148.45 388.11 L148.2 387.83 L147.95 387.51 L147.7 387.18 L147.45 386.83 L147.2 386.48 L146.95 386.24 L146.7 386.45 L146.45 386.81 L146.2 387.2 L145.95 387.58 L145.7 387.95 L145.45 388.31 L145.2 388.64 L144.95 388.95 L144.7 389.24 L144.45 389.49 L144.2 389.72 L143.95 389.92 L143.7 390.09 L143.45 390.23 L143.2 390.33 L142.95 390.4 L142.7 390.43 L142.45 390.43 L142.2 390.39 L141.95 390.31 L141.7 390.2 L141.45 390.05 L141.2 389.86 L140.95 389.64 L140.7 389.38 L140.45 389.08 L140.2 388.75 L139.95 388.38 L139.7 387.98 L139.45 387.55 L139.2 387.1 L138.95 386.66 L138.7 386.39 L138.45 386.71 L138.2 387.18 L137.95 387.67 L137.7 388.14 L137.45 388.6 L137.2 389.03 L136.95 389.43 L136.7 389.8 L136.45 390.14 L136.2 390.44 L135.95 390.71 L135.7 390.95 L135.45 391.14 L135.2 391.3 L134.95 391.41 L134.7 391.48 L134.45 391.51 L134.2 391.49 L133.95 391.43 L133.7 391.33 L133.45 391.18 L133.2 390.99 L132.95 390.75 L132.7 390.47 L132.45 390.15 L132.2 389.78 L131.95 389.37 L131.7 388.92 L131.45 388.43 L131.2 387.91 L130.95 387.36 L130.7 386.82 L130.45 386.56 L130.2 387 L129.95 387.58 L129.7 388.16 L129.45 388.73 L129.2 389.26 L128.95 389.77 L128.7 390.24 L128.45 390.67 L128.2 391.06 L127.95 391.41 L127.7 391.72 L127.45 391.98 L127.2 392.2 L126.95 392.37 L126.7 392.49 L126.45 392.57 L126.2 392.59 L125.95 392.56 L125.7 392.48 L125.45 392.34 L125.2 392.16 L124.95 391.92 L124.7 391.63 L124.45 391.3 L124.2 390.91 L123.95 390.47 L123.7 389.98 L123.45 389.44 L123.2 388.86 L122.95 388.24 L122.7 387.59 L122.45 386.97 L122.2 386.76 L121.95 387.32 L121.7 388 L121.45 388.68 L121.2 389.33 L120.95 389.95 L120.7 390.53 L120.45 391.06 L120.2 391.55 L119.95 391.99 L119.7 392.39 L119.45 392.73 L119.2 393.03 L118.95 393.27 L118.7 393.45 L118.45 393.58 L118.2 393.65 L117.95 393.66 L117.7 393.62 L117.45 393.51 L117.2 393.35 L116.95 393.13 L116.7 392.84 L116.45 392.5 L116.2 392.1 L115.95 391.65 L115.7 391.13 L115.45 390.57 L115.2 389.94 L114.95 389.27 L114.7 388.55 L114.45 387.8 L114.2 387.09 L113.95 386.98 L113.7 387.67 L113.45 388.45 L113.2 389.22 L112.95 389.96 L112.7 390.66 L112.45 391.3 L112.2 391.9 L111.95 392.45 L111.7 392.94 L111.45 393.38 L111.2 393.76 L110.95 394.08 L110.7 394.34 L110.45 394.54 L110.2 394.67 L109.95 394.74 L109.7 394.74 L109.45 394.68 L109.2 394.55 L108.95 394.35 L108.7 394.09 L108.45 393.76 L108.2 393.36 L107.95 392.9 L107.7 392.38 L107.45 391.79 L107.2 391.14 L106.95 390.43 L106.7 389.66 L106.45 388.84 L106.2 387.99 L105.95 387.21 L105.7 387.24 L105.45 388.05 L105.2 388.93 L104.95 389.8 L104.7 390.62 L104.45 391.38 L104.2 392.1 L103.95 392.76 L103.7 393.36 L103.45 393.9 L103.2 394.38 L102.95 394.79 L102.7 395.14 L102.45 395.42 L102.2 395.63 L101.95 395.76 L101.7 395.83 L101.45 395.82 L101.2 395.73 L100.95 395.58 L100.7 395.34 L100.45 395.04 L100.2 394.66 L99.95 394.21 L99.7 393.68 L99.45 393.09 L99.2 392.43 L98.95 391.69 L98.7 390.9 L98.45 390.03 L98.2 389.11 L97.95 388.17 L97.7 387.33 L97.45 387.54 L97.2 388.46 L96.95 389.44 L96.7 390.39 L96.45 391.29 L96.2 392.13 L95.95 392.91 L95.7 393.63 L95.45 394.29 L95.2 394.88 L94.95 395.39 L94.7 395.84 L94.45 396.21 L94.2 396.5 L93.95 396.72 L93.7 396.86 L93.45 396.91 L93.2 396.89 L92.95 396.78 L92.7 396.6 L92.45 396.33 L92.2 395.98 L91.95 395.55 L91.7 395.04 L91.45 394.45 L91.2 393.79 L90.95 393.05 L90.7 392.23 L90.45 391.34 L90.2 390.38 L89.95 389.36 L89.7 388.32 L89.45 387.44 L89.2 387.86 L88.95 388.9 L88.7 389.97 L88.45 391 L88.2 391.98 L87.95 392.9 L87.7 393.75 L87.45 394.52 L87.2 395.23 L86.95 395.86 L86.7 396.41 L86.45 396.89 L86.2 397.28 L85.95 397.59 L85.7 397.81 L85.45 397.95 L85.2 398 L84.95 397.96 L84.7 397.83 L84.45 397.61 L84.2 397.31 L83.95 396.91 L83.7 396.43 L83.45 395.86 L83.2 395.21 L82.95 394.47 L82.7 393.65 L82.45 392.75 L82.2 391.77 L81.95 390.71 L81.7 389.59 L81.45 388.45 L81.2 387.56 L80.95 388.21 L80.7 389.35 L80.45 390.52 L80.2 391.64 L79.95 392.7 L79.7 393.68 L79.45 394.59 L79.2 395.43 L78.95 396.18 L78.7 396.86 L78.45 397.45 L78.2 397.95 L77.95 398.36 L77.7 398.68 L77.45 398.91 L77.2 399.05 L76.95 399.08 L76.7 399.03 L76.45 398.87 L76.2 398.62 L75.95 398.28 L75.7 397.83 L75.45 397.3 L75.2 396.67 L74.95 395.94 L74.7 395.13 L74.45 394.23 L74.2 393.24 L73.95 392.17 L73.7 391.01 L73.45 389.79 L73.2 388.56 L72.95 387.7 L72.7 388.58 L72.45 389.83 L72.2 391.09 L71.95 392.3 L71.7 393.43 L71.45 394.48 L71.2 395.45 L70.95 396.34 L70.7 397.15 L70.45 397.86 L70.2 398.49 L69.95 399.01 L69.7 399.45 L69.45 399.78 L69.2 400.01 L68.95 400.14 L68.7 400.17 L68.45 400.09 L68.2 399.91 L67.95 399.62 L67.7 399.23 L67.45 398.74 L67.2 398.15 L66.95 397.46 L66.7 396.67 L66.45 395.78 L66.2 394.79 L65.95 393.72 L65.7 392.55 L65.45 391.29 L65.2 389.97 L64.95 388.66 L64.7 387.91 L64.45 388.98 L64.2 390.34 L63.95 391.69 L63.7 392.97 L63.45 394.18 L63.2 395.3 L62.95 396.33 L62.7 397.27 L62.45 398.13 L62.2 398.88 L61.95 399.53 L61.7 400.09 L61.45 400.53 L61.2 400.88 L60.95 401.11 L60.7 401.23 L60.45 401.25 L60.2 401.15 L59.95 400.94 L59.7 400.62 L59.45 400.18 L59.2 399.64 L58.95 398.99 L58.7 398.24 L58.45 397.37 L58.2 396.41 L57.95 395.34 L57.7 394.17 L57.45 392.91 L57.2 391.55 L56.95 390.13 L56.7 388.73 L56.45 388.17 L56.2 389.4 L55.95 390.87 L55.7 392.3 L55.45 393.67 L55.2 394.94 L54.95 396.13 L54.7 397.22 L54.45 398.22 L54.2 399.11 L53.95 399.91 L53.7 400.59 L53.45 401.17 L53.2 401.63 L52.95 401.98 L52.7 402.21 L52.45 402.33 L52.2 402.32 L51.95 402.2 L51.7 401.96 L51.45 401.6 L51.2 401.13 L50.95 400.53 L50.7 399.82 L50.45 399 L50.2 398.06Z" fill="#000" stroke="#000" stroke-width="0.6" stroke-linejoin="round"/>
<rect x="50.2" y="306.35" width="530.8" height="157.05" fill="none" stroke="#111" stroke-width="1.25"/>
<path d="M64.94 306.35v2.7 M64.94 463.4v-2.7 M79.69 306.35v2.7 M79.69 463.4v-2.7 M94.43 306.35v2.7 M94.43 463.4v-2.7 M109.18 306.35v2.7 M109.18 463.4v-2.7 M123.92 306.35v2.7 M123.92 463.4v-2.7 M138.67 306.35v4.8 M138.67 463.4v-4.8 M153.41 306.35v2.7 M153.41 463.4v-2.7 M168.16 306.35v2.7 M168.16 463.4v-2.7 M182.9 306.35v2.7 M182.9 463.4v-2.7 M197.64 306.35v2.7 M197.64 463.4v-2.7 M212.39 306.35v2.7 M212.39 463.4v-2.7 M227.13 306.35v4.8 M227.13 463.4v-4.8 M241.88 306.35v2.7 M241.88 463.4v-2.7 M256.62 306.35v2.7 M256.62 463.4v-2.7 M271.37 306.35v2.7 M271.37 463.4v-2.7 M286.11 306.35v2.7 M286.11 463.4v-2.7 M300.86 306.35v2.7 M300.86 463.4v-2.7 M315.6 306.35v4.8 M315.6 463.4v-4.8 M330.34 306.35v2.7 M330.34 463.4v-2.7 M345.09 306.35v2.7 M345.09 463.4v-2.7 M359.83 306.35v2.7 M359.83 463.4v-2.7 M374.58 306.35v2.7 M374.58 463.4v-2.7 M389.32 306.35v2.7 M389.32 463.4v-2.7 M404.07 306.35v4.8 M404.07 463.4v-4.8 M418.81 306.35v2.7 M418.81 463.4v-2.7 M433.56 306.35v2.7 M433.56 463.4v-2.7 M448.3 306.35v2.7 M448.3 463.4v-2.7 M463.04 306.35v2.7 M463.04 463.4v-2.7 M477.79 306.35v2.7 M477.79 463.4v-2.7 M492.53 306.35v4.8 M492.53 463.4v-4.8 M507.28 306.35v2.7 M507.28 463.4v-2.7 M522.02 306.35v2.7 M522.02 463.4v-2.7 M536.77 306.35v2.7 M536.77 463.4v-2.7 M551.51 306.35v2.7 M551.51 463.4v-2.7 M566.26 306.35v2.7 M566.26 463.4v-2.7 M50.2 450.31h3.7 M581 450.31h-3.7 M50.2 437.23h7.4 M581 437.23h-7.4 M50.2 424.14h3.7 M581 424.14h-3.7 M50.2 411.05h3.7 M581 411.05h-3.7 M50.2 397.96h3.7 M581 397.96h-3.7 M50.2 384.88h7.4 M581 384.88h-7.4 M50.2 371.79h3.7 M581 371.79h-3.7 M50.2 358.7h3.7 M581 358.7h-3.7 M50.2 345.61h3.7 M581 345.61h-3.7 M50.2 332.53h7.4 M581 332.53h-7.4 M50.2 319.44h3.7 M581 319.44h-3.7" stroke="#111" stroke-width="1.25" fill="none"/>
<text x="50.7" y="482.4" font-size="14.8" text-anchor="middle" textLength="35.4" lengthAdjust="spacing">1965</text>
<text x="139.17" y="482.4" font-size="14.8" text-anchor="middle" textLength="35.4" lengthAdjust="spacing">1975</text>
<text x="227.63" y="482.4" font-size="14.8" text-anchor="middle" textLength="35.4" lengthAdjust="spacing">1985</text>
<text x="316.1" y="482.4" font-size="14.8" text-anchor="middle" textLength="35.4" lengthAdjust="spacing">1995</text>
<text x="404.57" y="482.4" font-size="14.8" text-anchor="middle" textLength="35.4" lengthAdjust="spacing">2005</text>
<text x="493.03" y="482.4" font-size="14.8" text-anchor="middle" textLength="35.4" lengthAdjust="spacing">2015</text>
<text x="581.5" y="482.4" font-size="14.8" text-anchor="middle" textLength="35.4" lengthAdjust="spacing">2025</text>
<text x="315.6" y="507.1" font-size="16.4" text-anchor="middle" textLength="36.4" lengthAdjust="spacing">Date</text>
<text transform="translate(39.9 332.13) rotate(-90)" font-size="14.8" text-anchor="middle">4</text>
<text transform="translate(39.9 384.48) rotate(-90)" font-size="14.8" text-anchor="middle">0</text>
<text transform="translate(39.9 436.83) rotate(-90)" font-size="14.8" text-anchor="middle" textLength="20.2" lengthAdjust="spacing">−4</text>
<text transform="translate(12.9 384.88) rotate(-90)" font-size="15.6" text-anchor="middle" textLength="24" lengthAdjust="spacing">km</text></g>
<g><path d="M50.2 644.4 L50.4 642.7 L50.5 640.2 L50.7 637.6 L50.8 635 L51 632.6 L51.1 630.6 L51.3 629.1 L51.4 628 L51.6 627.6 L51.7 627.7 L51.9 628.3 L52.1 629.6 L52.2 631.3 L52.4 633.5 L52.5 636 L52.7 638.7 L52.8 641.2 L53 643.3 L53.1 644.3 L53.3 643.8 L53.4 642 L53.6 639.5 L53.7 636.7 L53.9 634 L54.1 631.6 L54.2 629.5 L54.4 628 L54.5 627 L54.7 626.6 L54.8 626.7 L55 627.5 L55.1 628.9 L55.3 630.7 L55.4 633 L55.6 635.6 L55.8 638.4 L55.9 641.1 L56.1 643.2 L56.2 644.3 L56.4 643.8 L56.5 642 L56.7 639.6 L56.8 636.9 L57 634.3 L57.1 631.9 L57.3 630 L57.4 628.6 L57.6 627.7 L57.8 627.4 L57.9 627.6 L58.1 628.5 L58.2 629.8 L58.4 631.7 L58.5 634 L58.7 636.5 L58.8 639.2 L59 641.8 L59.1 643.8 L59.3 644.9 L59.5 644.4 L59.6 642.8 L59.8 640.5 L59.9 638 L60.1 635.6 L60.2 633.5 L60.4 631.7 L60.5 630.4 L60.7 629.6 L60.8 629.4 L61 629.6 L61.1 630.4 L61.3 631.7 L61.5 633.4 L61.6 635.5 L61.8 637.9 L61.9 640.4 L62.1 642.8 L62.2 644.7 L62.4 645.6 L62.5 645.2 L62.7 643.7 L62.8 641.6 L63 639.2 L63.2 637 L63.3 635 L63.5 633.3 L63.6 632.1 L63.8 631.3 L63.9 631 L64.1 631.2 L64.2 631.8 L64.4 633 L64.5 634.6 L64.7 636.5 L64.9 638.7 L65 641 L65.2 643.2 L65.3 645 L65.5 645.9 L65.6 645.5 L65.8 644 L65.9 641.9 L66.1 639.5 L66.2 637.3 L66.4 635.2 L66.5 633.5 L66.7 632.1 L66.9 631.2 L67 630.8 L67.2 630.9 L67.3 631.5 L67.5 632.6 L67.6 634.1 L67.8 636 L67.9 638.2 L68.1 640.5 L68.2 642.8 L68.4 644.6 L68.6 645.5 L68.7 645.1 L68.9 643.5 L69 641.2 L69.2 638.7 L69.3 636.3 L69.5 634.1 L69.6 632.2 L69.8 630.7 L69.9 629.7 L70.1 629.2 L70.2 629.3 L70.4 629.9 L70.6 631 L70.7 632.6 L70.9 634.6 L71 637 L71.2 639.5 L71.3 641.9 L71.5 643.9 L71.6 644.9 L71.8 644.4 L71.9 642.7 L72.1 640.3 L72.3 637.6 L72.4 635 L72.6 632.7 L72.7 630.7 L72.9 629.1 L73 628.1 L73.2 627.7 L73.3 627.8 L73.5 628.5 L73.6 629.7 L73.8 631.5 L73.9 633.7 L74.1 636.2 L74.3 638.8 L74.4 641.4 L74.6 643.5 L74.7 644.5 L74.9 644.1 L75 642.4 L75.2 639.9 L75.3 637.3 L75.5 634.7 L75.6 632.4 L75.8 630.4 L76 629 L76.1 628 L76.3 627.7 L76.4 627.9 L76.6 628.7 L76.7 630 L76.9 631.8 L77 634 L77.2 636.5 L77.3 639.2 L77.5 641.7 L77.6 643.8 L77.8 644.9 L78 644.5 L78.1 642.9 L78.3 640.6 L78.4 638.1 L78.6 635.7 L78.7 633.5 L78.9 631.7 L79 630.4 L79.2 629.6 L79.3 629.3 L79.5 629.6 L79.7 630.4 L79.8 631.6 L80 633.4 L80.1 635.5 L80.3 637.8 L80.4 640.3 L80.6 642.7 L80.7 644.7 L80.9 645.6 L81 645.3 L81.2 643.8 L81.4 641.8 L81.5 639.5 L81.7 637.3 L81.8 635.3 L82 633.7 L82.1 632.5 L82.3 631.8 L82.4 631.5 L82.6 631.7 L82.7 632.4 L82.9 633.6 L83 635.1 L83.2 637 L83.4 639.2 L83.5 641.4 L83.7 643.6 L83.8 645.4 L84 646.3 L84.1 646 L84.3 644.6 L84.4 642.6 L84.6 640.4 L84.7 638.3 L84.9 636.4 L85.1 634.8 L85.2 633.6 L85.4 632.8 L85.5 632.5 L85.7 632.6 L85.8 633.2 L86 634.2 L86.1 635.6 L86.3 637.4 L86.4 639.4 L86.6 641.6 L86.7 643.7 L86.9 645.4 L87.1 646.3 L87.2 645.9 L87.4 644.5 L87.5 642.5 L87.7 640.2 L87.8 638 L88 636 L88.1 634.3 L88.3 632.9 L88.4 632 L88.6 631.6 L88.8 631.7 L88.9 632.2 L89.1 633.2 L89.2 634.7 L89.4 636.5 L89.5 638.6 L89.7 640.8 L89.8 643 L90 644.9 L90.1 645.8 L90.3 645.4 L90.4 643.8 L90.6 641.7 L90.8 639.2 L90.9 636.9 L91.1 634.7 L91.2 632.8 L91.4 631.4 L91.5 630.4 L91.7 630 L91.8 630.1 L92 630.6 L92.1 631.7 L92.3 633.3 L92.5 635.3 L92.6 637.5 L92.8 640 L92.9 642.3 L93.1 644.3 L93.2 645.3 L93.4 644.9 L93.5 643.3 L93.7 641 L93.8 638.5 L94 636.1 L94.2 633.9 L94.3 632 L94.5 630.6 L94.6 629.7 L94.8 629.3 L94.9 629.4 L95.1 630.1 L95.2 631.3 L95.4 633 L95.5 635 L95.7 637.4 L95.8 639.9 L96 642.3 L96.2 644.3 L96.3 645.3 L96.5 645 L96.6 643.5 L96.8 641.3 L96.9 638.9 L97.1 636.6 L97.2 634.5 L97.4 632.8 L97.5 631.6 L97.7 630.8 L97.9 630.5 L98 630.7 L98.2 631.5 L98.3 632.7 L98.5 634.3 L98.6 636.3 L98.8 638.6 L98.9 641 L99.1 643.2 L99.2 645.1 L99.4 646.1 L99.5 645.8 L99.7 644.5 L99.9 642.5 L100 640.4 L100.2 638.3 L100.3 636.5 L100.5 635 L100.6 633.9 L100.8 633.2 L100.9 633 L101.1 633.2 L101.2 633.9 L101.4 635 L101.6 636.5 L101.7 638.3 L101.9 640.3 L102 642.4 L102.2 644.5 L102.3 646.1 L102.5 647 L102.6 646.8 L102.8 645.5 L102.9 643.8 L103.1 641.8 L103.2 639.9 L103.4 638.3 L103.6 636.8 L103.7 635.8 L103.9 635.1 L104 634.8 L104.2 635 L104.3 635.5 L104.5 636.5 L104.6 637.8 L104.8 639.3 L104.9 641.2 L105.1 643.1 L105.3 645 L105.4 646.5 L105.6 647.3 L105.7 647 L105.9 645.8 L106 644.1 L106.2 642.1 L106.3 640.2 L106.5 638.4 L106.6 637 L106.8 635.8 L107 635 L107.1 634.6 L107.3 634.7 L107.4 635.2 L107.6 636 L107.7 637.3 L107.9 638.8 L108 640.7 L108.2 642.6 L108.3 644.5 L108.5 646.1 L108.6 646.9 L108.8 646.6 L109 645.3 L109.1 643.4 L109.3 641.3 L109.4 639.3 L109.6 637.4 L109.7 635.7 L109.9 634.5 L110 633.6 L110.2 633.2 L110.3 633.2 L110.5 633.7 L110.7 634.7 L110.8 636 L111 637.7 L111.1 639.7 L111.3 641.8 L111.4 643.8 L111.6 645.6 L111.7 646.4 L111.9 646.1 L112 644.8 L112.2 642.8 L112.3 640.6 L112.5 638.5 L112.7 636.6 L112.8 634.9 L113 633.7 L113.1 632.9 L113.3 632.5 L113.4 632.6 L113.6 633.2 L113.7 634.3 L113.9 635.7 L114 637.5 L114.2 639.6 L114.4 641.8 L114.5 643.9 L114.7 645.6 L114.8 646.5 L115 646.3 L115.1 645 L115.3 643.1 L115.4 641.1 L115.6 639.1 L115.7 637.3 L115.9 635.8 L116 634.7 L116.2 634 L116.4 633.8 L116.5 634 L116.7 634.6 L116.8 635.7 L117 637.1 L117.1 638.8 L117.3 640.8 L117.4 642.8 L117.6 644.8 L117.7 646.4 L117.9 647.3 L118.1 647.1 L118.2 646 L118.4 644.3 L118.5 642.5 L118.7 640.8 L118.8 639.2 L119 637.9 L119.1 637 L119.3 636.4 L119.4 636.2 L119.6 636.4 L119.7 637 L119.9 638 L120.1 639.2 L120.2 640.8 L120.4 642.5 L120.5 644.3 L120.7 646 L120.8 647.4 L121 648.2 L121.1 648 L121.3 647 L121.4 645.6 L121.6 644 L121.8 642.4 L121.9 641 L122.1 639.9 L122.2 639 L122.4 638.4 L122.5 638.2 L122.7 638.4 L122.8 638.8 L123 639.6 L123.1 640.7 L123.3 642 L123.5 643.6 L123.6 645.2 L123.8 646.7 L123.9 648 L124.1 648.7 L124.2 648.5 L124.4 647.5 L124.5 646.1 L124.7 644.5 L124.8 643 L125 641.6 L125.1 640.4 L125.3 639.5 L125.5 638.9 L125.6 638.6 L125.8 638.6 L125.9 639 L126.1 639.7 L126.2 640.7 L126.4 641.9 L126.5 643.4 L126.7 645 L126.8 646.5 L127 647.8 L127.2 648.5 L127.3 648.2 L127.5 647.2 L127.6 645.7 L127.8 644 L127.9 642.3 L128.1 640.8 L128.2 639.5 L128.4 638.4 L128.5 637.7 L128.7 637.4 L128.8 637.4 L129 637.7 L129.2 638.4 L129.3 639.5 L129.5 640.8 L129.6 642.4 L129.8 644.1 L129.9 645.8 L130.1 647.2 L130.2 647.9 L130.4 647.7 L130.5 646.6 L130.7 644.9 L130.9 643.1 L131 641.3 L131.2 639.7 L131.3 638.3 L131.5 637.2 L131.6 636.5 L131.8 636.1 L131.9 636.2 L132.1 636.6 L132.2 637.4 L132.4 638.6 L132.5 640.1 L132.7 641.8 L132.9 643.6 L133 645.4 L133.2 646.9 L133.3 647.7 L133.5 647.5 L133.6 646.4 L133.8 644.8 L133.9 643 L134.1 641.2 L134.2 639.6 L134.4 638.3 L134.6 637.3 L134.7 636.6 L134.9 636.4 L135 636.5 L135.2 637 L135.3 637.9 L135.5 639.1 L135.6 640.6 L135.8 642.3 L135.9 644.1 L136.1 645.9 L136.3 647.3 L136.4 648.1 L136.6 647.9 L136.7 646.9 L136.9 645.5 L137 643.9 L137.2 642.3 L137.3 640.9 L137.5 639.7 L137.6 638.9 L137.8 638.4 L137.9 638.2 L138.1 638.4 L138.3 638.9 L138.4 639.7 L138.6 640.9 L138.7 642.2 L138.9 643.8 L139 645.4 L139.2 646.9 L139.3 648.2 L139.5 648.9 L139.6 648.8 L139.8 648 L140 646.7 L140.1 645.3 L140.3 643.9 L140.4 642.7 L140.6 641.7 L140.7 641 L140.9 640.5 L141 640.4 L141.2 640.5 L141.3 641 L141.5 641.7 L141.6 642.6 L141.8 643.8 L142 645.1 L142.1 646.5 L142.3 647.9 L142.4 649 L142.6 649.6 L142.7 649.5 L142.9 648.7 L143 647.6 L143.2 646.3 L143.3 645.1 L143.5 643.9 L143.7 643 L143.8 642.3 L144 641.8 L144.1 641.6 L144.3 641.7 L144.4 642 L144.6 642.6 L144.7 643.4 L144.9 644.5 L145 645.6 L145.2 646.9 L145.3 648.2 L145.5 649.2 L145.7 649.8 L145.8 649.6 L146 648.8 L146.1 647.7 L146.3 646.4 L146.4 645.1 L146.6 643.9 L146.7 642.8 L146.9 642 L147 641.5 L147.2 641.2 L147.4 641.2 L147.5 641.5 L147.7 642 L147.8 642.8 L148 643.8 L148.1 645.1 L148.3 646.4 L148.4 647.7 L148.6 648.8 L148.7 649.3 L148.9 649.2 L149.1 648.3 L149.2 647 L149.4 645.6 L149.5 644.1 L149.7 642.8 L149.8 641.6 L150 640.7 L150.1 640 L150.3 639.7 L150.4 639.7 L150.6 640 L150.7 640.6 L150.9 641.5 L151.1 642.6 L151.2 644 L151.4 645.4 L151.5 646.9 L151.7 648.1 L151.8 648.8 L152 648.6 L152.1 647.7 L152.3 646.2 L152.4 644.7 L152.6 643.1 L152.8 641.6 L152.9 640.4 L153.1 639.5 L153.2 638.8 L153.4 638.5 L153.5 638.5 L153.7 638.9 L153.8 639.6 L154 640.6 L154.1 641.9 L154.3 643.4 L154.4 645 L154.6 646.5 L154.8 647.8 L154.9 648.6 L155.1 648.4 L155.2 647.5 L155.4 646.1 L155.5 644.5 L155.7 643 L155.8 641.6 L156 640.4 L156.1 639.5 L156.3 639 L156.5 638.7 L156.6 638.8 L156.8 639.3 L156.9 640 L157.1 641.1 L157.2 642.4 L157.4 643.9 L157.5 645.4 L157.7 647 L157.8 648.2 L158 649 L158.1 648.9 L158.3 648 L158.5 646.8 L158.6 645.4 L158.8 644 L158.9 642.8 L159.1 641.8 L159.2 641.1 L159.4 640.6 L159.5 640.5 L159.7 640.6 L159.8 641.1 L160 641.8 L160.2 642.8 L160.3 643.9 L160.5 645.2 L160.6 646.6 L160.8 648 L160.9 649.1 L161.1 649.7 L161.2 649.7 L161.4 648.9 L161.5 647.9 L161.7 646.7 L161.8 645.5 L162 644.5 L162.2 643.6 L162.3 643 L162.5 642.6 L162.6 642.5 L162.8 642.6 L162.9 642.9 L163.1 643.6 L163.2 644.4 L163.4 645.4 L163.5 646.5 L163.7 647.7 L163.9 648.8 L164 649.8 L164.2 650.3 L164.3 650.2 L164.5 649.6 L164.6 648.6 L164.8 647.5 L164.9 646.4 L165.1 645.5 L165.2 644.6 L165.4 644 L165.6 643.6 L165.7 643.4 L165.9 643.4 L166 643.7 L166.2 644.2 L166.3 644.9 L166.5 645.7 L166.6 646.8 L166.8 647.8 L166.9 648.9 L167.1 649.8 L167.2 650.3 L167.4 650.2 L167.6 649.5 L167.7 648.5 L167.9 647.3 L168 646.2 L168.2 645.1 L168.3 644.2 L168.5 643.4 L168.6 642.9 L168.8 642.6 L168.9 642.6 L169.1 642.8 L169.3 643.3 L169.4 644 L169.6 644.9 L169.7 645.9 L169.9 647.1 L170 648.3 L170.2 649.3 L170.3 649.8 L170.5 649.7 L170.6 648.9 L170.8 647.7 L170.9 646.4 L171.1 645.1 L171.3 643.8 L171.4 642.7 L171.6 641.9 L171.7 641.3 L171.9 640.9 L172 640.9 L172.2 641.1 L172.3 641.7 L172.5 642.5 L172.6 643.5 L172.8 644.8 L173 646.1 L173.1 647.5 L173.3 648.6 L173.4 649.2 L173.6 649.1 L173.7 648.2 L173.9 647 L174 645.5 L174.2 644 L174.3 642.7 L174.5 641.6 L174.6 640.7 L174.8 640.1 L175 639.8 L175.1 639.8 L175.3 640.2 L175.4 640.8 L175.6 641.7 L175.7 642.9 L175.9 644.3 L176 645.7 L176.2 647.2 L176.3 648.4 L176.5 649.1 L176.7 649 L176.8 648.2 L177 646.9 L177.1 645.5 L177.3 644.1 L177.4 642.8 L177.6 641.8 L177.7 641 L177.9 640.5 L178 640.3 L178.2 640.4 L178.4 640.8 L178.5 641.5 L178.7 642.5 L178.8 643.6 L179 645 L179.1 646.4 L179.3 647.8 L179.4 648.9 L179.6 649.6 L179.7 649.5 L179.9 648.8 L180 647.7 L180.2 646.5 L180.4 645.3 L180.5 644.2 L180.7 643.4 L180.8 642.7 L181 642.4 L181.1 642.2 L181.3 642.4 L181.4 642.8 L181.6 643.4 L181.7 644.3 L181.9 645.3 L182.1 646.5 L182.2 647.7 L182.4 648.8 L182.5 649.8 L182.7 650.4 L182.8 650.4 L183 649.8 L183.1 648.8 L183.3 647.8 L183.4 646.8 L183.6 645.9 L183.7 645.2 L183.9 644.6 L184.1 644.3 L184.2 644.2 L184.4 644.3 L184.5 644.6 L184.7 645.1 L184.8 645.8 L185 646.6 L185.1 647.6 L185.3 648.6 L185.4 649.6 L185.6 650.4 L185.8 650.9 L185.9 650.8 L186.1 650.3 L186.2 649.4 L186.4 648.4 L186.5 647.5 L186.7 646.6 L186.8 645.8 L187 645.2 L187.1 644.8 L187.3 644.6 L187.4 644.6 L187.6 644.8 L187.8 645.2 L187.9 645.8 L188.1 646.5 L188.2 647.4 L188.4 648.4 L188.5 649.4 L188.7 650.2 L188.8 650.7 L189 650.6 L189.1 650 L189.3 649 L189.5 647.9 L189.6 646.8 L189.8 645.8 L189.9 644.9 L190.1 644.1 L190.2 643.6 L190.4 643.3 L190.5 643.2 L190.7 643.4 L190.8 643.8 L191 644.5 L191.2 645.3 L191.3 646.3 L191.5 647.5 L191.6 648.6 L191.8 649.5 L191.9 650.1 L192.1 650 L192.2 649.2 L192.4 648.1 L192.5 646.9 L192.7 645.6 L192.8 644.5 L193 643.5 L193.2 642.7 L193.3 642.1 L193.5 641.8 L193.6 641.8 L193.8 642 L193.9 642.6 L194.1 643.3 L194.2 644.3 L194.4 645.5 L194.5 646.8 L194.7 648 L194.9 649.1 L195 649.7 L195.2 649.6 L195.3 648.9 L195.5 647.7 L195.6 646.5 L195.8 645.2 L195.9 644 L196.1 643.1 L196.2 642.3 L196.4 641.8 L196.5 641.6 L196.7 641.7 L196.9 642 L197 642.6 L197.2 643.5 L197.3 644.6 L197.5 645.8 L197.6 647 L197.8 648.3 L197.9 649.4 L198.1 650 L198.2 650 L198.4 649.3 L198.6 648.3 L198.7 647.2 L198.9 646.1 L199 645.1 L199.2 644.4 L199.3 643.8 L199.5 643.4 L199.6 643.3 L199.8 643.5 L199.9 643.9 L200.1 644.5 L200.2 645.3 L200.4 646.2 L200.6 647.3 L200.7 648.4 L200.9 649.5 L201 650.4 L201.2 650.9 L201.3 650.9 L201.5 650.4 L201.6 649.6 L201.8 648.8 L201.9 648 L202.1 647.3 L202.3 646.7 L202.4 646.3 L202.6 646 L202.7 646 L202.9 646.1 L203 646.4 L203.2 646.9 L203.3 647.5 L203.5 648.2 L203.6 649 L203.8 649.9 L204 650.7 L204.1 651.4 L204.3 651.8 L204.4 651.7 L204.6 651.4 L204.7 650.7 L204.9 650 L205 649.4 L205.2 648.8 L205.3 648.2 L205.5 647.8 L205.6 647.6 L205.8 647.5 L206 647.5 L206.1 647.7 L206.3 648 L206.4 648.4 L206.6 649 L206.7 649.6 L206.9 650.3 L207 651 L207.2 651.6 L207.3 651.9 L207.5 651.9 L207.7 651.5 L207.8 650.8 L208 650.1 L208.1 649.3 L208.3 648.6 L208.4 648 L208.6 647.5 L208.7 647.2 L208.9 647 L209 646.9 L209.2 647 L209.3 647.3 L209.5 647.7 L209.7 648.3 L209.8 649 L210 649.7 L210.1 650.5 L210.3 651.1 L210.4 651.5 L210.6 651.4 L210.7 650.9 L210.9 650.1 L211 649.3 L211.2 648.4 L211.4 647.5 L211.5 646.8 L211.7 646.2 L211.8 645.8 L212 645.5 L212.1 645.5 L212.3 645.7 L212.4 646 L212.6 646.5 L212.7 647.2 L212.9 648 L213 648.9 L213.2 649.8 L213.4 650.6 L213.5 651.1 L213.7 651 L213.8 650.5 L214 649.7 L214.1 648.7 L214.3 647.8 L214.4 647 L214.6 646.2 L214.7 645.7 L214.9 645.3 L215.1 645.2 L215.2 645.2 L215.4 645.5 L215.5 645.9 L215.7 646.5 L215.8 647.3 L216 648.2 L216.1 649.1 L216.3 650 L216.4 650.8 L216.6 651.3 L216.7 651.3 L216.9 650.8 L217.1 650.1 L217.2 649.3 L217.4 648.6 L217.5 647.9 L217.7 647.3 L217.8 646.9 L218 646.7 L218.1 646.6 L218.3 646.8 L218.4 647 L218.6 647.5 L218.8 648.1 L218.9 648.7 L219.1 649.5 L219.2 650.3 L219.4 651 L219.5 651.7 L219.7 652.1 L219.8 652.1 L220 651.8 L220.1 651.3 L220.3 650.7 L220.5 650.2 L220.6 649.8 L220.8 649.4 L220.9 649.2 L221.1 649.1 L221.2 649.1 L221.4 649.2 L221.5 649.4 L221.7 649.7 L221.8 650.1 L222 650.6 L222.1 651.2 L222.3 651.7 L222.5 652.2 L222.6 652.6 L222.8 652.9 L222.9 652.9 L223.1 652.7 L223.2 652.4 L223.4 652 L223.5 651.6 L223.7 651.3 L223.8 651.1 L224 650.9 L224.2 650.8 L224.3 650.8 L224.5 650.8 L224.6 650.9 L224.8 651.1 L224.9 651.4 L225.1 651.7 L225.2 652.1 L225.4 652.4 L225.5 652.8 L225.7 653.1 L225.8 653.3 L226 653.3 L226.2 653.1 L226.3 652.8 L226.5 652.4 L226.6 652.1 L226.8 651.7 L226.9 651.4 L227.1 651.2 L227.2 651 L227.4 650.9 L227.5 650.9 L227.7 650.9 L227.9 651 L228 651.2 L228.2 651.5 L228.3 651.8 L228.5 652.2 L228.6 652.5 L228.8 652.8 L228.9 653 L229.1 653 L229.2 652.7 L229.4 652.3 L229.5 651.8 L229.7 651.3 L229.9 650.9 L230 650.5 L230.2 650.1 L230.3 649.8 L230.5 649.6 L230.6 649.6 L230.8 649.6 L230.9 649.7 L231.1 650 L231.2 650.3 L231.4 650.8 L231.6 651.3 L231.7 651.8 L231.9 652.2 L232 652.5 L232.2 652.4 L232.3 652.1 L232.5 651.5 L232.6 650.9 L232.8 650.2 L232.9 649.6 L233.1 649.1 L233.3 648.7 L233.4 648.3 L233.6 648.1 L233.7 648.1 L233.9 648.2 L234 648.4 L234.2 648.8 L234.3 649.3 L234.5 649.8 L234.6 650.5 L234.8 651.1 L234.9 651.7 L235.1 652 L235.3 652 L235.4 651.6 L235.6 651 L235.7 650.4 L235.9 649.7 L236 649.1 L236.2 648.5 L236.3 648.1 L236.5 647.9 L236.6 647.8 L236.8 647.8 L237 648 L237.1 648.3 L237.3 648.7 L237.4 649.3 L237.6 649.9 L237.7 650.6 L237.9 651.3 L238 651.8 L238.2 652.2 L238.3 652.2 L238.5 651.9 L238.6 651.4 L238.8 650.8 L239 650.2 L239.1 649.7 L239.3 649.3 L239.4 649.1 L239.6 648.9 L239.7 648.8 L239.9 648.9 L240 649.1 L240.2 649.5 L240.3 649.9 L240.5 650.4 L240.7 650.9 L240.8 651.5 L241 652 L241.1 652.5 L241.3 652.8 L241.4 652.8 L241.6 652.6 L241.7 652.2 L241.9 651.9 L242 651.5 L242.2 651.2 L242.3 650.9 L242.5 650.7 L242.7 650.6 L242.8 650.6 L243 650.7 L243.1 650.9 L243.3 651.1 L243.4 651.4 L243.6 651.8 L243.7 652.1 L243.9 652.5 L244 652.9 L244.2 653.2 L244.4 653.4 L244.5 653.4 L244.7 653.3 L244.8 653.1 L245 652.8 L245.1 652.5 L245.3 652.3 L245.4 652.2 L245.6 652 L245.7 652 L245.9 651.9 L246.1 652 L246.2 652.1 L246.4 652.2 L246.5 652.4 L246.7 652.6 L246.8 652.8 L247 653.1 L247.1 653.3 L247.3 653.6 L247.4 653.7 L247.6 653.7 L247.7 653.5 L247.9 653.3 L248.1 653.1 L248.2 652.8 L248.4 652.6 L248.5 652.4 L248.7 652.2 L248.8 652.1 L249 652 L249.1 651.9 L249.3 651.9 L249.4 652 L249.6 652.1 L249.8 652.3 L249.9 652.5 L250.1 652.8 L250.2 653.1 L250.4 653.3 L250.5 653.4 L250.7 653.4 L250.8 653.2 L251 652.9 L251.1 652.5 L251.3 652.1 L251.4 651.7 L251.6 651.4 L251.8 651.1 L251.9 650.9 L252.1 650.7 L252.2 650.6 L252.4 650.6 L252.5 650.7 L252.7 650.9 L252.8 651.1 L253 651.5 L253.1 651.9 L253.3 652.3 L253.5 652.6 L253.6 652.8 L253.8 652.8 L253.9 652.5 L254.1 652 L254.2 651.5 L254.4 650.9 L254.5 650.3 L254.7 649.9 L254.8 649.4 L255 649.1 L255.1 648.9 L255.3 648.8 L255.5 648.9 L255.6 649 L255.8 649.3 L255.9 649.7 L256.1 650.2 L256.2 650.8 L256.4 651.4 L256.5 651.9 L256.7 652.2 L256.8 652.2 L257 651.8 L257.2 651.2 L257.3 650.5 L257.5 649.8 L257.6 649.2 L257.8 648.6 L257.9 648.2 L258.1 647.9 L258.2 647.7 L258.4 647.6 L258.5 647.8 L258.7 648 L258.8 648.5 L259 649 L259.2 649.6 L259.3 650.3 L259.5 651 L259.6 651.6 L259.8 652 L259.9 652 L260.1 651.6 L260.2 651 L260.4 650.4 L260.5 649.7 L260.7 649.1 L260.9 648.6 L261 648.2 L261.2 648 L261.3 647.9 L261.5 647.9 L261.6 648.1 L261.8 648.5 L261.9 648.9 L262.1 649.5 L262.2 650.1 L262.4 650.8 L262.6 651.4 L262.7 652 L262.9 652.3 L263 652.4 L263.2 652.1 L263.3 651.6 L263.5 651.1 L263.6 650.6 L263.8 650.1 L263.9 649.8 L264.1 649.5 L264.2 649.4 L264.4 649.4 L264.6 649.5 L264.7 649.7 L264.9 650 L265 650.3 L265.2 650.8 L265.3 651.3 L265.5 651.8 L265.6 652.3 L265.8 652.7 L265.9 653 L266.1 653 L266.3 652.8 L266.4 652.5 L266.6 652.1 L266.7 651.8 L266.9 651.5 L267 651.2 L267.2 651 L267.3 650.9 L267.5 650.9 L267.6 651 L267.8 651.1 L267.9 651.3 L268.1 651.5 L268.3 651.8 L268.4 652.1 L268.6 652.5 L268.7 652.8 L268.9 653.1 L269 653.3 L269.2 653.3 L269.3 653.2 L269.5 652.9 L269.6 652.5 L269.8 652.2 L270 651.9 L270.1 651.6 L270.3 651.4 L270.4 651.2 L270.6 651.1 L270.7 651 L270.9 651.1 L271 651.2 L271.2 651.3 L271.3 651.6 L271.5 651.9 L271.6 652.2 L271.8 652.6 L272 652.9 L272.1 653.1 L272.3 653 L272.4 652.8 L272.6 652.4 L272.7 651.9 L272.9 651.4 L273 651 L273.2 650.5 L273.3 650.2 L273.5 649.9 L273.7 649.7 L273.8 649.6 L274 649.6 L274.1 649.7 L274.3 649.9 L274.4 650.2 L274.6 650.7 L274.7 651.1 L274.9 651.6 L275 652.1 L275.2 652.4 L275.4 652.3 L275.5 652 L275.7 651.4 L275.8 650.7 L276 650.1 L276.1 649.4 L276.3 648.8 L276.4 648.3 L276.6 648 L276.7 647.7 L276.9 647.6 L277 647.7 L277.2 647.9 L277.4 648.3 L277.5 648.8 L277.7 649.4 L277.8 650.1 L278 650.7 L278.1 651.4 L278.3 651.7 L278.4 651.7 L278.6 651.3 L278.7 650.7 L278.9 649.9 L279.1 649.1 L279.2 648.4 L279.4 647.7 L279.5 647.2 L279.7 646.9 L279.8 646.7 L280 646.7 L280.1 646.9 L280.3 647.2 L280.4 647.7 L280.6 648.3 L280.7 649 L280.9 649.8 L281.1 650.6 L281.2 651.2 L281.4 651.7 L281.5 651.7 L281.7 651.3 L281.8 650.7 L282 650 L282.1 649.3 L282.3 648.6 L282.4 648.1 L282.6 647.7 L282.8 647.4 L282.9 647.4 L283.1 647.4 L283.2 647.6 L283.4 648 L283.5 648.5 L283.7 649.1 L283.8 649.8 L284 650.5 L284.1 651.2 L284.3 651.8 L284.4 652.2 L284.6 652.2 L284.8 651.9 L284.9 651.5 L285.1 650.9 L285.2 650.4 L285.4 649.9 L285.5 649.5 L285.7 649.3 L285.8 649.1 L286 649.1 L286.1 649.2 L286.3 649.4 L286.5 649.7 L286.6 650.1 L286.8 650.5 L286.9 651 L287.1 651.6 L287.2 652.1 L287.4 652.6 L287.5 652.8 L287.7 652.9 L287.8 652.7 L288 652.3 L288.2 651.9 L288.3 651.5 L288.5 651.2 L288.6 650.9 L288.8 650.7 L288.9 650.5 L289.1 650.5 L289.2 650.5 L289.4 650.6 L289.5 650.8 L289.7 651.1 L289.8 651.4 L290 651.8 L290.2 652.2 L290.3 652.6 L290.5 652.9 L290.6 653.1 L290.8 653.1 L290.9 652.9 L291.1 652.6 L291.2 652.2 L291.4 651.8 L291.5 651.4 L291.7 651 L291.9 650.7 L292 650.5 L292.2 650.4 L292.3 650.3 L292.5 650.3 L292.6 650.5 L292.8 650.7 L292.9 651 L293.1 651.3 L293.2 651.7 L293.4 652.1 L293.5 652.5 L293.7 652.8 L293.9 652.7 L294 652.4 L294.2 652 L294.3 651.4 L294.5 650.8 L294.6 650.3 L294.8 649.8 L294.9 649.3 L295.1 649 L295.2 648.8 L295.4 648.7 L295.6 648.7 L295.7 648.8 L295.9 649.1 L296 649.5 L296.2 650 L296.3 650.6 L296.5 651.2 L296.6 651.7 L296.8 652 L296.9 652 L297.1 651.6 L297.2 651 L297.4 650.2 L297.6 649.4 L297.7 648.7 L297.9 648 L298 647.5 L298.2 647.1 L298.3 646.8 L298.5 646.7 L298.6 646.8 L298.8 647.1 L298.9 647.5 L299.1 648.1 L299.3 648.7 L299.4 649.5 L299.6 650.3 L299.7 651 L299.9 651.4 L300 651.4 L300.2 651 L300.3 650.3 L300.5 649.5 L300.6 648.6 L300.8 647.8 L300.9 647.1 L301.1 646.6 L301.3 646.2 L301.4 646 L301.6 646 L301.7 646.2 L301.9 646.5 L302 647.1 L302.2 647.7 L302.3 648.5 L302.5 649.4 L302.6 650.2 L302.8 651 L303 651.4 L303.1 651.5 L303.3 651.1 L303.4 650.4 L303.6 649.7 L303.7 648.9 L303.9 648.2 L304 647.6 L304.2 647.2 L304.3 646.9 L304.5 646.8 L304.7 646.9 L304.8 647.1 L305 647.5 L305.1 648 L305.3 648.6 L305.4 649.3 L305.6 650.1 L305.7 650.9 L305.9 651.5 L306 651.9 L306.2 652 L306.3 651.7 L306.5 651.2 L306.7 650.5 L306.8 649.9 L307 649.4 L307.1 648.9 L307.3 648.6 L307.4 648.4 L307.6 648.3 L307.7 648.4 L307.9 648.5 L308 648.9 L308.2 649.3 L308.4 649.8 L308.5 650.4 L308.7 651 L308.8 651.6 L309 652.1 L309.1 652.4 L309.3 652.5 L309.4 652.2 L309.6 651.8 L309.7 651.2 L309.9 650.7 L310 650.2 L310.2 649.8 L310.4 649.5 L310.5 649.3 L310.7 649.2 L310.8 649.2 L311 649.3 L311.1 649.5 L311.3 649.8 L311.4 650.2 L311.6 650.7 L311.7 651.2 L311.9 651.7 L312.1 652.2 L312.2 652.5 L312.4 652.5 L312.5 652.2 L312.7 651.7 L312.8 651.1 L313 650.5 L313.1 650 L313.3 649.5 L313.4 649 L313.6 648.7 L313.7 648.5 L313.9 648.4 L314.1 648.4 L314.2 648.6 L314.4 648.9 L314.5 649.3 L314.7 649.9 L314.8 650.4 L315 651.1 L315.1 651.6 L315.3 651.9 L315.4 651.9 L315.6 651.6 L315.8 650.9 L315.9 650.1 L316.1 649.3 L316.2 648.5 L316.4 647.9 L316.5 647.3 L316.7 646.8 L316.8 646.5 L317 646.4 L317.1 646.4 L317.3 646.6 L317.5 647 L317.6 647.6 L317.8 648.3 L317.9 649.1 L318.1 649.9 L318.2 650.6 L318.4 651.1 L318.5 651.1 L318.7 650.6 L318.8 649.8 L319 648.8 L319.1 647.7 L319.3 646.7 L319.5 645.9 L319.6 645.2 L319.8 644.6 L319.9 644.3 L320.1 644.2 L320.2 644.3 L320.4 644.6 L320.5 645.2 L320.7 645.9 L320.8 646.9 L321 647.9 L321.2 648.9 L321.3 649.8 L321.5 650.4 L321.6 650.5 L321.8 649.9 L321.9 649 L322.1 647.9 L322.2 646.7 L322.4 645.7 L322.5 644.8 L322.7 644 L322.8 643.5 L323 643.3 L323.2 643.2 L323.3 643.4 L323.5 643.9 L323.6 644.6 L323.8 645.4 L323.9 646.4 L324.1 647.6 L324.2 648.7 L324.4 649.7 L324.5 650.3 L324.7 650.4 L324.9 649.9 L325 649 L325.2 647.9 L325.3 646.9 L325.5 645.9 L325.6 645.1 L325.8 644.4 L325.9 644 L326.1 643.8 L326.2 643.8 L326.4 644.1 L326.5 644.6 L326.7 645.3 L326.9 646.1 L327 647.1 L327.2 648.1 L327.3 649.2 L327.5 650.1 L327.6 650.7 L327.8 650.8 L327.9 650.4 L328.1 649.6 L328.2 648.7 L328.4 647.7 L328.6 646.9 L328.7 646.2 L328.9 645.6 L329 645.3 L329.2 645.1 L329.3 645.2 L329.5 645.4 L329.6 645.8 L329.8 646.4 L329.9 647.2 L330.1 648 L330.3 648.9 L330.4 649.9 L330.6 650.7 L330.7 651.2 L330.9 651.3 L331 650.8 L331.2 650.1 L331.3 649.3 L331.5 648.4 L331.6 647.6 L331.8 646.9 L331.9 646.4 L332.1 646 L332.3 645.8 L332.4 645.8 L332.6 645.9 L332.7 646.3 L332.9 646.8 L333 647.4 L333.2 648.2 L333.3 649 L333.5 649.9 L333.6 650.7 L333.8 651.2 L334 651.2 L334.1 650.8 L334.3 650 L334.4 649.1 L334.6 648.1 L334.7 647.2 L334.9 646.4 L335 645.7 L335.2 645.2 L335.3 644.9 L335.5 644.8 L335.6 644.9 L335.8 645.2 L336 645.7 L336.1 646.4 L336.3 647.2 L336.4 648.1 L336.6 649.1 L336.7 650 L336.9 650.5 L337 650.6 L337.2 650 L337.3 649.1 L337.5 647.9 L337.7 646.8 L337.8 645.6 L338 644.6 L338.1 643.8 L338.3 643.2 L338.4 642.8 L338.6 642.6 L338.7 642.8 L338.9 643.1 L339 643.7 L339.2 644.6 L339.3 645.6 L339.5 646.7 L339.7 647.9 L339.8 649 L340 649.7 L340.1 649.7 L340.3 649.1 L340.4 648 L340.6 646.6 L340.7 645.2 L340.9 644 L341 642.8 L341.2 641.9 L341.4 641.2 L341.5 640.8 L341.7 640.7 L341.8 640.9 L342 641.3 L342.1 642.1 L342.3 643.1 L342.4 644.3 L342.6 645.7 L342.7 647.1 L342.9 648.3 L343 649.1 L343.2 649.2 L343.4 648.5 L343.5 647.3 L343.7 645.9 L343.8 644.5 L344 643.1 L344.1 642 L344.3 641.1 L344.4 640.4 L344.6 640.1 L344.7 640 L344.9 640.3 L345.1 640.9 L345.2 641.8 L345.4 642.9 L345.5 644.2 L345.7 645.6 L345.8 647 L346 648.3 L346.1 649.2 L346.3 649.3 L346.4 648.7 L346.6 647.5 L346.8 646.2 L346.9 644.9 L347.1 643.7 L347.2 642.6 L347.4 641.8 L347.5 641.3 L347.7 641 L347.8 641.1 L348 641.4 L348.1 642 L348.3 642.9 L348.4 643.9 L348.6 645.1 L348.8 646.5 L348.9 647.8 L349.1 649 L349.2 649.7 L349.4 649.9 L349.5 649.3 L349.7 648.3 L349.8 647.2 L350 646 L350.1 644.9 L350.3 644 L350.5 643.3 L350.6 642.8 L350.8 642.6 L350.9 642.6 L351.1 642.9 L351.2 643.4 L351.4 644.1 L351.5 645.1 L351.7 646.1 L351.8 647.3 L352 648.5 L352.1 649.5 L352.3 650.2 L352.5 650.3 L352.6 649.8 L352.8 648.8 L352.9 647.7 L353.1 646.6 L353.2 645.6 L353.4 644.6 L353.5 643.9 L353.7 643.4 L353.8 643.1 L354 643 L354.2 643.2 L354.3 643.6 L354.5 644.2 L354.6 645.1 L354.8 646.1 L354.9 647.2 L355.1 648.3 L355.2 649.3 L355.4 650 L355.5 650.1 L355.7 649.5 L355.8 648.5 L356 647.3 L356.2 646 L356.3 644.8 L356.5 643.7 L356.6 642.8 L356.8 642.1 L356.9 641.7 L357.1 641.6 L357.2 641.7 L357.4 642.1 L357.5 642.8 L357.7 643.7 L357.9 644.8 L358 646 L358.2 647.3 L358.3 648.5 L358.5 649.2 L358.6 649.3 L358.8 648.6 L358.9 647.4 L359.1 646 L359.2 644.4 L359.4 643 L359.6 641.8 L359.7 640.7 L359.9 639.9 L360 639.5 L360.2 639.3 L360.3 639.5 L360.5 640 L360.6 640.8 L360.8 641.9 L360.9 643.2 L361.1 644.7 L361.2 646.2 L361.4 647.5 L361.6 648.5 L361.7 648.6 L361.9 647.8 L362 646.5 L362.2 644.9 L362.3 643.2 L362.5 641.7 L362.6 640.3 L362.8 639.3 L362.9 638.5 L363.1 638 L363.3 637.9 L363.4 638.2 L363.6 638.8 L363.7 639.8 L363.9 641 L364 642.5 L364.2 644.1 L364.3 645.8 L364.5 647.2 L364.6 648.2 L364.8 648.4 L364.9 647.7 L365.1 646.3 L365.3 644.8 L365.4 643.2 L365.6 641.7 L365.7 640.4 L365.9 639.4 L366 638.7 L366.2 638.4 L366.3 638.4 L366.5 638.7 L366.6 639.4 L366.8 640.4 L367 641.6 L367.1 643.1 L367.3 644.7 L367.4 646.3 L367.6 647.7 L367.7 648.7 L367.9 648.8 L368 648.2 L368.2 647 L368.3 645.6 L368.5 644.2 L368.6 642.8 L368.8 641.7 L369 640.9 L369.1 640.3 L369.3 640 L369.4 640.1 L369.6 640.4 L369.7 641.1 L369.9 642 L370 643.1 L370.2 644.4 L370.3 645.8 L370.5 647.2 L370.7 648.5 L370.8 649.4 L371 649.5 L371.1 648.9 L371.3 647.9 L371.4 646.6 L371.6 645.4 L371.7 644.2 L371.9 643.2 L372 642.4 L372.2 641.8 L372.4 641.5 L372.5 641.5 L372.7 641.8 L372.8 642.3 L373 643.1 L373.1 644 L373.3 645.2 L373.4 646.5 L373.6 647.7 L373.7 648.9 L373.9 649.6 L374 649.8 L374.2 649.2 L374.4 648.2 L374.5 646.9 L374.7 645.6 L374.8 644.4 L375 643.3 L375.1 642.4 L375.3 641.8 L375.4 641.4 L375.6 641.3 L375.7 641.4 L375.9 641.9 L376.1 642.6 L376.2 643.5 L376.4 644.7 L376.5 646 L376.7 647.3 L376.8 648.4 L377 649.2 L377.1 649.4 L377.3 648.7 L377.4 647.5 L377.6 646.1 L377.7 644.6 L377.9 643.2 L378.1 641.9 L378.2 640.9 L378.4 640.1 L378.5 639.7 L378.7 639.5 L378.8 639.7 L379 640.1 L379.1 640.9 L379.3 642 L379.4 643.2 L379.6 644.7 L379.8 646.2 L379.9 647.5 L380.1 648.4 L380.2 648.6 L380.4 647.8 L380.5 646.5 L380.7 644.9 L380.8 643.2 L381 641.6 L381.1 640.2 L381.3 639 L381.4 638.2 L381.6 637.7 L381.8 637.5 L381.9 637.8 L382.1 638.4 L382.2 639.3 L382.4 640.5 L382.5 642 L382.7 643.6 L382.8 645.3 L383 646.9 L383.1 647.9 L383.3 648.1 L383.5 647.3 L383.6 645.9 L383.8 644.2 L383.9 642.5 L384.1 640.8 L384.2 639.4 L384.4 638.3 L384.5 637.5 L384.7 637.1 L384.8 637 L385 637.4 L385.1 638.1 L385.3 639.1 L385.5 640.4 L385.6 642 L385.8 643.7 L385.9 645.4 L386.1 647 L386.2 648 L386.4 648.2 L386.5 647.5 L386.7 646.2 L386.8 644.6 L387 643 L387.2 641.5 L387.3 640.2 L387.5 639.3 L387.6 638.6 L387.8 638.2 L387.9 638.3 L388.1 638.6 L388.2 639.3 L388.4 640.3 L388.5 641.6 L388.7 643 L388.9 644.6 L389 646.2 L389.2 647.7 L389.3 648.6 L389.5 648.8 L389.6 648.2 L389.8 647 L389.9 645.6 L390.1 644.2 L390.2 642.8 L390.4 641.7 L390.5 640.8 L390.7 640.2 L390.9 639.9 L391 639.9 L391.2 640.2 L391.3 640.8 L391.5 641.6 L391.6 642.8 L391.8 644.1 L391.9 645.5 L392.1 646.9 L392.2 648.2 L392.4 649.1 L392.6 649.3 L392.7 648.7 L392.9 647.6 L393 646.2 L393.2 644.8 L393.3 643.5 L393.5 642.3 L393.6 641.4 L393.8 640.7 L393.9 640.4 L394.1 640.3 L394.2 640.5 L394.4 641 L394.6 641.8 L394.7 642.8 L394.9 644 L395 645.4 L395.2 646.8 L395.3 648.1 L395.5 648.9 L395.6 649.1 L395.8 648.4 L395.9 647.2 L396.1 645.7 L396.3 644.2 L396.4 642.7 L396.6 641.4 L396.7 640.3 L396.9 639.5 L397 639 L397.2 638.9 L397.3 639 L397.5 639.5 L397.6 640.3 L397.8 641.4 L397.9 642.7 L398.1 644.2 L398.3 645.8 L398.4 647.2 L398.6 648.2 L398.7 648.3 L398.9 647.6 L399 646.2 L399.2 644.5 L399.3 642.7 L399.5 641 L399.6 639.5 L399.8 638.3 L400 637.3 L400.1 636.8 L400.3 636.6 L400.4 636.8 L400.6 637.3 L400.7 638.3 L400.9 639.5 L401 641.1 L401.2 642.8 L401.3 644.6 L401.5 646.2 L401.7 647.3 L401.8 647.6 L402 646.7 L402.1 645.2 L402.3 643.3 L402.4 641.4 L402.6 639.6 L402.7 638 L402.9 636.7 L403 635.8 L403.2 635.2 L403.3 635.1 L403.5 635.4 L403.7 636.1 L403.8 637.2 L404 638.6 L404.1 640.3 L404.3 642.2 L404.4 644.1 L404.6 645.9 L404.7 647.1 L404.9 647.3 L405 646.5 L405.2 645 L405.4 643.1 L405.5 641.2 L405.7 639.5 L405.8 637.9 L406 636.7 L406.1 635.9 L406.3 635.4 L406.4 635.4 L406.6 635.7 L406.7 636.5 L406.9 637.6 L407 639.1 L407.2 640.8 L407.4 642.6 L407.5 644.5 L407.7 646.2 L407.8 647.4 L408 647.7 L408.1 647 L408.3 645.5 L408.4 643.8 L408.6 642.1 L408.7 640.4 L408.9 639 L409.1 637.9 L409.2 637.2 L409.4 636.7 L409.5 636.7 L409.7 637.1 L409.8 637.8 L410 638.8 L410.1 640.2 L410.3 641.8 L410.4 643.5 L410.6 645.3 L410.7 646.8 L410.9 647.9 L411.1 648.2 L411.2 647.5 L411.4 646.2 L411.5 644.5 L411.7 642.9 L411.8 641.3 L412 640 L412.1 638.9 L412.3 638.2 L412.4 637.7 L412.6 637.7 L412.8 638 L412.9 638.6 L413.1 639.5 L413.2 640.8 L413.4 642.3 L413.5 643.9 L413.7 645.5 L413.8 647 L414 648.1 L414.1 648.3 L414.3 647.6 L414.5 646.3 L414.6 644.6 L414.8 642.9 L414.9 641.3 L415.1 639.9 L415.2 638.7 L415.4 637.9 L415.5 637.4 L415.7 637.2 L415.8 637.4 L416 638 L416.1 638.9 L416.3 640.1 L416.5 641.6 L416.6 643.3 L416.8 645 L416.9 646.5 L417.1 647.6 L417.2 647.8 L417.4 647.1 L417.5 645.6 L417.7 643.7 L417.8 641.8 L418 640 L418.2 638.4 L418.3 637.1 L418.5 636.1 L418.6 635.5 L418.8 635.2 L418.9 635.4 L419.1 636 L419.2 637 L419.4 638.4 L419.5 640 L419.7 641.8 L419.8 643.7 L420 645.5 L420.2 646.7 L420.3 647 L420.5 646.1 L420.6 644.4 L420.8 642.3 L420.9 640.2 L421.1 638.2 L421.2 636.4 L421.4 634.9 L421.5 633.8 L421.7 633.1 L421.9 632.9 L422 633.1 L422.2 633.8 L422.3 634.9 L422.5 636.5 L422.6 638.3 L422.8 640.4 L422.9 642.6 L423.1 644.5 L423.2 645.9 L423.4 646.2 L423.5 645.3 L423.7 643.5 L423.9 641.2 L424 639 L424.2 636.8 L424.3 634.9 L424.5 633.4 L424.6 632.3 L424.8 631.6 L424.9 631.4 L425.1 631.8 L425.2 632.6 L425.4 633.9 L425.6 635.6 L425.7 637.6 L425.9 639.8 L426 642.1 L426.2 644.2 L426.3 645.6 L426.5 646 L426.6 645.1 L426.8 643.3 L426.9 641.1 L427.1 638.8 L427.2 636.7 L427.4 634.9 L427.6 633.4 L427.7 632.4 L427.9 631.8 L428 631.7 L428.2 632.2 L428.3 633 L428.5 634.4 L428.6 636.1 L428.8 638.1 L428.9 640.3 L429.1 642.5 L429.3 644.6 L429.4 646 L429.6 646.4 L429.7 645.5 L429.9 643.8 L430 641.8 L430.2 639.7 L430.3 637.7 L430.5 636 L430.6 634.6 L430.8 633.7 L431 633.2 L431.1 633.1 L431.3 633.5 L431.4 634.3 L431.6 635.6 L431.7 637.2 L431.9 639.1 L432 641.1 L432.2 643.2 L432.3 645.2 L432.5 646.5 L432.6 646.8 L432.8 646 L433 644.4 L433.1 642.5 L433.3 640.4 L433.4 638.5 L433.6 636.8 L433.7 635.5 L433.9 634.5 L434 634 L434.2 633.9 L434.3 634.2 L434.5 634.9 L434.7 636 L434.8 637.5 L435 639.3 L435.1 641.3 L435.3 643.3 L435.4 645.2 L435.6 646.5 L435.7 646.8 L435.9 646 L436 644.3 L436.2 642.3 L436.3 640.1 L436.5 638.1 L436.7 636.3 L436.8 634.8 L437 633.7 L437.1 633.1 L437.3 632.8 L437.4 633.1 L437.6 633.8 L437.7 634.9 L437.9 636.4 L438 638.2 L438.2 640.3 L438.4 642.5 L438.5 644.4 L438.7 645.8 L438.8 646.1 L439 645.2 L439.1 643.3 L439.3 641.1 L439.4 638.7 L439.6 636.4 L439.7 634.4 L439.9 632.7 L440 631.5 L440.2 630.7 L440.4 630.4 L440.5 630.7 L440.7 631.4 L440.8 632.7 L441 634.3 L441.1 636.4 L441.3 638.7 L441.4 641.1 L441.6 643.3 L441.7 644.8 L441.9 645.2 L442.1 644.2 L442.2 642.1 L442.4 639.6 L442.5 637 L442.7 634.6 L442.8 632.4 L443 630.6 L443.1 629.3 L443.3 628.5 L443.4 628.2 L443.6 628.6 L443.8 629.4 L443.9 630.8 L444.1 632.7 L444.2 635 L444.4 637.5 L444.5 640.1 L444.7 642.5 L444.8 644.2 L445 644.6 L445.1 643.6 L445.3 641.5 L445.4 638.9 L445.6 636.3 L445.8 633.8 L445.9 631.6 L446.1 629.8 L446.2 628.5 L446.4 627.8 L446.5 627.6 L446.7 628.1 L446.8 629 L447 630.6 L447.1 632.5 L447.3 634.9 L447.5 637.5 L447.6 640.1 L447.8 642.6 L447.9 644.3 L448.1 644.7 L448.2 643.8 L448.4 641.7 L448.5 639.3 L448.7 636.7 L448.8 634.3 L449 632.2 L449.1 630.6 L449.3 629.4 L449.5 628.8 L449.6 628.7 L449.8 629.2 L449.9 630.2 L450.1 631.7 L450.2 633.6 L450.4 635.9 L450.5 638.4 L450.7 640.9 L450.8 643.2 L451 644.9 L451.2 645.3 L451.3 644.4 L451.5 642.5 L451.6 640.2 L451.8 637.8 L451.9 635.6 L452.1 633.6 L452.2 632.1 L452.4 631 L452.5 630.3 L452.7 630.2 L452.8 630.6 L453 631.6 L453.2 632.9 L453.3 634.7 L453.5 636.8 L453.6 639.1 L453.8 641.5 L453.9 643.7 L454.1 645.3 L454.2 645.7 L454.4 644.8 L454.5 642.9 L454.7 640.7 L454.9 638.3 L455 636 L455.2 634.1 L455.3 632.5 L455.5 631.3 L455.6 630.6 L455.8 630.4 L455.9 630.7 L456.1 631.5 L456.2 632.8 L456.4 634.5 L456.6 636.6 L456.7 638.9 L456.9 641.3 L457 643.4 L457.2 645 L457.3 645.4 L457.5 644.4 L457.6 642.5 L457.8 640.1 L457.9 637.5 L458.1 635.1 L458.2 633 L458.4 631.2 L458.6 629.9 L458.7 629.1 L458.9 628.8 L459 629 L459.2 629.9 L459.3 631.2 L459.5 633 L459.6 635.1 L459.8 637.6 L459.9 640.1 L460.1 642.5 L460.3 644.2 L460.4 644.6 L460.6 643.6 L460.7 641.4 L460.9 638.8 L461 636 L461.2 633.4 L461.3 631.1 L461.5 629.1 L461.6 627.7 L461.8 626.8 L461.9 626.6 L462.1 626.9 L462.3 627.8 L462.4 629.2 L462.6 631.2 L462.7 633.6 L462.9 636.3 L463 639 L463.2 641.6 L463.3 643.4 L463.5 643.9 L463.6 642.8 L463.8 640.6 L464 637.8 L464.1 634.9 L464.3 632.2 L464.4 629.8 L464.6 627.9 L464.7 626.4 L464.9 625.6 L465 625.4 L465.2 625.8 L465.3 626.8 L465.5 628.4 L465.6 630.5 L465.8 633 L466 635.8 L466.1 638.7 L466.3 641.4 L466.4 643.3 L466.6 643.8 L466.7 642.8 L466.9 640.6 L467 637.8 L467.2 635 L467.3 632.3 L467.5 630 L467.7 628.1 L467.8 626.8 L468 626 L468.1 625.9 L468.3 626.4 L468.4 627.4 L468.6 629 L468.7 631.1 L468.9 633.6 L469 636.4 L469.2 639.2 L469.4 641.8 L469.5 643.7 L469.7 644.2 L469.8 643.2 L470 641.1 L470.1 638.6 L470.3 635.9 L470.4 633.4 L470.6 631.2 L470.7 629.4 L470.9 628.2 L471 627.5 L471.2 627.4 L471.4 627.9 L471.5 628.9 L471.7 630.4 L471.8 632.4 L472 634.8 L472.1 637.4 L472.3 640.1 L472.4 642.5 L472.6 644.3 L472.7 644.8 L472.9 643.9 L473.1 641.9 L473.2 639.5 L473.4 636.9 L473.5 634.5 L473.7 632.4 L473.8 630.8 L474 629.6 L474.1 628.9 L474.3 628.7 L474.4 629.1 L474.6 630 L474.7 631.5 L474.9 633.3 L475.1 635.6 L475.2 638 L475.4 640.6 L475.5 642.9 L475.7 644.6 L475.8 645.1 L476 644.2 L476.1 642.2 L476.3 639.8 L476.4 637.2 L476.6 634.8 L476.8 632.7 L476.9 631 L477.1 629.7 L477.2 628.9 L477.4 628.7 L477.5 629 L477.7 629.9 L477.8 631.2 L478 633 L478.1 635.2 L478.3 637.7 L478.4 640.2 L478.6 642.6 L478.8 644.3 L478.9 644.8 L479.1 643.8 L479.2 641.8 L479.4 639.2 L479.5 636.5 L479.7 633.9 L479.8 631.7 L480 629.8 L480.1 628.4 L480.3 627.5 L480.5 627.2 L480.6 627.5 L480.8 628.3 L480.9 629.7 L481.1 631.6 L481.2 633.9 L481.4 636.5 L481.5 639.2 L481.7 641.7 L481.8 643.6 L482 644.1 L482.1 643 L482.3 640.8 L482.5 638 L482.6 635.1 L482.8 632.4 L482.9 629.9 L483.1 627.9 L483.2 626.4 L483.4 625.5 L483.5 625.1 L483.7 625.5 L483.8 626.4 L484 627.9 L484.2 630 L484.3 632.5 L484.5 635.3 L484.6 638.2 L484.8 640.9 L484.9 642.8 L485.1 643.4 L485.2 642.3 L485.4 640 L485.5 637.1 L485.7 634.1 L485.9 631.2 L486 628.7 L486.2 626.6 L486.3 625.1 L486.5 624.2 L486.6 623.9 L486.8 624.3 L486.9 625.3 L487.1 627 L487.2 629.2 L487.4 631.8 L487.5 634.7 L487.7 637.8 L487.9 640.6 L488 642.6 L488.2 643.2 L488.3 642.2 L488.5 639.9 L488.6 637 L488.8 634 L488.9 631.2 L489.1 628.7 L489.2 626.7 L489.4 625.3 L489.6 624.5 L489.7 624.3 L489.9 624.8 L490 625.9 L490.2 627.6 L490.3 629.8 L490.5 632.4 L490.6 635.3 L490.8 638.3 L490.9 641 L491.1 643 L491.2 643.7 L491.4 642.7 L491.6 640.5 L491.7 637.8 L491.9 635 L492 632.3 L492.2 630 L492.3 628.1 L492.5 626.8 L492.6 626.1 L492.8 625.9 L492.9 626.4 L493.1 627.5 L493.3 629.1 L493.4 631.1 L493.6 633.6 L493.7 636.4 L493.9 639.2 L494 641.8 L494.2 643.7 L494.3 644.3 L494.5 643.3 L494.6 641.3 L494.8 638.7 L494.9 636 L495.1 633.4 L495.3 631.2 L495.4 629.4 L495.6 628.1 L495.7 627.3 L495.9 627.1 L496 627.5 L496.2 628.4 L496.3 629.9 L496.5 631.9 L496.6 634.2 L496.8 636.8 L497 639.5 L497.1 642 L497.3 643.8 L497.4 644.4 L497.6 643.5 L497.7 641.4 L497.9 638.8 L498 636 L498.2 633.4 L498.3 631.1 L498.5 629.1 L498.7 627.7 L498.8 626.8 L499 626.5 L499.1 626.8 L499.3 627.7 L499.4 629.2 L499.6 631.1 L499.7 633.4 L499.9 636.1 L500 638.9 L500.2 641.4 L500.3 643.3 L500.5 643.9 L500.7 642.9 L500.8 640.6 L501 637.8 L501.1 634.8 L501.3 632 L501.4 629.5 L501.6 627.4 L501.7 625.8 L501.9 624.8 L502 624.4 L502.2 624.7 L502.4 625.6 L502.5 627.1 L502.7 629.2 L502.8 631.7 L503 634.6 L503.1 637.6 L503.3 640.3 L503.4 642.4 L503.6 643 L503.7 641.9 L503.9 639.5 L504 636.5 L504.2 633.3 L504.4 630.2 L504.5 627.5 L504.7 625.3 L504.8 623.7 L505 622.6 L505.1 622.3 L505.3 622.6 L505.4 623.7 L505.6 625.3 L505.7 627.6 L505.9 630.3 L506.1 633.4 L506.2 636.6 L506.4 639.6 L506.5 641.7 L506.7 642.4 L506.8 641.3 L507 638.9 L507.1 635.8 L507.3 632.5 L507.4 629.4 L507.6 626.7 L507.7 624.5 L507.9 622.9 L508.1 621.9 L508.2 621.7 L508.4 622.1 L508.5 623.2 L508.7 625 L508.8 627.4 L509 630.2 L509.1 633.3 L509.3 636.6 L509.4 639.6 L509.6 641.8 L509.8 642.6 L509.9 641.5 L510.1 639.1 L510.2 636.1 L510.4 633 L510.5 630 L510.7 627.4 L510.8 625.3 L511 623.8 L511.1 622.9 L511.3 622.7 L511.5 623.2 L511.6 624.4 L511.8 626.1 L511.9 628.4 L512.1 631.2 L512.2 634.2 L512.4 637.4 L512.5 640.3 L512.7 642.4 L512.8 643.1 L513 642.1 L513.1 639.9 L513.3 637 L513.5 634 L513.6 631.2 L513.8 628.7 L513.9 626.7 L514.1 625.3 L514.2 624.4 L514.4 624.2 L514.5 624.7 L514.7 625.7 L514.8 627.4 L515 629.5 L515.2 632.1 L515.3 635 L515.5 638 L515.6 640.8 L515.8 642.8 L515.9 643.5 L516.1 642.5 L516.2 640.3 L516.4 637.5 L516.5 634.5 L516.7 631.7 L516.8 629.2 L517 627.2 L517.2 625.7 L517.3 624.7 L517.5 624.4 L517.6 624.8 L517.8 625.8 L517.9 627.3 L518.1 629.4 L518.2 631.9 L518.4 634.8 L518.5 637.8 L518.7 640.5 L518.9 642.6 L519 643.2 L519.2 642.2 L519.3 639.9 L519.5 636.9 L519.6 633.8 L519.8 630.8 L519.9 628.2 L520.1 626 L520.2 624.3 L520.4 623.3 L520.5 622.9 L520.7 623.2 L520.9 624.1 L521 625.7 L521.2 627.9 L521.3 630.5 L521.5 633.5 L521.6 636.6 L521.8 639.5 L521.9 641.7 L522.1 642.4 L522.2 641.3 L522.4 638.8 L522.6 635.7 L522.7 632.3 L522.9 629.1 L523 626.2 L523.2 623.8 L523.3 622 L523.5 620.9 L523.6 620.5 L523.8 620.8 L523.9 621.8 L524.1 623.6 L524.2 625.9 L524.4 628.8 L524.6 632 L524.7 635.4 L524.9 638.5 L525 640.9 L525.2 641.6 L525.3 640.5 L525.5 637.9 L525.6 634.5 L525.8 631 L525.9 627.7 L526.1 624.7 L526.3 622.3 L526.4 620.4 L526.6 619.3 L526.7 619 L526.9 619.4 L527 620.6 L527.2 622.4 L527.3 624.9 L527.5 627.9 L527.6 631.3 L527.8 634.9 L528 638.1 L528.1 640.6 L528.3 641.4 L528.4 640.3 L528.6 637.7 L528.7 634.4 L528.9 630.9 L529 627.6 L529.2 624.7 L529.3 622.4 L529.5 620.7 L529.6 619.7 L529.8 619.4 L530 619.9 L530.1 621.1 L530.3 623 L530.4 625.5 L530.6 628.6 L530.7 631.9 L530.9 635.4 L531 638.6 L531.2 641 L531.3 641.9 L531.5 640.8 L531.7 638.4 L531.8 635.2 L532 631.9 L532.1 628.7 L532.3 626 L532.4 623.8 L532.6 622.2 L532.7 621.2 L532.9 621 L533 621.5 L533.2 622.6 L533.3 624.5 L533.5 626.9 L533.7 629.7 L533.8 632.9 L534 636.2 L534.1 639.3 L534.3 641.6 L534.4 642.4 L534.6 641.4 L534.7 639 L534.9 636 L535 632.7 L535.2 629.7 L535.4 627 L535.5 624.8 L535.7 623.1 L535.8 622.2 L536 621.9 L536.1 622.2 L536.3 623.3 L536.4 625 L536.6 627.3 L536.7 630 L536.9 633.1 L537 636.4 L537.2 639.4 L537.4 641.6 L537.5 642.4 L537.7 641.3 L537.8 638.9 L538 635.8 L538.1 632.4 L538.3 629.3 L538.4 626.4 L538.6 624.1 L538.7 622.3 L538.9 621.2 L539.1 620.8 L539.2 621.1 L539.4 622.1 L539.5 623.7 L539.7 626 L539.8 628.9 L540 632 L540.1 635.4 L540.3 638.5 L540.4 640.9 L540.6 641.7 L540.8 640.5 L540.9 637.9 L541.1 634.6 L541.2 631 L541.4 627.6 L541.5 624.5 L541.7 622 L541.8 620.1 L542 618.8 L542.1 618.4 L542.3 618.7 L542.4 619.8 L542.6 621.6 L542.8 624 L542.9 627 L543.1 630.5 L543.2 634 L543.4 637.4 L543.5 639.9 L543.7 640.8 L543.8 639.7 L544 636.9 L544.1 633.4 L544.3 629.6 L544.5 626 L544.6 622.8 L544.8 620.2 L544.9 618.2 L545.1 617 L545.2 616.6 L545.4 617 L545.5 618.2 L545.7 620.2 L545.8 622.8 L546 626 L546.1 629.6 L546.3 633.4 L546.5 636.9 L546.6 639.5 L546.8 640.5 L546.9 639.4 L547.1 636.6 L547.2 633.1 L547.4 629.3 L547.5 625.8 L547.7 622.6 L547.8 620.1 L548 618.2 L548.2 617.1 L548.3 616.8 L548.5 617.3 L548.6 618.6 L548.8 620.6 L548.9 623.3 L549.1 626.5 L549.2 630.1 L549.4 633.8 L549.5 637.3 L549.7 639.9 L549.8 640.9 L550 639.8 L550.2 637.2 L550.3 633.8 L550.5 630.2 L550.6 626.9 L550.8 623.9 L550.9 621.5 L551.1 619.7 L551.2 618.7 L551.4 618.4 L551.5 618.9 L551.7 620.2 L551.9 622.1 L552 624.7 L552.2 627.8 L552.3 631.2 L552.5 634.8 L552.6 638.1 L552.8 640.6 L552.9 641.5 L553.1 640.5 L553.2 638 L553.4 634.7 L553.6 631.3 L553.7 628 L553.9 625.1 L554 622.7 L554.2 621 L554.3 619.9 L554.5 619.6 L554.6 620 L554.8 621.2 L554.9 623 L555.1 625.4 L555.2 628.4 L555.4 631.7 L555.6 635.1 L555.7 638.3 L555.9 640.7 L556 641.6 L556.2 640.6 L556.3 638.1 L556.5 634.8 L556.6 631.2 L556.8 627.9 L556.9 624.9 L557.1 622.4 L557.3 620.5 L557.4 619.4 L557.6 618.9 L557.7 619.2 L557.9 620.3 L558 622.1 L558.2 624.5 L558.3 627.4 L558.5 630.8 L558.6 634.3 L558.8 637.6 L558.9 640.1 L559.1 641 L559.3 639.9 L559.4 637.2 L559.6 633.7 L559.7 630 L559.9 626.4 L560 623.2 L560.2 620.5 L560.3 618.5 L560.5 617.2 L560.6 616.7 L560.8 617 L561 618.1 L561.1 620 L561.3 622.5 L561.4 625.7 L561.6 629.2 L561.7 633 L561.9 636.5 L562 639.2 L562.2 640.2 L562.3 639 L562.5 636.2 L562.6 632.5 L562.8 628.5 L563 624.8 L563.1 621.4 L563.3 618.6 L563.4 616.5 L563.6 615.2 L563.7 614.8 L563.9 615.2 L564 616.4 L564.2 618.4 L564.3 621.1 L564.5 624.5 L564.7 628.3 L564.8 632.2 L565 635.9 L565.1 638.7 L565.3 639.8 L565.4 638.6 L565.6 635.8 L565.7 632 L565.9 628.1 L566 624.3 L566.2 621 L566.3 618.3 L566.5 616.3 L566.7 615.1 L566.8 614.7 L567 615.2 L567.1 616.5 L567.3 618.6 L567.4 621.4 L567.6 624.8 L567.7 628.6 L567.9 632.5 L568 636.2 L568.2 639 L568.4 640.1 L568.5 639 L568.7 636.3 L568.8 632.7 L569 628.9 L569.1 625.3 L569.3 622.1 L569.4 619.6 L569.6 617.7 L569.7 616.6 L569.9 616.3 L570.1 616.8 L570.2 618.1 L570.4 620.1 L570.5 622.8 L570.7 626.1 L570.8 629.7 L571 633.5 L571.1 637 L571.3 639.7 L571.4 640.8 L571.6 639.7 L571.7 637.1 L571.9 633.7 L572.1 630.1 L572.2 626.6 L572.4 623.5 L572.5 621 L572.7 619.2 L572.8 618.1 L573 617.7 L573.1 618.2 L573.3 619.3 L573.4 621.3 L573.6 623.8 L573.8 626.9 L573.9 630.4 L574.1 634 L574.2 637.4 L574.4 640 L574.5 641 L574.7 640 L574.8 637.4 L575 633.9 L575.1 630.3 L575.3 626.8 L575.4 623.7 L575.6 621.1 L575.8 619.1 L575.9 617.9 L576.1 617.4 L576.2 617.8 L576.4 618.9 L576.5 620.7 L576.7 623.2 L576.8 626.3 L577 629.8 L577.1 633.4 L577.3 636.9 L577.5 639.5 L577.6 640.5 L577.8 639.4 L577.9 636.7 L578.1 633.1 L578.2 629.2 L578.4 625.5 L578.5 622.2 L578.7 619.4 L578.8 617.3 L579 615.9 L579.1 615.4 L579.3 615.7 L579.5 616.8 L579.6 618.7 L579.8 621.3 L579.9 624.6 L580.1 628.2 L580.2 632.1 L580.4 635.8 L580.5 638.6 L580.7 639.7 L580.8 638.5 L581 635.6 L581 674 L580.8 671.1 L580.7 670 L580.5 671.1 L580.4 673.9 L580.2 677.5 L580.1 681.4 L579.9 685.1 L579.8 688.3 L579.6 691 L579.5 692.9 L579.3 694 L579.1 694.3 L579 693.7 L578.8 692.4 L578.7 690.3 L578.5 687.5 L578.4 684.2 L578.2 680.4 L578.1 676.6 L577.9 673 L577.8 670.2 L577.6 669.1 L577.5 670.1 L577.3 672.8 L577.1 676.2 L577 679.9 L576.8 683.4 L576.7 686.4 L576.5 688.9 L576.4 690.8 L576.2 691.9 L576.1 692.2 L575.9 691.8 L575.8 690.5 L575.6 688.6 L575.4 686 L575.3 682.9 L575.1 679.4 L575 675.7 L574.8 672.3 L574.7 669.7 L574.5 668.6 L574.4 669.6 L574.2 672.2 L574.1 675.6 L573.9 679.3 L573.8 682.7 L573.6 685.8 L573.4 688.4 L573.3 690.3 L573.1 691.5 L573 691.9 L572.8 691.6 L572.7 690.5 L572.5 688.6 L572.4 686.1 L572.2 683.1 L572.1 679.6 L571.9 676 L571.7 672.5 L571.6 669.9 L571.4 668.9 L571.3 669.9 L571.1 672.6 L571 676.2 L570.8 679.9 L570.7 683.6 L570.5 686.8 L570.4 689.5 L570.2 691.6 L570.1 692.9 L569.9 693.4 L569.7 693.1 L569.6 692 L569.4 690.1 L569.3 687.5 L569.1 684.3 L569 680.7 L568.8 677 L568.7 673.4 L568.5 670.6 L568.4 669.6 L568.2 670.6 L568 673.4 L567.9 677.1 L567.7 681.1 L567.6 684.9 L567.4 688.2 L567.3 691.1 L567.1 693.2 L567 694.5 L566.8 695 L566.7 694.6 L566.5 693.4 L566.3 691.4 L566.2 688.7 L566 685.3 L565.9 681.6 L565.7 677.6 L565.6 673.9 L565.4 671 L565.3 669.9 L565.1 670.9 L565 673.8 L564.8 677.5 L564.7 681.4 L564.5 685.2 L564.3 688.5 L564.2 691.2 L564 693.3 L563.9 694.5 L563.7 694.9 L563.6 694.4 L563.4 693.1 L563.3 691 L563.1 688.2 L563 684.9 L562.8 681.1 L562.6 677.2 L562.5 673.5 L562.3 670.6 L562.2 669.5 L562 670.5 L561.9 673.1 L561.7 676.7 L561.6 680.4 L561.4 684 L561.3 687.1 L561.1 689.7 L561 691.5 L560.8 692.6 L560.6 693 L560.5 692.5 L560.3 691.2 L560.2 689.1 L560 686.5 L559.9 683.3 L559.7 679.7 L559.6 675.9 L559.4 672.4 L559.3 669.7 L559.1 668.6 L558.9 669.5 L558.8 672 L558.6 675.3 L558.5 678.9 L558.3 682.2 L558.2 685.2 L558 687.6 L557.9 689.3 L557.7 690.4 L557.6 690.7 L557.4 690.3 L557.3 689.1 L557.1 687.2 L556.9 684.8 L556.8 681.8 L556.6 678.4 L556.5 674.9 L556.3 671.6 L556.2 669.1 L556 668 L555.9 668.9 L555.7 671.3 L555.6 674.6 L555.4 678 L555.2 681.3 L555.1 684.2 L554.9 686.7 L554.8 688.5 L554.6 689.6 L554.5 690 L554.3 689.7 L554.2 688.7 L554 686.9 L553.9 684.5 L553.7 681.7 L553.6 678.4 L553.4 674.9 L553.2 671.7 L553.1 669.2 L552.9 668.1 L552.8 669.1 L552.6 671.6 L552.5 674.9 L552.3 678.4 L552.2 681.9 L552 685 L551.9 687.5 L551.7 689.5 L551.5 690.7 L551.4 691.2 L551.2 691 L551.1 689.9 L550.9 688.2 L550.8 685.8 L550.6 682.8 L550.5 679.4 L550.3 675.8 L550.2 672.5 L550 669.8 L549.8 668.8 L549.7 669.7 L549.5 672.3 L549.4 675.8 L549.2 679.6 L549.1 683.2 L548.9 686.4 L548.8 689.1 L548.6 691.1 L548.5 692.4 L548.3 692.9 L548.2 692.5 L548 691.4 L547.8 689.6 L547.7 687 L547.5 683.9 L547.4 680.3 L547.2 676.6 L547.1 673 L546.9 670.3 L546.8 669.2 L546.6 670.1 L546.5 672.8 L546.3 676.3 L546.1 680 L546 683.6 L545.8 686.8 L545.7 689.5 L545.5 691.4 L545.4 692.6 L545.2 693 L545.1 692.6 L544.9 691.4 L544.8 689.5 L544.6 686.8 L544.5 683.6 L544.3 680 L544.1 676.3 L544 672.7 L543.8 670 L543.7 668.8 L543.5 669.7 L543.4 672.2 L543.2 675.6 L543.1 679.2 L542.9 682.6 L542.8 685.6 L542.6 688.1 L542.4 689.9 L542.3 691 L542.1 691.3 L542 690.8 L541.8 689.6 L541.7 687.7 L541.5 685.1 L541.4 682.1 L541.2 678.6 L541.1 675.1 L540.9 671.7 L540.8 669.1 L540.6 668 L540.4 668.8 L540.3 671.1 L540.1 674.3 L540 677.6 L539.8 680.8 L539.7 683.6 L539.5 685.9 L539.4 687.6 L539.2 688.6 L539.1 688.9 L538.9 688.5 L538.7 687.4 L538.6 685.6 L538.4 683.2 L538.3 680.4 L538.1 677.2 L538 673.9 L537.8 670.7 L537.7 668.3 L537.5 667.3 L537.4 668 L537.2 670.3 L537 673.3 L536.9 676.5 L536.7 679.6 L536.6 682.4 L536.4 684.6 L536.3 686.3 L536.1 687.4 L536 687.8 L535.8 687.5 L535.7 686.5 L535.5 684.9 L535.4 682.7 L535.2 680 L535 676.9 L534.9 673.7 L534.7 670.6 L534.6 668.2 L534.4 667.2 L534.3 668 L534.1 670.3 L534 673.4 L533.8 676.7 L533.7 679.9 L533.5 682.8 L533.3 685.2 L533.2 687 L533 688.2 L532.9 688.7 L532.7 688.4 L532.6 687.5 L532.4 685.9 L532.3 683.7 L532.1 680.9 L532 677.8 L531.8 674.5 L531.7 671.3 L531.5 668.8 L531.3 667.8 L531.2 668.6 L531 671 L530.9 674.3 L530.7 677.7 L530.6 681.1 L530.4 684.1 L530.3 686.6 L530.1 688.5 L530 689.8 L529.8 690.3 L529.6 690 L529.5 689 L529.3 687.3 L529.2 684.9 L529 682 L528.9 678.7 L528.7 675.3 L528.6 671.9 L528.4 669.3 L528.3 668.2 L528.1 669.1 L528 671.5 L527.8 674.8 L527.6 678.3 L527.5 681.7 L527.3 684.7 L527.2 687.2 L527 689.1 L526.9 690.2 L526.7 690.7 L526.6 690.3 L526.4 689.2 L526.3 687.4 L526.1 685 L525.9 682 L525.8 678.6 L525.6 675.1 L525.5 671.8 L525.3 669.2 L525.2 668 L525 668.8 L524.9 671.1 L524.7 674.3 L524.6 677.7 L524.4 680.9 L524.2 683.8 L524.1 686.1 L523.9 687.8 L523.8 688.8 L523.6 689.2 L523.5 688.7 L523.3 687.6 L523.2 685.8 L523 683.5 L522.9 680.6 L522.7 677.4 L522.6 674 L522.4 670.8 L522.2 668.3 L522.1 667.2 L521.9 667.9 L521.8 670.1 L521.6 673 L521.5 676.2 L521.3 679.2 L521.2 681.8 L521 684 L520.9 685.5 L520.7 686.5 L520.5 686.8 L520.4 686.4 L520.2 685.3 L520.1 683.7 L519.9 681.5 L519.8 678.8 L519.6 675.8 L519.5 672.7 L519.3 669.8 L519.2 667.4 L519 666.4 L518.9 667.1 L518.7 669.1 L518.5 671.9 L518.4 674.9 L518.2 677.7 L518.1 680.2 L517.9 682.3 L517.8 683.9 L517.6 684.9 L517.5 685.2 L517.3 684.9 L517.2 684 L517 682.5 L516.8 680.4 L516.7 677.9 L516.5 675.1 L516.4 672.2 L516.2 669.3 L516.1 667.1 L515.9 666.2 L515.8 666.8 L515.6 668.9 L515.5 671.6 L515.3 674.6 L515.2 677.5 L515 680.1 L514.8 682.3 L514.7 683.9 L514.5 685 L514.4 685.4 L514.2 685.2 L514.1 684.4 L513.9 682.9 L513.8 680.9 L513.6 678.5 L513.5 675.6 L513.3 672.6 L513.1 669.8 L513 667.5 L512.8 666.5 L512.7 667.3 L512.5 669.4 L512.4 672.3 L512.2 675.4 L512.1 678.5 L511.9 681.2 L511.8 683.5 L511.6 685.3 L511.5 686.4 L511.3 686.9 L511.1 686.7 L511 685.9 L510.8 684.3 L510.7 682.2 L510.5 679.6 L510.4 676.7 L510.2 673.5 L510.1 670.5 L509.9 668.1 L509.8 667.1 L509.6 667.8 L509.4 670 L509.3 673.1 L509.1 676.3 L509 679.5 L508.8 682.3 L508.7 684.6 L508.5 686.4 L508.4 687.5 L508.2 688 L508.1 687.7 L507.9 686.8 L507.7 685.1 L507.6 682.9 L507.4 680.2 L507.3 677.1 L507.1 673.9 L507 670.8 L506.8 668.3 L506.7 667.2 L506.5 667.9 L506.4 670.1 L506.2 673.1 L506.1 676.3 L505.9 679.3 L505.7 682.1 L505.6 684.3 L505.4 686 L505.3 687 L505.1 687.4 L505 687 L504.8 686 L504.7 684.3 L504.5 682.1 L504.4 679.4 L504.2 676.4 L504 673.2 L503.9 670.1 L503.7 667.7 L503.6 666.7 L503.4 667.3 L503.3 669.3 L503.1 672.1 L503 675.1 L502.8 677.9 L502.7 680.5 L502.5 682.5 L502.4 684 L502.2 685 L502 685.2 L501.9 684.9 L501.7 683.9 L501.6 682.3 L501.4 680.2 L501.3 677.7 L501.1 674.8 L501 671.8 L500.8 669 L500.7 666.8 L500.5 665.8 L500.3 666.3 L500.2 668.2 L500 670.8 L499.9 673.5 L499.7 676.2 L499.6 678.6 L499.4 680.5 L499.3 681.9 L499.1 682.8 L499 683.1 L498.8 682.8 L498.7 681.9 L498.5 680.5 L498.3 678.6 L498.2 676.3 L498 673.6 L497.9 670.9 L497.7 668.3 L497.6 666.2 L497.4 665.2 L497.3 665.8 L497.1 667.6 L497 670.1 L496.8 672.8 L496.6 675.4 L496.5 677.8 L496.3 679.7 L496.2 681.2 L496 682.2 L495.9 682.6 L495.7 682.4 L495.6 681.6 L495.4 680.3 L495.3 678.5 L495.1 676.2 L494.9 673.7 L494.8 671 L494.6 668.4 L494.5 666.3 L494.3 665.4 L494.2 666 L494 667.9 L493.9 670.5 L493.7 673.3 L493.6 676 L493.4 678.5 L493.3 680.6 L493.1 682.2 L492.9 683.3 L492.8 683.7 L492.6 683.6 L492.5 682.8 L492.3 681.5 L492.2 679.6 L492 677.3 L491.9 674.7 L491.7 671.8 L491.6 669.1 L491.4 667 L491.2 666 L491.1 666.6 L490.9 668.6 L490.8 671.4 L490.6 674.3 L490.5 677.2 L490.3 679.9 L490.2 682.1 L490 683.8 L489.9 684.9 L489.7 685.3 L489.6 685.2 L489.4 684.3 L489.2 682.9 L489.1 680.9 L488.9 678.5 L488.8 675.6 L488.6 672.6 L488.5 669.8 L488.3 667.5 L488.2 666.4 L488 667 L487.9 669.1 L487.7 671.9 L487.5 674.9 L487.4 677.8 L487.2 680.5 L487.1 682.7 L486.9 684.3 L486.8 685.3 L486.6 685.7 L486.5 685.5 L486.3 684.6 L486.2 683.1 L486 681 L485.9 678.4 L485.7 675.6 L485.5 672.5 L485.4 669.6 L485.2 667.3 L485.1 666.2 L484.9 666.8 L484.8 668.8 L484.6 671.5 L484.5 674.4 L484.3 677.2 L484.2 679.7 L484 681.7 L483.8 683.3 L483.7 684.2 L483.5 684.5 L483.4 684.2 L483.2 683.3 L483.1 681.8 L482.9 679.7 L482.8 677.3 L482.6 674.5 L482.5 671.6 L482.3 668.8 L482.1 666.6 L482 665.6 L481.8 666.1 L481.7 667.9 L481.5 670.4 L481.4 673.1 L481.2 675.7 L481.1 678 L480.9 679.9 L480.8 681.3 L480.6 682.2 L480.5 682.4 L480.3 682.1 L480.1 681.3 L480 679.9 L479.8 678 L479.7 675.7 L479.5 673.1 L479.4 670.5 L479.2 667.9 L479.1 665.8 L478.9 664.9 L478.8 665.3 L478.6 667 L478.4 669.4 L478.3 672 L478.1 674.4 L478 676.6 L477.8 678.4 L477.7 679.8 L477.5 680.7 L477.4 681 L477.2 680.7 L477.1 680 L476.9 678.7 L476.8 677 L476.6 674.8 L476.4 672.4 L476.3 669.9 L476.1 667.4 L476 665.5 L475.8 664.6 L475.7 665.1 L475.5 666.7 L475.4 669.1 L475.2 671.6 L475.1 674.1 L474.9 676.3 L474.7 678.2 L474.6 679.6 L474.4 680.5 L474.3 680.9 L474.1 680.8 L474 680.1 L473.8 678.9 L473.7 677.2 L473.5 675.1 L473.4 672.7 L473.2 670.2 L473.1 667.7 L472.9 665.8 L472.7 664.8 L472.6 665.4 L472.4 667.1 L472.3 669.6 L472.1 672.2 L472 674.8 L471.8 677.2 L471.7 679.2 L471.5 680.8 L471.4 681.8 L471.2 682.2 L471 682.1 L470.9 681.5 L470.7 680.2 L470.6 678.5 L470.4 676.3 L470.3 673.8 L470.1 671.1 L470 668.5 L469.8 666.4 L469.7 665.4 L469.5 666 L469.4 667.8 L469.2 670.4 L469 673.3 L468.9 676 L468.7 678.5 L468.6 680.6 L468.4 682.2 L468.3 683.3 L468.1 683.8 L468 683.6 L467.8 682.9 L467.7 681.5 L467.5 679.7 L467.3 677.3 L467.2 674.7 L467 671.8 L466.9 669.1 L466.7 666.9 L466.6 665.8 L466.4 666.4 L466.3 668.3 L466.1 670.9 L466 673.8 L465.8 676.6 L465.6 679.1 L465.5 681.2 L465.3 682.8 L465.2 683.9 L465 684.3 L464.9 684 L464.7 683.2 L464.6 681.8 L464.4 679.8 L464.3 677.4 L464.1 674.7 L464 671.8 L463.8 669 L463.6 666.8 L463.5 665.7 L463.3 666.2 L463.2 668.1 L463 670.6 L462.9 673.4 L462.7 676.1 L462.6 678.4 L462.4 680.4 L462.3 681.9 L462.1 682.8 L461.9 683.1 L461.8 682.8 L461.6 681.9 L461.5 680.5 L461.3 678.6 L461.2 676.2 L461 673.6 L460.9 670.9 L460.7 668.2 L460.6 666.1 L460.4 665 L460.3 665.5 L460.1 667.2 L459.9 669.5 L459.8 672 L459.6 674.5 L459.5 676.7 L459.3 678.5 L459.2 679.8 L459 680.6 L458.9 680.9 L458.7 680.6 L458.6 679.8 L458.4 678.5 L458.2 676.7 L458.1 674.5 L457.9 672.1 L457.8 669.6 L457.6 667.2 L457.5 665.2 L457.3 664.3 L457.2 664.7 L457 666.2 L456.9 668.4 L456.7 670.8 L456.6 673.1 L456.4 675.1 L456.2 676.8 L456.1 678.1 L455.9 678.9 L455.8 679.3 L455.6 679.1 L455.5 678.4 L455.3 677.2 L455.2 675.6 L455 673.6 L454.9 671.4 L454.7 669 L454.5 666.7 L454.4 664.9 L454.2 664 L454.1 664.4 L453.9 665.9 L453.8 668.1 L453.6 670.5 L453.5 672.8 L453.3 674.9 L453.2 676.7 L453 678.1 L452.8 679 L452.7 679.4 L452.5 679.3 L452.4 678.7 L452.2 677.6 L452.1 676 L451.9 674.1 L451.8 671.8 L451.6 669.4 L451.5 667.1 L451.3 665.2 L451.2 664.3 L451 664.8 L450.8 666.4 L450.7 668.7 L450.5 671.3 L450.4 673.8 L450.2 676 L450.1 678 L449.9 679.5 L449.8 680.5 L449.6 680.9 L449.5 680.9 L449.3 680.2 L449.1 679.1 L449 677.4 L448.8 675.3 L448.7 672.9 L448.5 670.4 L448.4 667.9 L448.2 665.9 L448.1 664.9 L447.9 665.4 L447.8 667.1 L447.6 669.5 L447.5 672.2 L447.3 674.8 L447.1 677.1 L447 679.1 L446.8 680.6 L446.7 681.6 L446.5 682 L446.4 681.9 L446.2 681.1 L446.1 679.9 L445.9 678.1 L445.8 675.9 L445.6 673.4 L445.4 670.7 L445.3 668.1 L445.1 666.1 L445 665 L444.8 665.5 L444.7 667.1 L444.5 669.5 L444.4 672.1 L444.2 674.7 L444.1 676.9 L443.9 678.8 L443.8 680.2 L443.6 681.1 L443.4 681.4 L443.3 681.2 L443.1 680.4 L443 679.1 L442.8 677.3 L442.7 675.1 L442.5 672.6 L442.4 670 L442.2 667.5 L442.1 665.5 L441.9 664.5 L441.7 664.8 L441.6 666.4 L441.4 668.6 L441.3 671 L441.1 673.3 L441 675.3 L440.8 677 L440.7 678.2 L440.5 679 L440.4 679.2 L440.2 678.9 L440 678.2 L439.9 676.9 L439.7 675.2 L439.6 673.2 L439.4 671 L439.3 668.6 L439.1 666.3 L439 664.5 L438.8 663.5 L438.7 663.8 L438.5 665.2 L438.4 667.2 L438.2 669.3 L438 671.4 L437.9 673.2 L437.7 674.8 L437.6 675.9 L437.4 676.6 L437.3 676.8 L437.1 676.6 L437 675.9 L436.8 674.8 L436.7 673.3 L436.5 671.6 L436.3 669.5 L436.2 667.4 L436 665.3 L435.9 663.7 L435.7 662.8 L435.6 663.2 L435.4 664.5 L435.3 666.3 L435.1 668.3 L435 670.3 L434.8 672.1 L434.7 673.6 L434.5 674.7 L434.3 675.5 L434.2 675.8 L434 675.7 L433.9 675.1 L433.7 674.1 L433.6 672.8 L433.4 671.1 L433.3 669.2 L433.1 667.2 L433 665.2 L432.8 663.6 L432.6 662.8 L432.5 663.2 L432.3 664.5 L432.2 666.4 L432 668.5 L431.9 670.6 L431.7 672.5 L431.6 674.1 L431.4 675.3 L431.3 676.1 L431.1 676.5 L431 676.5 L430.8 676 L430.6 675 L430.5 673.7 L430.3 672 L430.2 670 L430 667.9 L429.9 665.8 L429.7 664.1 L429.6 663.3 L429.4 663.7 L429.3 665.1 L429.1 667.1 L428.9 669.4 L428.8 671.6 L428.6 673.6 L428.5 675.3 L428.3 676.6 L428.2 677.5 L428 677.9 L427.9 677.8 L427.7 677.3 L427.6 676.2 L427.4 674.8 L427.2 672.9 L427.1 670.8 L426.9 668.6 L426.8 666.4 L426.6 664.6 L426.5 663.7 L426.3 664 L426.2 665.5 L426 667.6 L425.9 669.8 L425.7 672.1 L425.6 674.1 L425.4 675.8 L425.2 677.1 L425.1 677.9 L424.9 678.2 L424.8 678 L424.6 677.4 L424.5 676.3 L424.3 674.7 L424.2 672.8 L424 670.7 L423.9 668.4 L423.7 666.2 L423.5 664.4 L423.4 663.5 L423.2 663.8 L423.1 665.1 L422.9 667.1 L422.8 669.2 L422.6 671.3 L422.5 673.2 L422.3 674.7 L422.2 675.9 L422 676.6 L421.9 676.8 L421.7 676.6 L421.5 675.9 L421.4 674.8 L421.2 673.3 L421.1 671.5 L420.9 669.5 L420.8 667.3 L420.6 665.2 L420.5 663.6 L420.3 662.7 L420.2 662.9 L420 664.2 L419.8 665.9 L419.7 667.8 L419.5 669.7 L419.4 671.3 L419.2 672.6 L419.1 673.6 L418.9 674.2 L418.8 674.4 L418.6 674.2 L418.5 673.6 L418.3 672.6 L418.2 671.2 L418 669.6 L417.8 667.8 L417.7 665.9 L417.5 664.1 L417.4 662.6 L417.2 661.8 L417.1 662 L416.9 663.1 L416.8 664.7 L416.6 666.4 L416.5 668 L416.3 669.5 L416.1 670.7 L416 671.7 L415.8 672.2 L415.7 672.4 L415.5 672.3 L415.4 671.8 L415.2 670.9 L415.1 669.8 L414.9 668.3 L414.8 666.7 L414.6 665 L414.5 663.4 L414.3 662 L414.1 661.3 L414 661.6 L413.8 662.6 L413.7 664.1 L413.5 665.8 L413.4 667.4 L413.2 668.9 L413.1 670.1 L412.9 671.1 L412.8 671.7 L412.6 672 L412.4 671.9 L412.3 671.5 L412.1 670.7 L412 669.7 L411.8 668.3 L411.7 666.8 L411.5 665.1 L411.4 663.5 L411.2 662.2 L411.1 661.5 L410.9 661.7 L410.7 662.8 L410.6 664.4 L410.4 666.1 L410.3 667.9 L410.1 669.5 L410 670.8 L409.8 671.9 L409.7 672.6 L409.5 672.9 L409.4 672.9 L409.2 672.5 L409.1 671.7 L408.9 670.6 L408.7 669.2 L408.6 667.6 L408.4 665.8 L408.3 664.1 L408.1 662.7 L408 662 L407.8 662.2 L407.7 663.4 L407.5 665.1 L407.4 667 L407.2 668.9 L407 670.6 L406.9 672 L406.7 673.2 L406.6 673.9 L406.4 674.3 L406.3 674.2 L406.1 673.8 L406 672.9 L405.8 671.7 L405.7 670.2 L405.5 668.4 L405.4 666.5 L405.2 664.7 L405 663.1 L404.9 662.3 L404.7 662.6 L404.6 663.8 L404.4 665.5 L404.3 667.5 L404.1 669.3 L404 671 L403.8 672.5 L403.7 673.6 L403.5 674.3 L403.3 674.6 L403.2 674.4 L403 673.9 L402.9 672.9 L402.7 671.7 L402.6 670.1 L402.4 668.2 L402.3 666.3 L402.1 664.5 L402 662.9 L401.8 662.1 L401.7 662.3 L401.5 663.4 L401.3 665 L401.2 666.8 L401 668.6 L400.9 670.1 L400.7 671.4 L400.6 672.3 L400.4 672.9 L400.3 673.1 L400.1 672.9 L400 672.3 L399.8 671.4 L399.6 670.2 L399.5 668.7 L399.3 667 L399.2 665.2 L399 663.5 L398.9 662.1 L398.7 661.3 L398.6 661.5 L398.4 662.5 L398.3 663.9 L398.1 665.4 L397.9 666.9 L397.8 668.2 L397.6 669.3 L397.5 670.1 L397.3 670.6 L397.2 670.8 L397 670.6 L396.9 670.1 L396.7 669.3 L396.6 668.2 L396.4 666.9 L396.3 665.5 L396.1 663.9 L395.9 662.4 L395.8 661.2 L395.6 660.6 L395.5 660.7 L395.3 661.6 L395.2 662.9 L395 664.3 L394.9 665.6 L394.7 666.9 L394.6 667.9 L394.4 668.7 L394.2 669.2 L394.1 669.4 L393.9 669.3 L393.8 668.9 L393.6 668.2 L393.5 667.3 L393.3 666.2 L393.2 664.9 L393 663.5 L392.9 662.1 L392.7 661 L392.6 660.4 L392.4 660.5 L392.2 661.4 L392.1 662.7 L391.9 664.2 L391.8 665.6 L391.6 666.9 L391.5 668 L391.3 668.9 L391.2 669.5 L391 669.8 L390.9 669.8 L390.7 669.5 L390.5 668.9 L390.4 668 L390.2 666.8 L390.1 665.5 L389.9 664 L389.8 662.6 L389.6 661.4 L389.5 660.8 L389.3 661 L389.2 662 L389 663.4 L388.9 665 L388.7 666.6 L388.5 668.1 L388.4 669.3 L388.2 670.3 L388.1 671 L387.9 671.4 L387.8 671.4 L387.6 671.1 L387.5 670.4 L387.3 669.4 L387.2 668.1 L387 666.6 L386.8 665 L386.7 663.4 L386.5 662.1 L386.4 661.4 L386.2 661.6 L386.1 662.7 L385.9 664.2 L385.8 666 L385.6 667.7 L385.5 669.2 L385.3 670.6 L385.1 671.6 L385 672.3 L384.8 672.6 L384.7 672.6 L384.5 672.1 L384.4 671.3 L384.2 670.2 L384.1 668.8 L383.9 667.2 L383.8 665.5 L383.6 663.8 L383.5 662.3 L383.3 661.6 L383.1 661.8 L383 662.8 L382.8 664.3 L382.7 666 L382.5 667.7 L382.4 669.1 L382.2 670.4 L382.1 671.3 L381.9 671.9 L381.8 672.1 L381.6 672 L381.4 671.5 L381.3 670.6 L381.1 669.5 L381 668.1 L380.8 666.5 L380.7 664.8 L380.5 663.2 L380.4 661.8 L380.2 661.1 L380.1 661.2 L379.9 662.1 L379.8 663.5 L379.6 665 L379.4 666.4 L379.3 667.7 L379.1 668.7 L379 669.5 L378.8 670 L378.7 670.2 L378.5 670 L378.4 669.5 L378.2 668.7 L378.1 667.7 L377.9 666.5 L377.7 665 L377.6 663.6 L377.4 662.1 L377.3 660.9 L377.1 660.3 L377 660.4 L376.8 661.2 L376.7 662.4 L376.5 663.7 L376.4 665 L376.2 666.1 L376.1 667.1 L375.9 667.8 L375.7 668.2 L375.6 668.4 L375.4 668.3 L375.3 667.9 L375.1 667.2 L375 666.4 L374.8 665.3 L374.7 664.1 L374.5 662.8 L374.4 661.5 L374.2 660.4 L374 659.9 L373.9 660 L373.7 660.8 L373.6 661.9 L373.4 663.2 L373.3 664.5 L373.1 665.6 L373 666.6 L372.8 667.4 L372.7 667.9 L372.5 668.1 L372.4 668.1 L372.2 667.8 L372 667.3 L371.9 666.5 L371.7 665.5 L371.6 664.3 L371.4 663 L371.3 661.8 L371.1 660.7 L371 660.1 L370.8 660.3 L370.7 661.1 L370.5 662.4 L370.3 663.8 L370.2 665.2 L370 666.6 L369.9 667.7 L369.7 668.6 L369.6 669.2 L369.4 669.6 L369.3 669.6 L369.1 669.4 L369 668.8 L368.8 667.9 L368.6 666.8 L368.5 665.5 L368.3 664.1 L368.2 662.6 L368 661.4 L367.9 660.8 L367.7 661 L367.6 661.9 L367.4 663.4 L367.3 665 L367.1 666.5 L367 668 L366.8 669.3 L366.6 670.2 L366.5 670.9 L366.3 671.3 L366.2 671.3 L366 670.9 L365.9 670.3 L365.7 669.3 L365.6 668 L365.4 666.5 L365.3 664.9 L365.1 663.3 L364.9 662 L364.8 661.3 L364.6 661.4 L364.5 662.4 L364.3 663.9 L364.2 665.5 L364 667.2 L363.9 668.6 L363.7 669.9 L363.6 670.8 L363.4 671.4 L363.3 671.7 L363.1 671.6 L362.9 671.2 L362.8 670.4 L362.6 669.3 L362.5 668 L362.3 666.4 L362.2 664.8 L362 663.2 L361.9 661.8 L361.7 661.1 L361.6 661.2 L361.4 662.1 L361.2 663.5 L361.1 665 L360.9 666.5 L360.8 667.8 L360.6 668.9 L360.5 669.7 L360.3 670.2 L360.2 670.3 L360 670.2 L359.9 669.7 L359.7 668.9 L359.6 667.9 L359.4 666.6 L359.2 665.2 L359.1 663.7 L358.9 662.2 L358.8 661 L358.6 660.3 L358.5 660.4 L358.3 661.2 L358.2 662.3 L358 663.6 L357.9 664.9 L357.7 666 L357.5 666.9 L357.4 667.5 L357.2 667.9 L357.1 668.1 L356.9 667.9 L356.8 667.5 L356.6 666.8 L356.5 665.9 L356.3 664.9 L356.2 663.7 L356 662.4 L355.8 661.2 L355.7 660.1 L355.5 659.6 L355.4 659.6 L355.2 660.3 L355.1 661.3 L354.9 662.5 L354.8 663.6 L354.6 664.6 L354.5 665.4 L354.3 666 L354.2 666.5 L354 666.6 L353.8 666.6 L353.7 666.3 L353.5 665.7 L353.4 665 L353.2 664.1 L353.1 663 L352.9 661.9 L352.8 660.8 L352.6 659.9 L352.5 659.4 L352.3 659.5 L352.1 660.2 L352 661.2 L351.8 662.3 L351.7 663.5 L351.5 664.6 L351.4 665.5 L351.2 666.2 L351.1 666.8 L350.9 667 L350.8 667.1 L350.6 666.8 L350.5 666.3 L350.3 665.6 L350.1 664.7 L350 663.6 L349.8 662.5 L349.7 661.3 L349.5 660.3 L349.4 659.8 L349.2 659.9 L349.1 660.7 L348.9 661.9 L348.8 663.2 L348.6 664.5 L348.4 665.7 L348.3 666.8 L348.1 667.6 L348 668.2 L347.8 668.6 L347.7 668.6 L347.5 668.4 L347.4 667.8 L347.2 667 L347.1 666 L346.9 664.8 L346.8 663.4 L346.6 662.1 L346.4 661 L346.3 660.4 L346.1 660.5 L346 661.3 L345.8 662.6 L345.7 664 L345.5 665.5 L345.4 666.8 L345.2 667.9 L345.1 668.7 L344.9 669.3 L344.7 669.6 L344.6 669.6 L344.4 669.2 L344.3 668.6 L344.1 667.7 L344 666.5 L343.8 665.2 L343.7 663.7 L343.5 662.3 L343.4 661.1 L343.2 660.5 L343 660.5 L342.9 661.4 L342.7 662.6 L342.6 664 L342.4 665.3 L342.3 666.5 L342.1 667.5 L342 668.3 L341.8 668.8 L341.7 669 L341.5 668.9 L341.4 668.5 L341.2 667.8 L341 666.8 L340.9 665.7 L340.7 664.4 L340.6 663 L340.4 661.7 L340.3 660.6 L340.1 659.9 L340 660 L339.8 660.7 L339.7 661.7 L339.5 662.9 L339.3 664.1 L339.2 665.1 L339 665.9 L338.9 666.5 L338.7 666.9 L338.6 667 L338.4 666.9 L338.3 666.5 L338.1 665.8 L338 665 L337.8 664 L337.7 662.9 L337.5 661.7 L337.3 660.6 L337.2 659.6 L337 659.1 L336.9 659.1 L336.7 659.7 L336.6 660.5 L336.4 661.5 L336.3 662.4 L336.1 663.3 L336 663.9 L335.8 664.4 L335.6 664.7 L335.5 664.8 L335.3 664.7 L335.2 664.4 L335 663.9 L334.9 663.3 L334.7 662.4 L334.6 661.5 L334.4 660.6 L334.3 659.7 L334.1 658.9 L334 658.4 L333.8 658.5 L333.6 659 L333.5 659.7 L333.3 660.6 L333.2 661.5 L333 662.2 L332.9 662.9 L332.7 663.4 L332.6 663.7 L332.4 663.9 L332.3 663.8 L332.1 663.6 L331.9 663.3 L331.8 662.7 L331.6 662 L331.5 661.2 L331.3 660.4 L331.2 659.5 L331 658.8 L330.9 658.4 L330.7 658.5 L330.6 659 L330.4 659.8 L330.3 660.7 L330.1 661.6 L329.9 662.5 L329.8 663.2 L329.6 663.8 L329.5 664.3 L329.3 664.5 L329.2 664.5 L329 664.4 L328.9 664 L328.7 663.5 L328.6 662.8 L328.4 661.9 L328.2 661 L328.1 660.1 L327.9 659.3 L327.8 658.8 L327.6 658.9 L327.5 659.5 L327.3 660.4 L327.2 661.5 L327 662.6 L326.9 663.5 L326.7 664.4 L326.5 665.1 L326.4 665.6 L326.2 665.8 L326.1 665.9 L325.9 665.7 L325.8 665.2 L325.6 664.6 L325.5 663.8 L325.3 662.8 L325.2 661.7 L325 660.7 L324.9 659.8 L324.7 659.3 L324.5 659.3 L324.4 660 L324.2 661 L324.1 662.1 L323.9 663.2 L323.8 664.2 L323.6 665.1 L323.5 665.8 L323.3 666.2 L323.2 666.4 L323 666.4 L322.8 666.1 L322.7 665.6 L322.5 664.9 L322.4 664 L322.2 662.9 L322.1 661.8 L321.9 660.7 L321.8 659.7 L321.6 659.2 L321.5 659.2 L321.3 659.8 L321.2 660.8 L321 661.8 L320.8 662.8 L320.7 663.7 L320.5 664.4 L320.4 665 L320.2 665.3 L320.1 665.5 L319.9 665.3 L319.8 665 L319.6 664.5 L319.5 663.8 L319.3 662.9 L319.1 661.9 L319 660.9 L318.8 659.9 L318.7 659.1 L318.5 658.6 L318.4 658.6 L318.2 659 L318.1 659.8 L317.9 660.6 L317.8 661.4 L317.6 662.1 L317.5 662.6 L317.3 663 L317.1 663.2 L317 663.3 L316.8 663.1 L316.7 662.8 L316.5 662.4 L316.4 661.8 L316.2 661.1 L316.1 660.3 L315.9 659.5 L315.8 658.7 L315.6 658.1 L315.4 657.7 L315.3 657.7 L315.1 658 L315 658.6 L314.8 659.2 L314.7 659.8 L314.5 660.3 L314.4 660.7 L314.2 661 L314.1 661.2 L313.9 661.2 L313.7 661.2 L313.6 660.9 L313.4 660.6 L313.3 660.2 L313.1 659.7 L313 659.1 L312.8 658.5 L312.7 657.9 L312.5 657.4 L312.4 657.1 L312.2 657.2 L312.1 657.5 L311.9 657.9 L311.7 658.4 L311.6 659 L311.4 659.4 L311.3 659.9 L311.1 660.2 L311 660.4 L310.8 660.5 L310.7 660.5 L310.5 660.4 L310.4 660.2 L310.2 659.8 L310 659.4 L309.9 658.9 L309.7 658.4 L309.6 657.9 L309.4 657.4 L309.3 657.2 L309.1 657.2 L309 657.6 L308.8 658.1 L308.7 658.7 L308.5 659.3 L308.4 659.9 L308.2 660.4 L308 660.8 L307.9 661.1 L307.7 661.3 L307.6 661.3 L307.4 661.3 L307.3 661.1 L307.1 660.7 L307 660.3 L306.8 659.7 L306.7 659.1 L306.5 658.5 L306.3 658 L306.2 657.6 L306 657.7 L305.9 658.1 L305.7 658.8 L305.6 659.5 L305.4 660.3 L305.3 661 L305.1 661.7 L305 662.2 L304.8 662.6 L304.7 662.8 L304.5 662.8 L304.3 662.7 L304.2 662.5 L304 662 L303.9 661.4 L303.7 660.8 L303.6 660 L303.4 659.2 L303.3 658.6 L303.1 658.2 L303 658.2 L302.8 658.7 L302.6 659.4 L302.5 660.3 L302.3 661.1 L302.2 661.9 L302 662.6 L301.9 663.1 L301.7 663.5 L301.6 663.6 L301.4 663.6 L301.3 663.4 L301.1 663.1 L300.9 662.5 L300.8 661.8 L300.6 661.1 L300.5 660.2 L300.3 659.4 L300.2 658.6 L300 658.2 L299.9 658.2 L299.7 658.7 L299.6 659.4 L299.4 660.1 L299.3 660.9 L299.1 661.6 L298.9 662.1 L298.8 662.6 L298.6 662.8 L298.5 662.9 L298.3 662.8 L298.2 662.6 L298 662.2 L297.9 661.6 L297.7 660.9 L297.6 660.2 L297.4 659.4 L297.2 658.7 L297.1 658 L296.9 657.7 L296.8 657.6 L296.6 658 L296.5 658.5 L296.3 659.1 L296.2 659.6 L296 660.1 L295.9 660.5 L295.7 660.8 L295.6 661 L295.4 661 L295.2 660.9 L295.1 660.6 L294.9 660.3 L294.8 659.9 L294.6 659.4 L294.5 658.8 L294.3 658.2 L294.2 657.7 L294 657.2 L293.9 656.9 L293.7 656.9 L293.5 657.1 L293.4 657.5 L293.2 657.9 L293.1 658.3 L292.9 658.7 L292.8 659 L292.6 659.2 L292.5 659.3 L292.3 659.4 L292.2 659.3 L292 659.2 L291.9 658.9 L291.7 658.6 L291.5 658.3 L291.4 657.9 L291.2 657.5 L291.1 657.1 L290.9 656.7 L290.8 656.5 L290.6 656.5 L290.5 656.8 L290.3 657.1 L290.2 657.5 L290 657.9 L289.8 658.3 L289.7 658.6 L289.5 658.8 L289.4 659 L289.2 659.1 L289.1 659.2 L288.9 659.1 L288.8 659 L288.6 658.8 L288.5 658.5 L288.3 658.1 L288.2 657.7 L288 657.3 L287.8 657 L287.7 656.8 L287.5 656.8 L287.4 657.1 L287.2 657.5 L287.1 658.1 L286.9 658.6 L286.8 659.1 L286.6 659.6 L286.5 660 L286.3 660.3 L286.1 660.5 L286 660.6 L285.8 660.5 L285.7 660.4 L285.5 660.1 L285.4 659.7 L285.2 659.3 L285.1 658.7 L284.9 658.2 L284.8 657.7 L284.6 657.4 L284.4 657.5 L284.3 657.9 L284.1 658.5 L284 659.2 L283.8 659.9 L283.7 660.6 L283.5 661.2 L283.4 661.6 L283.2 662 L283.1 662.2 L282.9 662.3 L282.8 662.2 L282.6 661.9 L282.4 661.6 L282.3 661 L282.1 660.4 L282 659.7 L281.8 658.9 L281.7 658.3 L281.5 658 L281.4 658 L281.2 658.4 L281.1 659.1 L280.9 659.9 L280.7 660.7 L280.6 661.4 L280.4 662 L280.3 662.5 L280.1 662.8 L280 663 L279.8 662.9 L279.7 662.8 L279.5 662.4 L279.4 661.9 L279.2 661.3 L279.1 660.5 L278.9 659.8 L278.7 659 L278.6 658.3 L278.4 657.9 L278.3 657.9 L278.1 658.3 L278 658.9 L277.8 659.6 L277.7 660.3 L277.5 660.9 L277.4 661.4 L277.2 661.7 L277 662 L276.9 662 L276.7 661.9 L276.6 661.7 L276.4 661.3 L276.3 660.8 L276.1 660.3 L276 659.6 L275.8 658.9 L275.7 658.2 L275.5 657.7 L275.4 657.3 L275.2 657.3 L275 657.6 L274.9 658 L274.7 658.5 L274.6 659 L274.4 659.4 L274.3 659.7 L274.1 660 L274 660.1 L273.8 660.1 L273.7 660 L273.5 659.8 L273.3 659.5 L273.2 659.1 L273 658.7 L272.9 658.2 L272.7 657.7 L272.6 657.2 L272.4 656.8 L272.3 656.6 L272.1 656.6 L272 656.8 L271.8 657.1 L271.6 657.4 L271.5 657.8 L271.3 658.1 L271.2 658.3 L271 658.5 L270.9 658.6 L270.7 658.6 L270.6 658.6 L270.4 658.5 L270.3 658.3 L270.1 658.1 L270 657.8 L269.8 657.5 L269.6 657.1 L269.5 656.8 L269.3 656.5 L269.2 656.3 L269 656.3 L268.9 656.5 L268.7 656.8 L268.6 657.2 L268.4 657.5 L268.3 657.8 L268.1 658.1 L267.9 658.4 L267.8 658.6 L267.6 658.7 L267.5 658.7 L267.3 658.7 L267.2 658.6 L267 658.4 L266.9 658.2 L266.7 657.9 L266.6 657.5 L266.4 657.2 L266.3 656.8 L266.1 656.7 L265.9 656.7 L265.8 656.9 L265.6 657.4 L265.5 657.9 L265.3 658.4 L265.2 658.9 L265 659.3 L264.9 659.7 L264.7 660 L264.6 660.2 L264.4 660.3 L264.2 660.3 L264.1 660.1 L263.9 659.9 L263.8 659.5 L263.6 659.1 L263.5 658.6 L263.3 658 L263.2 657.6 L263 657.3 L262.9 657.3 L262.7 657.7 L262.6 658.2 L262.4 658.9 L262.2 659.6 L262.1 660.2 L261.9 660.7 L261.8 661.2 L261.6 661.5 L261.5 661.7 L261.3 661.8 L261.2 661.7 L261 661.4 L260.9 661.1 L260.7 660.6 L260.5 660 L260.4 659.3 L260.2 658.6 L260.1 658 L259.9 657.7 L259.8 657.7 L259.6 658.1 L259.5 658.7 L259.3 659.4 L259.2 660 L259 660.7 L258.8 661.2 L258.7 661.6 L258.5 661.9 L258.4 662 L258.2 662 L258.1 661.8 L257.9 661.5 L257.8 661 L257.6 660.5 L257.5 659.8 L257.3 659.1 L257.2 658.5 L257 657.9 L256.8 657.5 L256.7 657.5 L256.5 657.8 L256.4 658.3 L256.2 658.9 L256.1 659.4 L255.9 659.9 L255.8 660.3 L255.6 660.6 L255.5 660.8 L255.3 660.8 L255.1 660.7 L255 660.5 L254.8 660.2 L254.7 659.8 L254.5 659.3 L254.4 658.8 L254.2 658.2 L254.1 657.6 L253.9 657.2 L253.8 656.9 L253.6 656.8 L253.5 657 L253.3 657.4 L253.1 657.8 L253 658.2 L252.8 658.5 L252.7 658.8 L252.5 658.9 L252.4 659 L252.2 659 L252.1 658.9 L251.9 658.8 L251.8 658.5 L251.6 658.3 L251.4 657.9 L251.3 657.5 L251.1 657.1 L251 656.8 L250.8 656.4 L250.7 656.2 L250.5 656.2 L250.4 656.4 L250.2 656.6 L250.1 656.8 L249.9 657.1 L249.8 657.3 L249.6 657.5 L249.4 657.6 L249.3 657.7 L249.1 657.7 L249 657.7 L248.8 657.6 L248.7 657.5 L248.5 657.3 L248.4 657.1 L248.2 656.8 L248.1 656.6 L247.9 656.3 L247.7 656.1 L247.6 656 L247.4 656 L247.3 656.1 L247.1 656.3 L247 656.6 L246.8 656.8 L246.7 657.1 L246.5 657.3 L246.4 657.5 L246.2 657.6 L246.1 657.7 L245.9 657.7 L245.7 657.7 L245.6 657.6 L245.4 657.5 L245.3 657.3 L245.1 657.1 L245 656.9 L244.8 656.6 L244.7 656.4 L244.5 656.2 L244.4 656.2 L244.2 656.4 L244 656.7 L243.9 657.1 L243.7 657.5 L243.6 657.9 L243.4 658.2 L243.3 658.5 L243.1 658.8 L243 658.9 L242.8 659 L242.7 659 L242.5 658.9 L242.3 658.8 L242.2 658.5 L242 658.2 L241.9 657.8 L241.7 657.4 L241.6 657.1 L241.4 656.8 L241.3 656.9 L241.1 657.2 L241 657.6 L240.8 658.2 L240.7 658.7 L240.5 659.3 L240.3 659.8 L240.2 660.2 L240 660.5 L239.9 660.7 L239.7 660.8 L239.6 660.8 L239.4 660.6 L239.3 660.3 L239.1 659.9 L239 659.4 L238.8 658.9 L238.6 658.3 L238.5 657.8 L238.3 657.5 L238.2 657.5 L238 657.8 L237.9 658.4 L237.7 659.1 L237.6 659.7 L237.4 660.4 L237.3 660.9 L237.1 661.4 L237 661.7 L236.8 661.9 L236.6 661.9 L236.5 661.8 L236.3 661.5 L236.2 661.1 L236 660.6 L235.9 660 L235.7 659.3 L235.6 658.6 L235.4 658 L235.3 657.6 L235.1 657.6 L234.9 658 L234.8 658.5 L234.6 659.2 L234.5 659.8 L234.3 660.4 L234.2 660.9 L234 661.2 L233.9 661.5 L233.7 661.6 L233.6 661.5 L233.4 661.3 L233.3 661 L233.1 660.6 L232.9 660 L232.8 659.4 L232.6 658.8 L232.5 658.1 L232.3 657.6 L232.2 657.2 L232 657.2 L231.9 657.5 L231.7 657.9 L231.6 658.4 L231.4 658.9 L231.2 659.3 L231.1 659.7 L230.9 659.9 L230.8 660 L230.6 660.1 L230.5 660 L230.3 659.8 L230.2 659.6 L230 659.2 L229.9 658.8 L229.7 658.3 L229.5 657.8 L229.4 657.3 L229.2 656.9 L229.1 656.7 L228.9 656.6 L228.8 656.8 L228.6 657.1 L228.5 657.5 L228.3 657.8 L228.2 658.2 L228 658.4 L227.9 658.6 L227.7 658.7 L227.5 658.8 L227.4 658.7 L227.2 658.6 L227.1 658.5 L226.9 658.2 L226.8 657.9 L226.6 657.6 L226.5 657.2 L226.3 656.9 L226.2 656.6 L226 656.4 L225.8 656.4 L225.7 656.6 L225.5 656.9 L225.4 657.2 L225.2 657.6 L225.1 657.9 L224.9 658.2 L224.8 658.5 L224.6 658.7 L224.5 658.8 L224.3 658.9 L224.2 658.9 L224 658.8 L223.8 658.6 L223.7 658.3 L223.5 658 L223.4 657.6 L223.2 657.3 L223.1 656.9 L222.9 656.7 L222.8 656.7 L222.6 657 L222.5 657.4 L222.3 658 L222.1 658.5 L222 659 L221.8 659.5 L221.7 659.9 L221.5 660.2 L221.4 660.5 L221.2 660.6 L221.1 660.6 L220.9 660.5 L220.8 660.2 L220.6 659.9 L220.5 659.4 L220.3 658.9 L220.1 658.4 L220 657.9 L219.8 657.6 L219.7 657.6 L219.5 658 L219.4 658.6 L219.2 659.4 L219.1 660.2 L218.9 660.9 L218.8 661.6 L218.6 662.2 L218.4 662.6 L218.3 662.9 L218.1 663 L218 663 L217.8 662.7 L217.7 662.3 L217.5 661.8 L217.4 661.1 L217.2 660.3 L217.1 659.5 L216.9 658.8 L216.7 658.4 L216.6 658.4 L216.4 658.8 L216.3 659.6 L216.1 660.5 L216 661.5 L215.8 662.3 L215.7 663.1 L215.5 663.7 L215.4 664.2 L215.2 664.4 L215.1 664.5 L214.9 664.3 L214.7 664 L214.6 663.4 L214.4 662.7 L214.3 661.8 L214.1 660.9 L214 660 L213.8 659.2 L213.7 658.6 L213.5 658.6 L213.4 659 L213.2 659.8 L213 660.7 L212.9 661.6 L212.7 662.4 L212.6 663.1 L212.4 663.6 L212.3 664 L212.1 664.1 L212 664.1 L211.8 663.9 L211.7 663.4 L211.5 662.9 L211.4 662.1 L211.2 661.3 L211 660.4 L210.9 659.5 L210.7 658.7 L210.6 658.2 L210.4 658.2 L210.3 658.5 L210.1 659.2 L210 659.9 L209.8 660.7 L209.7 661.4 L209.5 661.9 L209.3 662.4 L209.2 662.6 L209 662.7 L208.9 662.7 L208.7 662.5 L208.6 662.1 L208.4 661.6 L208.3 661 L208.1 660.3 L208 659.6 L207.8 658.8 L207.7 658.2 L207.5 657.8 L207.3 657.7 L207.2 658.1 L207 658.6 L206.9 659.3 L206.7 660 L206.6 660.7 L206.4 661.2 L206.3 661.6 L206.1 662 L206 662.1 L205.8 662.2 L205.6 662.1 L205.5 661.8 L205.3 661.4 L205.2 660.9 L205 660.3 L204.9 659.6 L204.7 658.9 L204.6 658.3 L204.4 657.9 L204.3 657.9 L204.1 658.3 L204 659 L203.8 659.8 L203.6 660.6 L203.5 661.4 L203.3 662.1 L203.2 662.8 L203 663.2 L202.9 663.5 L202.7 663.7 L202.6 663.6 L202.4 663.4 L202.3 663 L202.1 662.4 L201.9 661.7 L201.8 660.8 L201.6 660 L201.5 659.2 L201.3 658.8 L201.2 658.8 L201 659.3 L200.9 660.2 L200.7 661.3 L200.6 662.4 L200.4 663.4 L200.2 664.4 L200.1 665.2 L199.9 665.8 L199.8 666.2 L199.6 666.3 L199.5 666.2 L199.3 665.9 L199.2 665.3 L199 664.5 L198.9 663.5 L198.7 662.5 L198.6 661.3 L198.4 660.3 L198.2 659.7 L198.1 659.7 L197.9 660.3 L197.8 661.3 L197.6 662.6 L197.5 663.9 L197.3 665.1 L197.2 666.2 L197 667 L196.9 667.6 L196.7 668 L196.5 668 L196.4 667.8 L196.2 667.3 L196.1 666.6 L195.9 665.6 L195.8 664.5 L195.6 663.2 L195.5 661.9 L195.3 660.8 L195.2 660 L195 660 L194.9 660.6 L194.7 661.6 L194.5 662.9 L194.4 664.2 L194.2 665.3 L194.1 666.3 L193.9 667.1 L193.8 667.6 L193.6 667.9 L193.5 667.8 L193.3 667.5 L193.2 667 L193 666.2 L192.8 665.2 L192.7 664 L192.5 662.8 L192.4 661.5 L192.2 660.4 L192.1 659.7 L191.9 659.6 L191.8 660.1 L191.6 661.1 L191.5 662.2 L191.3 663.3 L191.2 664.3 L191 665.2 L190.8 665.8 L190.7 666.2 L190.5 666.4 L190.4 666.3 L190.2 666 L190.1 665.5 L189.9 664.8 L189.8 663.9 L189.6 662.9 L189.5 661.8 L189.3 660.7 L189.1 659.7 L189 659.1 L188.8 659 L188.7 659.4 L188.5 660.3 L188.4 661.2 L188.2 662.2 L188.1 663.1 L187.9 663.9 L187.8 664.5 L187.6 664.9 L187.4 665.1 L187.3 665.1 L187.1 664.9 L187 664.4 L186.8 663.8 L186.7 663.1 L186.5 662.2 L186.4 661.2 L186.2 660.3 L186.1 659.4 L185.9 658.8 L185.8 658.8 L185.6 659.3 L185.4 660.1 L185.3 661.1 L185.1 662.1 L185 663.1 L184.8 663.9 L184.7 664.6 L184.5 665.1 L184.4 665.4 L184.2 665.5 L184.1 665.3 L183.9 665 L183.7 664.5 L183.6 663.7 L183.4 662.8 L183.3 661.8 L183.1 660.8 L183 659.9 L182.8 659.3 L182.7 659.3 L182.5 659.8 L182.4 660.8 L182.2 662 L182.1 663.2 L181.9 664.3 L181.7 665.4 L181.6 666.2 L181.4 666.9 L181.3 667.3 L181.1 667.4 L181 667.3 L180.8 666.9 L180.7 666.3 L180.5 665.4 L180.4 664.3 L180.2 663.2 L180 661.9 L179.9 660.8 L179.7 660.1 L179.6 660.1 L179.4 660.7 L179.3 661.9 L179.1 663.3 L179 664.7 L178.8 666 L178.7 667.2 L178.5 668.1 L178.4 668.8 L178.2 669.2 L178 669.4 L177.9 669.2 L177.7 668.7 L177.6 667.9 L177.4 666.8 L177.3 665.6 L177.1 664.2 L177 662.8 L176.8 661.5 L176.7 660.7 L176.5 660.6 L176.3 661.3 L176.2 662.5 L176 663.9 L175.9 665.4 L175.7 666.7 L175.6 667.9 L175.4 668.8 L175.3 669.5 L175.1 669.8 L175 669.8 L174.8 669.6 L174.6 668.9 L174.5 668.1 L174.3 666.9 L174.2 665.6 L174 664.2 L173.9 662.7 L173.7 661.4 L173.6 660.6 L173.4 660.4 L173.3 661.1 L173.1 662.2 L173 663.5 L172.8 664.9 L172.6 666.1 L172.5 667.2 L172.3 668 L172.2 668.5 L172 668.8 L171.9 668.7 L171.7 668.4 L171.6 667.8 L171.4 666.9 L171.3 665.8 L171.1 664.6 L170.9 663.3 L170.8 661.9 L170.6 660.7 L170.5 660 L170.3 659.8 L170.2 660.4 L170 661.4 L169.9 662.5 L169.7 663.7 L169.6 664.8 L169.4 665.7 L169.3 666.4 L169.1 666.9 L168.9 667.1 L168.8 667 L168.6 666.8 L168.5 666.2 L168.3 665.5 L168.2 664.5 L168 663.5 L167.9 662.3 L167.7 661.1 L167.6 660.1 L167.4 659.4 L167.2 659.3 L167.1 659.8 L166.9 660.7 L166.8 661.8 L166.6 662.9 L166.5 663.9 L166.3 664.8 L166.2 665.5 L166 666 L165.9 666.3 L165.7 666.3 L165.6 666.1 L165.4 665.7 L165.2 665 L165.1 664.2 L164.9 663.2 L164.8 662.1 L164.6 661 L164.5 660.1 L164.3 659.4 L164.2 659.3 L164 659.9 L163.9 660.8 L163.7 662 L163.5 663.2 L163.4 664.3 L163.2 665.3 L163.1 666.1 L162.9 666.7 L162.8 667.1 L162.6 667.2 L162.5 667.1 L162.3 666.7 L162.2 666 L162 665.2 L161.8 664.1 L161.7 663 L161.5 661.8 L161.4 660.7 L161.2 660 L161.1 659.9 L160.9 660.6 L160.8 661.7 L160.6 663 L160.5 664.4 L160.3 665.7 L160.2 666.9 L160 667.9 L159.8 668.6 L159.7 669 L159.5 669.2 L159.4 669 L159.2 668.6 L159.1 667.9 L158.9 666.9 L158.8 665.7 L158.6 664.3 L158.5 662.9 L158.3 661.6 L158.1 660.8 L158 660.7 L157.8 661.4 L157.7 662.7 L157.5 664.2 L157.4 665.8 L157.2 667.3 L157.1 668.6 L156.9 669.6 L156.8 670.4 L156.6 670.8 L156.5 670.9 L156.3 670.7 L156.1 670.1 L156 669.3 L155.8 668.1 L155.7 666.7 L155.5 665.2 L155.4 663.6 L155.2 662.2 L155.1 661.2 L154.9 661.1 L154.8 661.8 L154.6 663.1 L154.4 664.7 L154.3 666.3 L154.1 667.8 L154 669 L153.8 670.1 L153.7 670.8 L153.5 671.1 L153.4 671.2 L153.2 670.8 L153.1 670.2 L152.9 669.2 L152.8 668 L152.6 666.6 L152.4 665 L152.3 663.4 L152.1 662 L152 661 L151.8 660.9 L151.7 661.5 L151.5 662.8 L151.4 664.2 L151.2 665.7 L151.1 667 L150.9 668.2 L150.7 669.1 L150.6 669.7 L150.4 670 L150.3 670 L150.1 669.6 L150 669 L149.8 668 L149.7 666.9 L149.5 665.5 L149.4 664.1 L149.2 662.6 L149.1 661.3 L148.9 660.5 L148.7 660.3 L148.6 660.9 L148.4 662 L148.3 663.3 L148.1 664.6 L148 665.8 L147.8 666.8 L147.7 667.6 L147.5 668.2 L147.4 668.5 L147.2 668.5 L147 668.2 L146.9 667.6 L146.7 666.8 L146.6 665.8 L146.4 664.6 L146.3 663.3 L146.1 662 L146 660.8 L145.8 660 L145.7 659.9 L145.5 660.5 L145.3 661.5 L145.2 662.7 L145 664 L144.9 665.2 L144.7 666.2 L144.6 667.1 L144.4 667.6 L144.3 668 L144.1 668.1 L144 667.9 L143.8 667.4 L143.7 666.7 L143.5 665.7 L143.3 664.6 L143.2 663.3 L143 662.1 L142.9 660.9 L142.7 660.2 L142.6 660 L142.4 660.7 L142.3 661.8 L142.1 663.1 L142 664.5 L141.8 665.8 L141.6 667 L141.5 668 L141.3 668.7 L141.2 669.1 L141 669.3 L140.9 669.1 L140.7 668.7 L140.6 667.9 L140.4 666.9 L140.3 665.7 L140.1 664.4 L140 663 L139.8 661.7 L139.6 660.8 L139.5 660.7 L139.3 661.4 L139.2 662.7 L139 664.3 L138.9 665.9 L138.7 667.4 L138.6 668.8 L138.4 669.9 L138.3 670.8 L138.1 671.3 L137.9 671.5 L137.8 671.3 L137.6 670.8 L137.5 669.9 L137.3 668.8 L137.2 667.4 L137 665.8 L136.9 664.2 L136.7 662.7 L136.6 661.7 L136.4 661.6 L136.3 662.3 L136.1 663.8 L135.9 665.5 L135.8 667.3 L135.6 669 L135.5 670.5 L135.3 671.7 L135.2 672.6 L135 673.2 L134.9 673.3 L134.7 673 L134.6 672.4 L134.4 671.4 L134.2 670.1 L134.1 668.5 L133.9 666.7 L133.8 664.9 L133.6 663.3 L133.5 662.2 L133.3 662 L133.2 662.8 L133 664.3 L132.9 666 L132.7 667.9 L132.5 669.6 L132.4 671 L132.2 672.2 L132.1 673 L131.9 673.5 L131.8 673.5 L131.6 673.2 L131.5 672.4 L131.3 671.4 L131.2 670 L131 668.3 L130.9 666.5 L130.7 664.7 L130.5 663.1 L130.4 662 L130.2 661.7 L130.1 662.5 L129.9 663.9 L129.8 665.5 L129.6 667.2 L129.5 668.8 L129.3 670.1 L129.2 671.2 L129 671.9 L128.8 672.3 L128.7 672.3 L128.5 671.9 L128.4 671.2 L128.2 670.2 L128.1 668.9 L127.9 667.3 L127.8 665.6 L127.6 664 L127.5 662.4 L127.3 661.4 L127.2 661.2 L127 661.9 L126.8 663.1 L126.7 664.7 L126.5 666.3 L126.4 667.7 L126.2 669 L126.1 670 L125.9 670.7 L125.8 671.1 L125.6 671.1 L125.5 670.8 L125.3 670.2 L125.1 669.2 L125 668.1 L124.8 666.7 L124.7 665.1 L124.5 663.5 L124.4 662.1 L124.2 661.2 L124.1 661 L123.9 661.7 L123.8 662.9 L123.6 664.5 L123.5 666.1 L123.3 667.6 L123.1 668.9 L123 670 L122.8 670.8 L122.7 671.3 L122.5 671.4 L122.4 671.2 L122.2 670.7 L122.1 669.8 L121.9 668.6 L121.8 667.2 L121.6 665.7 L121.4 664.1 L121.3 662.6 L121.1 661.6 L121 661.4 L120.8 662.2 L120.7 663.6 L120.5 665.4 L120.4 667.2 L120.2 668.9 L120.1 670.4 L119.9 671.7 L119.7 672.6 L119.6 673.2 L119.4 673.4 L119.3 673.2 L119.1 672.7 L119 671.7 L118.8 670.4 L118.7 668.9 L118.5 667.1 L118.4 665.3 L118.2 663.7 L118.1 662.5 L117.9 662.3 L117.7 663.2 L117.6 664.8 L117.4 666.8 L117.3 668.9 L117.1 670.8 L117 672.6 L116.8 674 L116.7 675 L116.5 675.7 L116.4 675.9 L116.2 675.6 L116 674.9 L115.9 673.8 L115.7 672.4 L115.6 670.6 L115.4 668.6 L115.3 666.5 L115.1 664.6 L115 663.4 L114.8 663.1 L114.7 664 L114.5 665.8 L114.4 667.9 L114.2 670.1 L114 672.1 L113.9 673.9 L113.7 675.4 L113.6 676.4 L113.4 677 L113.3 677.1 L113.1 676.8 L113 676 L112.8 674.7 L112.7 673.1 L112.5 671.2 L112.3 669 L112.2 666.8 L112 664.9 L111.9 663.5 L111.7 663.2 L111.6 664.1 L111.4 665.8 L111.3 667.9 L111.1 670 L111 671.9 L110.8 673.6 L110.7 675 L110.5 675.9 L110.3 676.4 L110.2 676.4 L110 676 L109.9 675.2 L109.7 673.9 L109.6 672.3 L109.4 670.4 L109.3 668.3 L109.1 666.2 L109 664.3 L108.8 663 L108.6 662.7 L108.5 663.5 L108.3 665.1 L108.2 667 L108 669 L107.9 670.8 L107.7 672.4 L107.6 673.6 L107.4 674.5 L107.3 675 L107.1 675 L107 674.6 L106.8 673.9 L106.6 672.7 L106.5 671.2 L106.3 669.5 L106.2 667.5 L106 665.6 L105.9 663.8 L105.7 662.6 L105.6 662.3 L105.4 663.1 L105.3 664.7 L105.1 666.5 L104.9 668.5 L104.8 670.3 L104.6 671.9 L104.5 673.2 L104.3 674.1 L104.2 674.7 L104 674.8 L103.9 674.5 L103.7 673.9 L103.6 672.8 L103.4 671.4 L103.2 669.7 L103.1 667.8 L102.9 665.9 L102.8 664.1 L102.6 662.9 L102.5 662.7 L102.3 663.5 L102.2 665.2 L102 667.2 L101.9 669.3 L101.7 671.4 L101.6 673.2 L101.4 674.6 L101.2 675.7 L101.1 676.4 L100.9 676.7 L100.8 676.5 L100.6 675.8 L100.5 674.7 L100.3 673.2 L100.2 671.3 L100 669.3 L99.9 667.2 L99.7 665.2 L99.5 663.8 L99.4 663.6 L99.2 664.5 L99.1 666.4 L98.9 668.7 L98.8 671.1 L98.6 673.3 L98.5 675.3 L98.3 677 L98.2 678.2 L98 678.9 L97.9 679.2 L97.7 678.9 L97.5 678.1 L97.4 676.8 L97.2 675.1 L97.1 673 L96.9 670.7 L96.8 668.3 L96.6 666.2 L96.5 664.6 L96.3 664.3 L96.2 665.3 L96 667.3 L95.8 669.7 L95.7 672.3 L95.5 674.6 L95.4 676.7 L95.2 678.3 L95.1 679.5 L94.9 680.2 L94.8 680.4 L94.6 680 L94.5 679.1 L94.3 677.6 L94.2 675.8 L94 673.6 L93.8 671.1 L93.7 668.6 L93.5 666.4 L93.4 664.8 L93.2 664.4 L93.1 665.4 L92.9 667.3 L92.8 669.7 L92.6 672.1 L92.5 674.4 L92.3 676.3 L92.1 677.9 L92 679 L91.8 679.6 L91.7 679.7 L91.5 679.2 L91.4 678.2 L91.2 676.8 L91.1 675 L90.9 672.8 L90.8 670.4 L90.6 668 L90.4 665.8 L90.3 664.3 L90.1 663.9 L90 664.8 L89.8 666.6 L89.7 668.8 L89.5 671.1 L89.4 673.2 L89.2 675 L89.1 676.4 L88.9 677.4 L88.8 678 L88.6 678 L88.4 677.6 L88.3 676.7 L88.1 675.4 L88 673.7 L87.8 671.6 L87.7 669.4 L87.5 667.2 L87.4 665.1 L87.2 663.7 L87.1 663.4 L86.9 664.2 L86.7 665.9 L86.6 668 L86.4 670.2 L86.3 672.2 L86.1 674 L86 675.5 L85.8 676.5 L85.7 677.1 L85.5 677.2 L85.4 676.9 L85.2 676.1 L85.1 674.8 L84.9 673.2 L84.7 671.3 L84.6 669.2 L84.4 667 L84.3 665.1 L84.1 663.7 L84 663.4 L83.8 664.3 L83.7 666 L83.5 668.2 L83.4 670.5 L83.2 672.6 L83 674.5 L82.9 676.1 L82.7 677.2 L82.6 677.9 L82.4 678.1 L82.3 677.9 L82.1 677.1 L82 675.9 L81.8 674.3 L81.7 672.4 L81.5 670.2 L81.4 667.9 L81.2 665.8 L81 664.3 L80.9 664 L80.7 665 L80.6 666.9 L80.4 669.3 L80.3 671.8 L80.1 674.2 L80 676.3 L79.8 678 L79.7 679.3 L79.5 680.1 L79.3 680.3 L79.2 680 L79 679.2 L78.9 677.9 L78.7 676.1 L78.6 674 L78.4 671.6 L78.3 669.1 L78.1 666.8 L78 665.2 L77.8 664.8 L77.6 665.8 L77.5 667.9 L77.3 670.5 L77.2 673.1 L77 675.7 L76.9 677.9 L76.7 679.7 L76.6 681 L76.4 681.8 L76.3 682 L76.1 681.6 L76 680.7 L75.8 679.2 L75.6 677.3 L75.5 675 L75.3 672.4 L75.2 669.7 L75 667.3 L74.9 665.6 L74.7 665.1 L74.6 666.2 L74.4 668.3 L74.3 670.8 L74.1 673.5 L73.9 676 L73.8 678.2 L73.6 679.9 L73.5 681.2 L73.3 681.8 L73.2 682 L73 681.5 L72.9 680.5 L72.7 679 L72.6 677 L72.4 674.6 L72.3 672 L72.1 669.4 L71.9 667 L71.8 665.2 L71.6 664.8 L71.5 665.8 L71.3 667.7 L71.2 670.2 L71 672.7 L70.9 675 L70.7 677 L70.6 678.6 L70.4 679.7 L70.2 680.4 L70.1 680.4 L69.9 679.9 L69.8 679 L69.6 677.5 L69.5 675.6 L69.3 673.4 L69.2 670.9 L69 668.4 L68.9 666.2 L68.7 664.6 L68.6 664.1 L68.4 665 L68.2 666.8 L68.1 669.1 L67.9 671.5 L67.8 673.6 L67.6 675.5 L67.5 677 L67.3 678.1 L67.2 678.7 L67 678.8 L66.9 678.4 L66.7 677.5 L66.5 676.2 L66.4 674.5 L66.2 672.4 L66.1 670.1 L65.9 667.8 L65.8 665.7 L65.6 664.1 L65.5 663.7 L65.3 664.6 L65.2 666.4 L65 668.7 L64.9 671 L64.7 673.2 L64.5 675.1 L64.4 676.7 L64.2 677.8 L64.1 678.5 L63.9 678.7 L63.8 678.4 L63.6 677.6 L63.5 676.3 L63.3 674.7 L63.2 672.6 L63 670.4 L62.8 668.1 L62.7 665.9 L62.5 664.4 L62.4 664 L62.2 665 L62.1 666.9 L61.9 669.3 L61.8 671.7 L61.6 674.1 L61.5 676.2 L61.3 677.9 L61.1 679.2 L61 680 L60.8 680.3 L60.7 680 L60.5 679.2 L60.4 677.9 L60.2 676.2 L60.1 674 L59.9 671.6 L59.8 669.1 L59.6 666.8 L59.5 665.2 L59.3 664.8 L59.1 665.8 L59 667.9 L58.8 670.5 L58.7 673.1 L58.5 675.7 L58.4 678 L58.2 679.8 L58.1 681.2 L57.9 682 L57.8 682.3 L57.6 682 L57.4 681.1 L57.3 679.6 L57.1 677.7 L57 675.4 L56.8 672.8 L56.7 670.1 L56.5 667.6 L56.4 665.8 L56.2 665.4 L56.1 666.4 L55.9 668.6 L55.8 671.2 L55.6 674 L55.4 676.6 L55.3 678.9 L55.1 680.8 L55 682.1 L54.8 682.9 L54.7 683.1 L54.5 682.7 L54.4 681.7 L54.2 680.1 L54.1 678.1 L53.9 675.7 L53.7 673 L53.6 670.2 L53.4 667.7 L53.3 665.8 L53.1 665.3 L53 666.3 L52.8 668.4 L52.7 671 L52.5 673.7 L52.4 676.2 L52.2 678.3 L52.1 680.1 L51.9 681.3 L51.7 682 L51.6 682.1 L51.4 681.6 L51.3 680.6 L51.1 679 L51 677 L50.8 674.7 L50.7 672.1 L50.5 669.4 L50.4 667 L50.2 665.2Z" fill="#000" stroke="#000" stroke-width="0.75" stroke-linejoin="round"/>
<rect x="50.2" y="576.25" width="530.8" height="157.15" fill="none" stroke="#111" stroke-width="1.25"/>
<path d="M64.94 576.25v2.7 M64.94 733.4v-2.7 M79.69 576.25v2.7 M79.69 733.4v-2.7 M94.43 576.25v2.7 M94.43 733.4v-2.7 M109.18 576.25v2.7 M109.18 733.4v-2.7 M123.92 576.25v2.7 M123.92 733.4v-2.7 M138.67 576.25v4.8 M138.67 733.4v-4.8 M153.41 576.25v2.7 M153.41 733.4v-2.7 M168.16 576.25v2.7 M168.16 733.4v-2.7 M182.9 576.25v2.7 M182.9 733.4v-2.7 M197.64 576.25v2.7 M197.64 733.4v-2.7 M212.39 576.25v2.7 M212.39 733.4v-2.7 M227.13 576.25v4.8 M227.13 733.4v-4.8 M241.88 576.25v2.7 M241.88 733.4v-2.7 M256.62 576.25v2.7 M256.62 733.4v-2.7 M271.37 576.25v2.7 M271.37 733.4v-2.7 M286.11 576.25v2.7 M286.11 733.4v-2.7 M300.86 576.25v2.7 M300.86 733.4v-2.7 M315.6 576.25v4.8 M315.6 733.4v-4.8 M330.34 576.25v2.7 M330.34 733.4v-2.7 M345.09 576.25v2.7 M345.09 733.4v-2.7 M359.83 576.25v2.7 M359.83 733.4v-2.7 M374.58 576.25v2.7 M374.58 733.4v-2.7 M389.32 576.25v2.7 M389.32 733.4v-2.7 M404.07 576.25v4.8 M404.07 733.4v-4.8 M418.81 576.25v2.7 M418.81 733.4v-2.7 M433.56 576.25v2.7 M433.56 733.4v-2.7 M448.3 576.25v2.7 M448.3 733.4v-2.7 M463.04 576.25v2.7 M463.04 733.4v-2.7 M477.79 576.25v2.7 M477.79 733.4v-2.7 M492.53 576.25v4.8 M492.53 733.4v-4.8 M507.28 576.25v2.7 M507.28 733.4v-2.7 M522.02 576.25v2.7 M522.02 733.4v-2.7 M536.77 576.25v2.7 M536.77 733.4v-2.7 M551.51 576.25v2.7 M551.51 733.4v-2.7 M566.26 576.25v2.7 M566.26 733.4v-2.7 M50.2 717.68h3.7 M581 717.68h-3.7 M50.2 701.97h7.4 M581 701.97h-7.4 M50.2 686.25h3.7 M581 686.25h-3.7 M50.2 670.54h3.7 M581 670.54h-3.7 M50.2 654.83h7.4 M581 654.83h-7.4 M50.2 639.11h3.7 M581 639.11h-3.7 M50.2 623.39h3.7 M581 623.39h-3.7 M50.2 607.68h7.4 M581 607.68h-7.4 M50.2 591.97h3.7 M581 591.97h-3.7" stroke="#111" stroke-width="1.25" fill="none"/>
<text x="50.7" y="752.4" font-size="14.8" text-anchor="middle" textLength="35.4" lengthAdjust="spacing">1965</text>
<text x="139.17" y="752.4" font-size="14.8" text-anchor="middle" textLength="35.4" lengthAdjust="spacing">1975</text>
<text x="227.63" y="752.4" font-size="14.8" text-anchor="middle" textLength="35.4" lengthAdjust="spacing">1985</text>
<text x="316.1" y="752.4" font-size="14.8" text-anchor="middle" textLength="35.4" lengthAdjust="spacing">1995</text>
<text x="404.57" y="752.4" font-size="14.8" text-anchor="middle" textLength="35.4" lengthAdjust="spacing">2005</text>
<text x="493.03" y="752.4" font-size="14.8" text-anchor="middle" textLength="35.4" lengthAdjust="spacing">2015</text>
<text x="581.5" y="752.4" font-size="14.8" text-anchor="middle" textLength="35.4" lengthAdjust="spacing">2025</text>
<text x="315.6" y="777.1" font-size="16.4" text-anchor="middle" textLength="36.4" lengthAdjust="spacing">Date</text>
<text transform="translate(39.9 607.28) rotate(-90)" font-size="14.8" text-anchor="middle" textLength="20.6" lengthAdjust="spacing">1.5</text>
<text transform="translate(39.9 654.43) rotate(-90)" font-size="14.8" text-anchor="middle">0</text>
<text transform="translate(39.9 701.57) rotate(-90)" font-size="14.8" text-anchor="middle" textLength="34.2" lengthAdjust="spacing">−1.5</text>
<text transform="translate(12.9 654.83) rotate(-90)" font-size="15.6" text-anchor="middle" textLength="24" lengthAdjust="spacing">km</text></g>
<text y="15.6" font-size="17.2" xml:space="default"><tspan x="204" textLength="23" lengthAdjust="spacing">(a)</tspan> <tspan x="238" textLength="87" lengthAdjust="spacing">Transverse</tspan> <tspan x="335.6" textLength="91" lengthAdjust="spacing">Differences</tspan></text>
<text y="286.6" font-size="17.2" xml:space="default"><tspan x="183.4" textLength="23.6" lengthAdjust="spacing">(b)</tspan> <tspan x="217.4" textLength="48.2" lengthAdjust="spacing">Radial</tspan> <tspan x="276" textLength="70" lengthAdjust="spacing">Distance</tspan> <tspan x="356.4" textLength="91" lengthAdjust="spacing">Differences</tspan></text>
<text y="557.1" font-size="17.2" xml:space="default"><tspan x="189.8" textLength="22.9" lengthAdjust="spacing">(c)</tspan> <tspan x="222.3" textLength="117.3" lengthAdjust="spacing">Out–of–Plane</tspan> <tspan x="350.1" textLength="91.3" lengthAdjust="spacing">Differences</tspan></text>
</svg></body></html>
